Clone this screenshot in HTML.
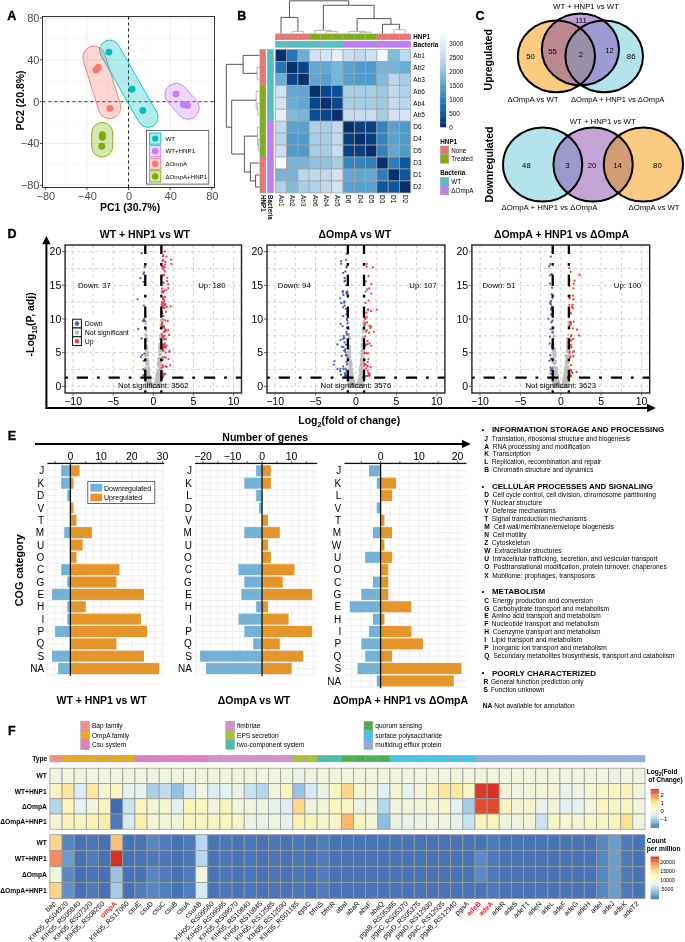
<!DOCTYPE html>
<html><head><meta charset="utf-8"><style>
html,body{margin:0;padding:0;background:#fff;}
svg{display:block;will-change:transform;}
svg text{font-family:"Liberation Sans", sans-serif;}
</style></head><body>
<svg width="685" height="942" viewBox="0 0 685 942" font-family='"Liberation Sans", sans-serif'>
<rect width="685" height="942" fill="#fff"/>
<text x="7.3" y="20" font-size="12.5" font-weight="bold" stroke="#000" stroke-width="0.35">A</text>
<rect x="42.5" y="16.5" width="172" height="171" fill="#fff"/>
<line x1="66.11" y1="16.5" x2="66.11" y2="187.5" stroke="#f3f3f3" stroke-width="0.6"/>
<line x1="42.5" y1="164.39" x2="214.5" y2="164.39" stroke="#f3f3f3" stroke-width="0.6"/>
<line x1="107.74" y1="16.5" x2="107.74" y2="187.5" stroke="#f3f3f3" stroke-width="0.6"/>
<line x1="42.5" y1="122.56" x2="214.5" y2="122.56" stroke="#f3f3f3" stroke-width="0.6"/>
<line x1="149.36" y1="16.5" x2="149.36" y2="187.5" stroke="#f3f3f3" stroke-width="0.6"/>
<line x1="42.5" y1="80.74" x2="214.5" y2="80.74" stroke="#f3f3f3" stroke-width="0.6"/>
<line x1="190.99" y1="16.5" x2="190.99" y2="187.5" stroke="#f3f3f3" stroke-width="0.6"/>
<line x1="42.5" y1="38.91" x2="214.5" y2="38.91" stroke="#f3f3f3" stroke-width="0.6"/>
<line x1="45.3" y1="16.5" x2="45.3" y2="187.5" stroke="#ebebeb" stroke-width="0.9"/>
<line x1="42.5" y1="185.3" x2="214.5" y2="185.3" stroke="#ebebeb" stroke-width="0.9"/>
<line x1="86.93" y1="16.5" x2="86.93" y2="187.5" stroke="#ebebeb" stroke-width="0.9"/>
<line x1="42.5" y1="143.47" x2="214.5" y2="143.47" stroke="#ebebeb" stroke-width="0.9"/>
<line x1="128.55" y1="16.5" x2="128.55" y2="187.5" stroke="#ebebeb" stroke-width="0.9"/>
<line x1="42.5" y1="101.65" x2="214.5" y2="101.65" stroke="#ebebeb" stroke-width="0.9"/>
<line x1="170.17" y1="16.5" x2="170.17" y2="187.5" stroke="#ebebeb" stroke-width="0.9"/>
<line x1="42.5" y1="59.83" x2="214.5" y2="59.83" stroke="#ebebeb" stroke-width="0.9"/>
<line x1="211.8" y1="16.5" x2="211.8" y2="187.5" stroke="#ebebeb" stroke-width="0.9"/>
<line x1="42.5" y1="18" x2="214.5" y2="18" stroke="#ebebeb" stroke-width="0.9"/>
<line x1="42.5" y1="101.65" x2="214.5" y2="101.65" stroke="#555" stroke-width="1.3" stroke-dasharray="2.9,3.1"/>
<line x1="128.55" y1="16.5" x2="128.55" y2="187.5" stroke="#111" stroke-width="1" stroke-dasharray="2.9,3.1"/>
<path d="M83.35,60.73 L98.85,110.73 A11.25,11.25 0 0 0 120.35,104.07 L104.85,54.07 A11.25,11.25 0 0 0 83.35,60.73 Z" fill="#F8766D" fill-opacity="0.3" stroke="#F8766D" stroke-width="0.9"/>
<path d="M100.88,55.23 L139.08,122.23 A10.15,10.15 0 0 0 156.72,112.17 L118.52,45.17 A10.15,10.15 0 0 0 100.88,55.23 Z" fill="#00BFC4" fill-opacity="0.3" stroke="#00BFC4" stroke-width="0.9"/>
<path d="M167.72,102.07 L179.52,115.47 A11.3,11.3 0 0 0 196.48,100.53 L184.68,87.13 A11.3,11.3 0 0 0 167.72,102.07 Z" fill="#C77CFF" fill-opacity="0.3" stroke="#C77CFF" stroke-width="0.9"/>
<path d="M91.7,133 L91.7,146.5 A10.5,10.5 0 0 0 112.7,146.5 L112.7,133 A10.5,10.5 0 0 0 91.7,133 Z" fill="#7CAE00" fill-opacity="0.3" stroke="#7CAE00" stroke-width="0.9"/>
<circle cx="108.9" cy="52.1" r="3.45" fill="#00BFC4"/>
<circle cx="132.1" cy="89.3" r="3.45" fill="#00BFC4"/>
<circle cx="142.8" cy="110.5" r="3.45" fill="#00BFC4"/>
<circle cx="96" cy="70.1" r="3.45" fill="#F8766D"/>
<circle cx="98.4" cy="67.4" r="3.45" fill="#F8766D"/>
<circle cx="110" cy="108.4" r="3.45" fill="#F8766D"/>
<circle cx="176.1" cy="94" r="3.45" fill="#C77CFF"/>
<circle cx="183.3" cy="104.5" r="3.45" fill="#C77CFF"/>
<circle cx="187.5" cy="105.4" r="3.45" fill="#C77CFF"/>
<circle cx="102.4" cy="134.6" r="3.45" fill="#7CAE00"/>
<circle cx="102.4" cy="137.2" r="3.45" fill="#7CAE00"/>
<circle cx="101.8" cy="146.3" r="3.45" fill="#7CAE00"/>
<rect x="42.5" y="16.5" width="172" height="171" fill="none" stroke="#333" stroke-width="1"/>
<line x1="40" y1="185.3" x2="42.5" y2="185.3" stroke="#333" stroke-width="0.9"/>
<line x1="45.3" y1="187.5" x2="45.3" y2="190" stroke="#333" stroke-width="0.9"/>
<text x="39.4" y="189.2" font-size="11" text-anchor="end" fill="#4d4d4d">&#8722;80</text>
<text x="45.8" y="200.4" font-size="11" text-anchor="middle" fill="#4d4d4d">&#8722;80</text>
<line x1="40" y1="143.47" x2="42.5" y2="143.47" stroke="#333" stroke-width="0.9"/>
<line x1="86.93" y1="187.5" x2="86.93" y2="190" stroke="#333" stroke-width="0.9"/>
<text x="39.4" y="147.37" font-size="11" text-anchor="end" fill="#4d4d4d">&#8722;40</text>
<text x="87.43" y="200.4" font-size="11" text-anchor="middle" fill="#4d4d4d">&#8722;40</text>
<line x1="40" y1="101.65" x2="42.5" y2="101.65" stroke="#333" stroke-width="0.9"/>
<line x1="128.55" y1="187.5" x2="128.55" y2="190" stroke="#333" stroke-width="0.9"/>
<text x="39.4" y="105.55" font-size="11" text-anchor="end" fill="#4d4d4d">0</text>
<text x="129.05" y="200.4" font-size="11" text-anchor="middle" fill="#4d4d4d">0</text>
<line x1="40" y1="59.83" x2="42.5" y2="59.83" stroke="#333" stroke-width="0.9"/>
<line x1="170.17" y1="187.5" x2="170.17" y2="190" stroke="#333" stroke-width="0.9"/>
<text x="39.4" y="63.73" font-size="11" text-anchor="end" fill="#4d4d4d">40</text>
<text x="170.67" y="200.4" font-size="11" text-anchor="middle" fill="#4d4d4d">40</text>
<line x1="40" y1="18" x2="42.5" y2="18" stroke="#333" stroke-width="0.9"/>
<line x1="211.8" y1="187.5" x2="211.8" y2="190" stroke="#333" stroke-width="0.9"/>
<text x="39.4" y="21.9" font-size="11" text-anchor="end" fill="#4d4d4d">80</text>
<text x="212.3" y="200.4" font-size="11" text-anchor="middle" fill="#4d4d4d">80</text>
<text x="130.1" y="211" font-size="10.5" text-anchor="middle" font-weight="bold">PC1 (30.7%)</text>
<text transform="translate(23.8,100.5) rotate(-90)" font-size="10.5" font-weight="bold" text-anchor="middle">PC2 (20.8%)</text>
<rect x="146.4" y="130.4" width="62.4" height="53.7" fill="#fff" stroke="#444" stroke-width="0.8"/>
<rect x="149.6" y="133" width="11.2" height="11.2" fill="#00BFC4" fill-opacity="0.3" stroke="#00BFC4" stroke-width="0.9"/>
<circle cx="155.2" cy="138.6" r="3.2" fill="#00BFC4"/>
<text x="165.4" y="140.8" font-size="6.2">WT</text>
<rect x="149.6" y="145.6" width="11.2" height="11.2" fill="#C77CFF" fill-opacity="0.3" stroke="#C77CFF" stroke-width="0.9"/>
<circle cx="155.2" cy="151.2" r="3.2" fill="#C77CFF"/>
<text x="165.4" y="153.4" font-size="6.2">WT+HNP1</text>
<rect x="149.6" y="158.2" width="11.2" height="11.2" fill="#F8766D" fill-opacity="0.3" stroke="#F8766D" stroke-width="0.9"/>
<circle cx="155.2" cy="163.8" r="3.2" fill="#F8766D"/>
<text x="165.4" y="166" font-size="6.2">&#916;OmpA</text>
<rect x="149.6" y="170.8" width="11.2" height="11.2" fill="#7CAE00" fill-opacity="0.3" stroke="#7CAE00" stroke-width="0.9"/>
<circle cx="155.2" cy="176.4" r="3.2" fill="#7CAE00"/>
<text x="165.4" y="178.6" font-size="6.2">&#916;OmpA+HNP1</text>
<text x="237.3" y="19.9" font-size="12.5" font-weight="bold" stroke="#000" stroke-width="0.35">B</text>
<rect x="275.4" y="49.4" width="11.28" height="11.96" fill="#08306b" stroke="#a3a3a3" stroke-width="0.7"/>
<rect x="286.67" y="49.4" width="11.28" height="11.96" fill="#2575b7" stroke="#a3a3a3" stroke-width="0.7"/>
<rect x="297.95" y="49.4" width="11.28" height="11.96" fill="#6baed6" stroke="#a3a3a3" stroke-width="0.7"/>
<rect x="309.22" y="49.4" width="11.28" height="11.96" fill="#cee1f2" stroke="#a3a3a3" stroke-width="0.7"/>
<rect x="320.5" y="49.4" width="11.28" height="11.96" fill="#d4e4f4" stroke="#a3a3a3" stroke-width="0.7"/>
<rect x="331.77" y="49.4" width="11.28" height="11.96" fill="#e5f0f9" stroke="#a3a3a3" stroke-width="0.7"/>
<rect x="343.05" y="49.4" width="11.28" height="11.96" fill="#c9ddf0" stroke="#a3a3a3" stroke-width="0.7"/>
<rect x="354.32" y="49.4" width="11.28" height="11.96" fill="#c1d9ed" stroke="#a3a3a3" stroke-width="0.7"/>
<rect x="365.6" y="49.4" width="11.28" height="11.96" fill="#cee1f2" stroke="#a3a3a3" stroke-width="0.7"/>
<rect x="376.88" y="49.4" width="11.28" height="11.96" fill="#f6faff" stroke="#a3a3a3" stroke-width="0.7"/>
<rect x="388.15" y="49.4" width="11.28" height="11.96" fill="#83bbdb" stroke="#a3a3a3" stroke-width="0.7"/>
<rect x="399.42" y="49.4" width="11.28" height="11.96" fill="#c1d9ed" stroke="#a3a3a3" stroke-width="0.7"/>
<rect x="275.4" y="61.36" width="11.28" height="11.96" fill="#2575b7" stroke="#a3a3a3" stroke-width="0.7"/>
<rect x="286.67" y="61.36" width="11.28" height="11.96" fill="#08306b" stroke="#a3a3a3" stroke-width="0.7"/>
<rect x="297.95" y="61.36" width="11.28" height="11.96" fill="#08478e" stroke="#a3a3a3" stroke-width="0.7"/>
<rect x="309.22" y="61.36" width="11.28" height="11.96" fill="#61a7d2" stroke="#a3a3a3" stroke-width="0.7"/>
<rect x="320.5" y="61.36" width="11.28" height="11.96" fill="#61a7d2" stroke="#a3a3a3" stroke-width="0.7"/>
<rect x="331.77" y="61.36" width="11.28" height="11.96" fill="#77b5d9" stroke="#a3a3a3" stroke-width="0.7"/>
<rect x="343.05" y="61.36" width="11.28" height="11.96" fill="#58a1ce" stroke="#a3a3a3" stroke-width="0.7"/>
<rect x="354.32" y="61.36" width="11.28" height="11.96" fill="#4e9acb" stroke="#a3a3a3" stroke-width="0.7"/>
<rect x="365.6" y="61.36" width="11.28" height="11.96" fill="#4e9acb" stroke="#a3a3a3" stroke-width="0.7"/>
<rect x="376.88" y="61.36" width="11.28" height="11.96" fill="#77b5d9" stroke="#a3a3a3" stroke-width="0.7"/>
<rect x="388.15" y="61.36" width="11.28" height="11.96" fill="#77b5d9" stroke="#a3a3a3" stroke-width="0.7"/>
<rect x="399.42" y="61.36" width="11.28" height="11.96" fill="#6baed6" stroke="#a3a3a3" stroke-width="0.7"/>
<rect x="275.4" y="73.32" width="11.28" height="11.96" fill="#6baed6" stroke="#a3a3a3" stroke-width="0.7"/>
<rect x="286.67" y="73.32" width="11.28" height="11.96" fill="#08478e" stroke="#a3a3a3" stroke-width="0.7"/>
<rect x="297.95" y="73.32" width="11.28" height="11.96" fill="#08306b" stroke="#a3a3a3" stroke-width="0.7"/>
<rect x="309.22" y="73.32" width="11.28" height="11.96" fill="#61a7d2" stroke="#a3a3a3" stroke-width="0.7"/>
<rect x="320.5" y="73.32" width="11.28" height="11.96" fill="#58a1ce" stroke="#a3a3a3" stroke-width="0.7"/>
<rect x="331.77" y="73.32" width="11.28" height="11.96" fill="#77b5d9" stroke="#a3a3a3" stroke-width="0.7"/>
<rect x="343.05" y="73.32" width="11.28" height="11.96" fill="#58a1ce" stroke="#a3a3a3" stroke-width="0.7"/>
<rect x="354.32" y="73.32" width="11.28" height="11.96" fill="#4e9acb" stroke="#a3a3a3" stroke-width="0.7"/>
<rect x="365.6" y="73.32" width="11.28" height="11.96" fill="#4e9acb" stroke="#a3a3a3" stroke-width="0.7"/>
<rect x="376.88" y="73.32" width="11.28" height="11.96" fill="#83bbdb" stroke="#a3a3a3" stroke-width="0.7"/>
<rect x="388.15" y="73.32" width="11.28" height="11.96" fill="#b8d5ea" stroke="#a3a3a3" stroke-width="0.7"/>
<rect x="399.42" y="73.32" width="11.28" height="11.96" fill="#a5cde3" stroke="#a3a3a3" stroke-width="0.7"/>
<rect x="275.4" y="85.28" width="11.28" height="11.96" fill="#cee1f2" stroke="#a3a3a3" stroke-width="0.7"/>
<rect x="286.67" y="85.28" width="11.28" height="11.96" fill="#61a7d2" stroke="#a3a3a3" stroke-width="0.7"/>
<rect x="297.95" y="85.28" width="11.28" height="11.96" fill="#61a7d2" stroke="#a3a3a3" stroke-width="0.7"/>
<rect x="309.22" y="85.28" width="11.28" height="11.96" fill="#08306b" stroke="#a3a3a3" stroke-width="0.7"/>
<rect x="320.5" y="85.28" width="11.28" height="11.96" fill="#08478e" stroke="#a3a3a3" stroke-width="0.7"/>
<rect x="331.77" y="85.28" width="11.28" height="11.96" fill="#084f99" stroke="#a3a3a3" stroke-width="0.7"/>
<rect x="343.05" y="85.28" width="11.28" height="11.96" fill="#aacfe5" stroke="#a3a3a3" stroke-width="0.7"/>
<rect x="354.32" y="85.28" width="11.28" height="11.96" fill="#a5cde3" stroke="#a3a3a3" stroke-width="0.7"/>
<rect x="365.6" y="85.28" width="11.28" height="11.96" fill="#a5cde3" stroke="#a3a3a3" stroke-width="0.7"/>
<rect x="376.88" y="85.28" width="11.28" height="11.96" fill="#9bc8e0" stroke="#a3a3a3" stroke-width="0.7"/>
<rect x="388.15" y="85.28" width="11.28" height="11.96" fill="#c1d9ed" stroke="#a3a3a3" stroke-width="0.7"/>
<rect x="399.42" y="85.28" width="11.28" height="11.96" fill="#aed1e7" stroke="#a3a3a3" stroke-width="0.7"/>
<rect x="275.4" y="97.24" width="11.28" height="11.96" fill="#d4e4f4" stroke="#a3a3a3" stroke-width="0.7"/>
<rect x="286.67" y="97.24" width="11.28" height="11.96" fill="#6baed6" stroke="#a3a3a3" stroke-width="0.7"/>
<rect x="297.95" y="97.24" width="11.28" height="11.96" fill="#61a7d2" stroke="#a3a3a3" stroke-width="0.7"/>
<rect x="309.22" y="97.24" width="11.28" height="11.96" fill="#08478e" stroke="#a3a3a3" stroke-width="0.7"/>
<rect x="320.5" y="97.24" width="11.28" height="11.96" fill="#08306b" stroke="#a3a3a3" stroke-width="0.7"/>
<rect x="331.77" y="97.24" width="11.28" height="11.96" fill="#08478e" stroke="#a3a3a3" stroke-width="0.7"/>
<rect x="343.05" y="97.24" width="11.28" height="11.96" fill="#aacfe5" stroke="#a3a3a3" stroke-width="0.7"/>
<rect x="354.32" y="97.24" width="11.28" height="11.96" fill="#a5cde3" stroke="#a3a3a3" stroke-width="0.7"/>
<rect x="365.6" y="97.24" width="11.28" height="11.96" fill="#a5cde3" stroke="#a3a3a3" stroke-width="0.7"/>
<rect x="376.88" y="97.24" width="11.28" height="11.96" fill="#9bc8e0" stroke="#a3a3a3" stroke-width="0.7"/>
<rect x="388.15" y="97.24" width="11.28" height="11.96" fill="#c6dbef" stroke="#a3a3a3" stroke-width="0.7"/>
<rect x="399.42" y="97.24" width="11.28" height="11.96" fill="#b8d5ea" stroke="#a3a3a3" stroke-width="0.7"/>
<rect x="275.4" y="109.2" width="11.28" height="11.96" fill="#e5f0f9" stroke="#a3a3a3" stroke-width="0.7"/>
<rect x="286.67" y="109.2" width="11.28" height="11.96" fill="#83bbdb" stroke="#a3a3a3" stroke-width="0.7"/>
<rect x="297.95" y="109.2" width="11.28" height="11.96" fill="#77b5d9" stroke="#a3a3a3" stroke-width="0.7"/>
<rect x="309.22" y="109.2" width="11.28" height="11.96" fill="#084f99" stroke="#a3a3a3" stroke-width="0.7"/>
<rect x="320.5" y="109.2" width="11.28" height="11.96" fill="#08478e" stroke="#a3a3a3" stroke-width="0.7"/>
<rect x="331.77" y="109.2" width="11.28" height="11.96" fill="#08306b" stroke="#a3a3a3" stroke-width="0.7"/>
<rect x="343.05" y="109.2" width="11.28" height="11.96" fill="#c6dbef" stroke="#a3a3a3" stroke-width="0.7"/>
<rect x="354.32" y="109.2" width="11.28" height="11.96" fill="#c9ddf0" stroke="#a3a3a3" stroke-width="0.7"/>
<rect x="365.6" y="109.2" width="11.28" height="11.96" fill="#c9ddf0" stroke="#a3a3a3" stroke-width="0.7"/>
<rect x="376.88" y="109.2" width="11.28" height="11.96" fill="#a5cde3" stroke="#a3a3a3" stroke-width="0.7"/>
<rect x="388.15" y="109.2" width="11.28" height="11.96" fill="#d4e4f4" stroke="#a3a3a3" stroke-width="0.7"/>
<rect x="399.42" y="109.2" width="11.28" height="11.96" fill="#d4e4f4" stroke="#a3a3a3" stroke-width="0.7"/>
<rect x="275.4" y="121.16" width="11.28" height="11.96" fill="#c1d9ed" stroke="#a3a3a3" stroke-width="0.7"/>
<rect x="286.67" y="121.16" width="11.28" height="11.96" fill="#58a1ce" stroke="#a3a3a3" stroke-width="0.7"/>
<rect x="297.95" y="121.16" width="11.28" height="11.96" fill="#58a1ce" stroke="#a3a3a3" stroke-width="0.7"/>
<rect x="309.22" y="121.16" width="11.28" height="11.96" fill="#aed1e7" stroke="#a3a3a3" stroke-width="0.7"/>
<rect x="320.5" y="121.16" width="11.28" height="11.96" fill="#a5cde3" stroke="#a3a3a3" stroke-width="0.7"/>
<rect x="331.77" y="121.16" width="11.28" height="11.96" fill="#c1d9ed" stroke="#a3a3a3" stroke-width="0.7"/>
<rect x="343.05" y="121.16" width="11.28" height="11.96" fill="#08306b" stroke="#a3a3a3" stroke-width="0.7"/>
<rect x="354.32" y="121.16" width="11.28" height="11.96" fill="#084082" stroke="#a3a3a3" stroke-width="0.7"/>
<rect x="365.6" y="121.16" width="11.28" height="11.96" fill="#084082" stroke="#a3a3a3" stroke-width="0.7"/>
<rect x="376.88" y="121.16" width="11.28" height="11.96" fill="#3484bf" stroke="#a3a3a3" stroke-width="0.7"/>
<rect x="388.15" y="121.16" width="11.28" height="11.96" fill="#58a1ce" stroke="#a3a3a3" stroke-width="0.7"/>
<rect x="399.42" y="121.16" width="11.28" height="11.96" fill="#4e9acb" stroke="#a3a3a3" stroke-width="0.7"/>
<rect x="275.4" y="133.12" width="11.28" height="11.96" fill="#b8d5ea" stroke="#a3a3a3" stroke-width="0.7"/>
<rect x="286.67" y="133.12" width="11.28" height="11.96" fill="#4e9acb" stroke="#a3a3a3" stroke-width="0.7"/>
<rect x="297.95" y="133.12" width="11.28" height="11.96" fill="#4e9acb" stroke="#a3a3a3" stroke-width="0.7"/>
<rect x="309.22" y="133.12" width="11.28" height="11.96" fill="#a5cde3" stroke="#a3a3a3" stroke-width="0.7"/>
<rect x="320.5" y="133.12" width="11.28" height="11.96" fill="#a5cde3" stroke="#a3a3a3" stroke-width="0.7"/>
<rect x="331.77" y="133.12" width="11.28" height="11.96" fill="#c1d9ed" stroke="#a3a3a3" stroke-width="0.7"/>
<rect x="343.05" y="133.12" width="11.28" height="11.96" fill="#084082" stroke="#a3a3a3" stroke-width="0.7"/>
<rect x="354.32" y="133.12" width="11.28" height="11.96" fill="#08306b" stroke="#a3a3a3" stroke-width="0.7"/>
<rect x="365.6" y="133.12" width="11.28" height="11.96" fill="#084082" stroke="#a3a3a3" stroke-width="0.7"/>
<rect x="376.88" y="133.12" width="11.28" height="11.96" fill="#3484bf" stroke="#a3a3a3" stroke-width="0.7"/>
<rect x="388.15" y="133.12" width="11.28" height="11.96" fill="#58a1ce" stroke="#a3a3a3" stroke-width="0.7"/>
<rect x="399.42" y="133.12" width="11.28" height="11.96" fill="#4e9acb" stroke="#a3a3a3" stroke-width="0.7"/>
<rect x="275.4" y="145.08" width="11.28" height="11.96" fill="#cee1f2" stroke="#a3a3a3" stroke-width="0.7"/>
<rect x="286.67" y="145.08" width="11.28" height="11.96" fill="#4e9acb" stroke="#a3a3a3" stroke-width="0.7"/>
<rect x="297.95" y="145.08" width="11.28" height="11.96" fill="#4e9acb" stroke="#a3a3a3" stroke-width="0.7"/>
<rect x="309.22" y="145.08" width="11.28" height="11.96" fill="#a5cde3" stroke="#a3a3a3" stroke-width="0.7"/>
<rect x="320.5" y="145.08" width="11.28" height="11.96" fill="#a5cde3" stroke="#a3a3a3" stroke-width="0.7"/>
<rect x="331.77" y="145.08" width="11.28" height="11.96" fill="#c9ddf0" stroke="#a3a3a3" stroke-width="0.7"/>
<rect x="343.05" y="145.08" width="11.28" height="11.96" fill="#084082" stroke="#a3a3a3" stroke-width="0.7"/>
<rect x="354.32" y="145.08" width="11.28" height="11.96" fill="#084082" stroke="#a3a3a3" stroke-width="0.7"/>
<rect x="365.6" y="145.08" width="11.28" height="11.96" fill="#08306b" stroke="#a3a3a3" stroke-width="0.7"/>
<rect x="376.88" y="145.08" width="11.28" height="11.96" fill="#3181bd" stroke="#a3a3a3" stroke-width="0.7"/>
<rect x="388.15" y="145.08" width="11.28" height="11.96" fill="#61a7d2" stroke="#a3a3a3" stroke-width="0.7"/>
<rect x="399.42" y="145.08" width="11.28" height="11.96" fill="#4e9acb" stroke="#a3a3a3" stroke-width="0.7"/>
<rect x="275.4" y="157.04" width="11.28" height="11.96" fill="#f6faff" stroke="#a3a3a3" stroke-width="0.7"/>
<rect x="286.67" y="157.04" width="11.28" height="11.96" fill="#77b5d9" stroke="#a3a3a3" stroke-width="0.7"/>
<rect x="297.95" y="157.04" width="11.28" height="11.96" fill="#77b5d9" stroke="#a3a3a3" stroke-width="0.7"/>
<rect x="309.22" y="157.04" width="11.28" height="11.96" fill="#8fc2de" stroke="#a3a3a3" stroke-width="0.7"/>
<rect x="320.5" y="157.04" width="11.28" height="11.96" fill="#8fc2de" stroke="#a3a3a3" stroke-width="0.7"/>
<rect x="331.77" y="157.04" width="11.28" height="11.96" fill="#a5cde3" stroke="#a3a3a3" stroke-width="0.7"/>
<rect x="343.05" y="157.04" width="11.28" height="11.96" fill="#3484bf" stroke="#a3a3a3" stroke-width="0.7"/>
<rect x="354.32" y="157.04" width="11.28" height="11.96" fill="#3484bf" stroke="#a3a3a3" stroke-width="0.7"/>
<rect x="365.6" y="157.04" width="11.28" height="11.96" fill="#3181bd" stroke="#a3a3a3" stroke-width="0.7"/>
<rect x="376.88" y="157.04" width="11.28" height="11.96" fill="#08306b" stroke="#a3a3a3" stroke-width="0.7"/>
<rect x="388.15" y="157.04" width="11.28" height="11.96" fill="#2d7dbb" stroke="#a3a3a3" stroke-width="0.7"/>
<rect x="399.42" y="157.04" width="11.28" height="11.96" fill="#0c57a0" stroke="#a3a3a3" stroke-width="0.7"/>
<rect x="275.4" y="169" width="11.28" height="11.96" fill="#77b5d9" stroke="#a3a3a3" stroke-width="0.7"/>
<rect x="286.67" y="169" width="11.28" height="11.96" fill="#77b5d9" stroke="#a3a3a3" stroke-width="0.7"/>
<rect x="297.95" y="169" width="11.28" height="11.96" fill="#b8d5ea" stroke="#a3a3a3" stroke-width="0.7"/>
<rect x="309.22" y="169" width="11.28" height="11.96" fill="#c1d9ed" stroke="#a3a3a3" stroke-width="0.7"/>
<rect x="320.5" y="169" width="11.28" height="11.96" fill="#c1d9ed" stroke="#a3a3a3" stroke-width="0.7"/>
<rect x="331.77" y="169" width="11.28" height="11.96" fill="#d4e4f4" stroke="#a3a3a3" stroke-width="0.7"/>
<rect x="343.05" y="169" width="11.28" height="11.96" fill="#61a7d2" stroke="#a3a3a3" stroke-width="0.7"/>
<rect x="354.32" y="169" width="11.28" height="11.96" fill="#61a7d2" stroke="#a3a3a3" stroke-width="0.7"/>
<rect x="365.6" y="169" width="11.28" height="11.96" fill="#61a7d2" stroke="#a3a3a3" stroke-width="0.7"/>
<rect x="376.88" y="169" width="11.28" height="11.96" fill="#2d7dbb" stroke="#a3a3a3" stroke-width="0.7"/>
<rect x="388.15" y="169" width="11.28" height="11.96" fill="#08306b" stroke="#a3a3a3" stroke-width="0.7"/>
<rect x="399.42" y="169" width="11.28" height="11.96" fill="#0c57a0" stroke="#a3a3a3" stroke-width="0.7"/>
<rect x="275.4" y="180.96" width="11.28" height="11.96" fill="#aed1e7" stroke="#a3a3a3" stroke-width="0.7"/>
<rect x="286.67" y="180.96" width="11.28" height="11.96" fill="#83bbdb" stroke="#a3a3a3" stroke-width="0.7"/>
<rect x="297.95" y="180.96" width="11.28" height="11.96" fill="#a5cde3" stroke="#a3a3a3" stroke-width="0.7"/>
<rect x="309.22" y="180.96" width="11.28" height="11.96" fill="#aed1e7" stroke="#a3a3a3" stroke-width="0.7"/>
<rect x="320.5" y="180.96" width="11.28" height="11.96" fill="#c1d9ed" stroke="#a3a3a3" stroke-width="0.7"/>
<rect x="331.77" y="180.96" width="11.28" height="11.96" fill="#d4e4f4" stroke="#a3a3a3" stroke-width="0.7"/>
<rect x="343.05" y="180.96" width="11.28" height="11.96" fill="#58a1ce" stroke="#a3a3a3" stroke-width="0.7"/>
<rect x="354.32" y="180.96" width="11.28" height="11.96" fill="#58a1ce" stroke="#a3a3a3" stroke-width="0.7"/>
<rect x="365.6" y="180.96" width="11.28" height="11.96" fill="#58a1ce" stroke="#a3a3a3" stroke-width="0.7"/>
<rect x="376.88" y="180.96" width="11.28" height="11.96" fill="#0c57a0" stroke="#a3a3a3" stroke-width="0.7"/>
<rect x="388.15" y="180.96" width="11.28" height="11.96" fill="#0c57a0" stroke="#a3a3a3" stroke-width="0.7"/>
<rect x="399.42" y="180.96" width="11.28" height="11.96" fill="#08306b" stroke="#a3a3a3" stroke-width="0.7"/>
<rect x="275.4" y="33.9" width="11.28" height="5.9" fill="#E8766F" stroke="#a3a3a3" stroke-width="0.5"/>
<rect x="275.4" y="41.1" width="11.28" height="6.3" fill="#55BFC2" stroke="#a3a3a3" stroke-width="0.5"/>
<rect x="286.67" y="33.9" width="11.28" height="5.9" fill="#E8766F" stroke="#a3a3a3" stroke-width="0.5"/>
<rect x="286.67" y="41.1" width="11.28" height="6.3" fill="#55BFC2" stroke="#a3a3a3" stroke-width="0.5"/>
<rect x="297.95" y="33.9" width="11.28" height="5.9" fill="#E8766F" stroke="#a3a3a3" stroke-width="0.5"/>
<rect x="297.95" y="41.1" width="11.28" height="6.3" fill="#55BFC2" stroke="#a3a3a3" stroke-width="0.5"/>
<rect x="309.22" y="33.9" width="11.28" height="5.9" fill="#80AD13" stroke="#a3a3a3" stroke-width="0.5"/>
<rect x="309.22" y="41.1" width="11.28" height="6.3" fill="#55BFC2" stroke="#a3a3a3" stroke-width="0.5"/>
<rect x="320.5" y="33.9" width="11.28" height="5.9" fill="#80AD13" stroke="#a3a3a3" stroke-width="0.5"/>
<rect x="320.5" y="41.1" width="11.28" height="6.3" fill="#55BFC2" stroke="#a3a3a3" stroke-width="0.5"/>
<rect x="331.77" y="33.9" width="11.28" height="5.9" fill="#80AD13" stroke="#a3a3a3" stroke-width="0.5"/>
<rect x="331.77" y="41.1" width="11.28" height="6.3" fill="#55BFC2" stroke="#a3a3a3" stroke-width="0.5"/>
<rect x="343.05" y="33.9" width="11.28" height="5.9" fill="#80AD13" stroke="#a3a3a3" stroke-width="0.5"/>
<rect x="343.05" y="41.1" width="11.28" height="6.3" fill="#C17CF7" stroke="#a3a3a3" stroke-width="0.5"/>
<rect x="354.32" y="33.9" width="11.28" height="5.9" fill="#80AD13" stroke="#a3a3a3" stroke-width="0.5"/>
<rect x="354.32" y="41.1" width="11.28" height="6.3" fill="#C17CF7" stroke="#a3a3a3" stroke-width="0.5"/>
<rect x="365.6" y="33.9" width="11.28" height="5.9" fill="#80AD13" stroke="#a3a3a3" stroke-width="0.5"/>
<rect x="365.6" y="41.1" width="11.28" height="6.3" fill="#C17CF7" stroke="#a3a3a3" stroke-width="0.5"/>
<rect x="376.88" y="33.9" width="11.28" height="5.9" fill="#E8766F" stroke="#a3a3a3" stroke-width="0.5"/>
<rect x="376.88" y="41.1" width="11.28" height="6.3" fill="#C17CF7" stroke="#a3a3a3" stroke-width="0.5"/>
<rect x="388.15" y="33.9" width="11.28" height="5.9" fill="#E8766F" stroke="#a3a3a3" stroke-width="0.5"/>
<rect x="388.15" y="41.1" width="11.28" height="6.3" fill="#C17CF7" stroke="#a3a3a3" stroke-width="0.5"/>
<rect x="399.42" y="33.9" width="11.28" height="5.9" fill="#E8766F" stroke="#a3a3a3" stroke-width="0.5"/>
<rect x="399.42" y="41.1" width="11.28" height="6.3" fill="#C17CF7" stroke="#a3a3a3" stroke-width="0.5"/>
<rect x="259.9" y="49.4" width="5.9" height="11.96" fill="#E8766F" stroke="#a3a3a3" stroke-width="0.5"/>
<rect x="267.3" y="49.4" width="6.3" height="11.96" fill="#55BFC2" stroke="#a3a3a3" stroke-width="0.5"/>
<rect x="259.9" y="61.36" width="5.9" height="11.96" fill="#E8766F" stroke="#a3a3a3" stroke-width="0.5"/>
<rect x="267.3" y="61.36" width="6.3" height="11.96" fill="#55BFC2" stroke="#a3a3a3" stroke-width="0.5"/>
<rect x="259.9" y="73.32" width="5.9" height="11.96" fill="#E8766F" stroke="#a3a3a3" stroke-width="0.5"/>
<rect x="267.3" y="73.32" width="6.3" height="11.96" fill="#55BFC2" stroke="#a3a3a3" stroke-width="0.5"/>
<rect x="259.9" y="85.28" width="5.9" height="11.96" fill="#80AD13" stroke="#a3a3a3" stroke-width="0.5"/>
<rect x="267.3" y="85.28" width="6.3" height="11.96" fill="#55BFC2" stroke="#a3a3a3" stroke-width="0.5"/>
<rect x="259.9" y="97.24" width="5.9" height="11.96" fill="#80AD13" stroke="#a3a3a3" stroke-width="0.5"/>
<rect x="267.3" y="97.24" width="6.3" height="11.96" fill="#55BFC2" stroke="#a3a3a3" stroke-width="0.5"/>
<rect x="259.9" y="109.2" width="5.9" height="11.96" fill="#80AD13" stroke="#a3a3a3" stroke-width="0.5"/>
<rect x="267.3" y="109.2" width="6.3" height="11.96" fill="#55BFC2" stroke="#a3a3a3" stroke-width="0.5"/>
<rect x="259.9" y="121.16" width="5.9" height="11.96" fill="#80AD13" stroke="#a3a3a3" stroke-width="0.5"/>
<rect x="267.3" y="121.16" width="6.3" height="11.96" fill="#C17CF7" stroke="#a3a3a3" stroke-width="0.5"/>
<rect x="259.9" y="133.12" width="5.9" height="11.96" fill="#80AD13" stroke="#a3a3a3" stroke-width="0.5"/>
<rect x="267.3" y="133.12" width="6.3" height="11.96" fill="#C17CF7" stroke="#a3a3a3" stroke-width="0.5"/>
<rect x="259.9" y="145.08" width="5.9" height="11.96" fill="#80AD13" stroke="#a3a3a3" stroke-width="0.5"/>
<rect x="267.3" y="145.08" width="6.3" height="11.96" fill="#C17CF7" stroke="#a3a3a3" stroke-width="0.5"/>
<rect x="259.9" y="157.04" width="5.9" height="11.96" fill="#E8766F" stroke="#a3a3a3" stroke-width="0.5"/>
<rect x="267.3" y="157.04" width="6.3" height="11.96" fill="#C17CF7" stroke="#a3a3a3" stroke-width="0.5"/>
<rect x="259.9" y="169" width="5.9" height="11.96" fill="#E8766F" stroke="#a3a3a3" stroke-width="0.5"/>
<rect x="267.3" y="169" width="6.3" height="11.96" fill="#C17CF7" stroke="#a3a3a3" stroke-width="0.5"/>
<rect x="259.9" y="180.96" width="5.9" height="11.96" fill="#E8766F" stroke="#a3a3a3" stroke-width="0.5"/>
<rect x="267.3" y="180.96" width="6.3" height="11.96" fill="#C17CF7" stroke="#a3a3a3" stroke-width="0.5"/>
<text x="413.3" y="57.68" font-size="6.5">Ab1</text>
<text transform="translate(278.74,195) rotate(90)" font-size="6.5">Ab1</text>
<text x="413.3" y="69.64" font-size="6.5">Ab2</text>
<text transform="translate(290.01,195) rotate(90)" font-size="6.5">Ab2</text>
<text x="413.3" y="81.6" font-size="6.5">Ab3</text>
<text transform="translate(301.29,195) rotate(90)" font-size="6.5">Ab3</text>
<text x="413.3" y="93.56" font-size="6.5">Ab6</text>
<text transform="translate(312.56,195) rotate(90)" font-size="6.5">Ab6</text>
<text x="413.3" y="105.52" font-size="6.5">Ab4</text>
<text transform="translate(323.84,195) rotate(90)" font-size="6.5">Ab4</text>
<text x="413.3" y="117.48" font-size="6.5">Ab5</text>
<text transform="translate(335.11,195) rotate(90)" font-size="6.5">Ab5</text>
<text x="413.3" y="129.44" font-size="6.5">D6</text>
<text transform="translate(346.39,195) rotate(90)" font-size="6.5">D6</text>
<text x="413.3" y="141.4" font-size="6.5">D4</text>
<text transform="translate(357.66,195) rotate(90)" font-size="6.5">D4</text>
<text x="413.3" y="153.36" font-size="6.5">D5</text>
<text transform="translate(368.94,195) rotate(90)" font-size="6.5">D5</text>
<text x="413.3" y="165.32" font-size="6.5">D3</text>
<text transform="translate(380.21,195) rotate(90)" font-size="6.5">D3</text>
<text x="413.3" y="177.28" font-size="6.5">D1</text>
<text transform="translate(391.49,195) rotate(90)" font-size="6.5">D1</text>
<text x="413.3" y="189.24" font-size="6.5">D2</text>
<text transform="translate(402.76,195) rotate(90)" font-size="6.5">D2</text>
<text x="413.3" y="39.3" font-size="6.3" font-weight="bold">HNP1</text>
<text x="413.3" y="46.7" font-size="6.3" font-weight="bold">Bacteria</text>
<text transform="translate(260.6,195) rotate(90)" font-size="6.3" font-weight="bold">HNP1</text>
<text transform="translate(268.1,195) rotate(90)" font-size="6.3" font-weight="bold">Bacteria</text>
<line x1="292.31" y1="31.3" x2="303.59" y2="31.3" stroke="#b0b0b0" stroke-width="0.9"/>
<line x1="292.31" y1="31.3" x2="292.31" y2="33.4" stroke="#b0b0b0" stroke-width="0.9"/>
<line x1="303.59" y1="31.3" x2="303.59" y2="33.4" stroke="#b0b0b0" stroke-width="0.9"/>
<line x1="281.04" y1="17.4" x2="297.95" y2="17.4" stroke="#444" stroke-width="0.9"/>
<line x1="281.04" y1="17.4" x2="281.04" y2="33.4" stroke="#444" stroke-width="0.9"/>
<line x1="297.95" y1="17.4" x2="297.95" y2="31.3" stroke="#444" stroke-width="0.9"/>
<line x1="326.14" y1="31.6" x2="337.41" y2="31.6" stroke="#b0b0b0" stroke-width="0.9"/>
<line x1="326.14" y1="31.6" x2="326.14" y2="33.4" stroke="#b0b0b0" stroke-width="0.9"/>
<line x1="337.41" y1="31.6" x2="337.41" y2="33.4" stroke="#b0b0b0" stroke-width="0.9"/>
<line x1="314.86" y1="30.3" x2="331.77" y2="30.3" stroke="#b0b0b0" stroke-width="0.9"/>
<line x1="314.86" y1="30.3" x2="314.86" y2="33.4" stroke="#b0b0b0" stroke-width="0.9"/>
<line x1="331.77" y1="30.3" x2="331.77" y2="31.6" stroke="#b0b0b0" stroke-width="0.9"/>
<line x1="359.96" y1="32.2" x2="371.24" y2="32.2" stroke="#b0b0b0" stroke-width="0.9"/>
<line x1="359.96" y1="32.2" x2="359.96" y2="33.4" stroke="#b0b0b0" stroke-width="0.9"/>
<line x1="371.24" y1="32.2" x2="371.24" y2="33.4" stroke="#b0b0b0" stroke-width="0.9"/>
<line x1="348.69" y1="31.4" x2="365.6" y2="31.4" stroke="#b0b0b0" stroke-width="0.9"/>
<line x1="348.69" y1="31.4" x2="348.69" y2="33.4" stroke="#b0b0b0" stroke-width="0.9"/>
<line x1="365.6" y1="31.4" x2="365.6" y2="32.2" stroke="#b0b0b0" stroke-width="0.9"/>
<line x1="393.79" y1="29.6" x2="405.06" y2="29.6" stroke="#b0b0b0" stroke-width="0.9"/>
<line x1="393.79" y1="29.6" x2="393.79" y2="33.4" stroke="#b0b0b0" stroke-width="0.9"/>
<line x1="405.06" y1="29.6" x2="405.06" y2="33.4" stroke="#b0b0b0" stroke-width="0.9"/>
<line x1="382.51" y1="24.3" x2="399.42" y2="24.3" stroke="#444" stroke-width="0.9"/>
<line x1="382.51" y1="24.3" x2="382.51" y2="33.4" stroke="#444" stroke-width="0.9"/>
<line x1="399.42" y1="24.3" x2="399.42" y2="29.6" stroke="#444" stroke-width="0.9"/>
<line x1="357.14" y1="18.6" x2="390.97" y2="18.6" stroke="#444" stroke-width="0.9"/>
<line x1="357.14" y1="18.6" x2="357.14" y2="31.4" stroke="#444" stroke-width="0.9"/>
<line x1="390.97" y1="18.6" x2="390.97" y2="24.3" stroke="#444" stroke-width="0.9"/>
<line x1="323.32" y1="5.3" x2="374.06" y2="5.3" stroke="#444" stroke-width="0.9"/>
<line x1="323.32" y1="5.3" x2="323.32" y2="30.3" stroke="#444" stroke-width="0.9"/>
<line x1="374.06" y1="5.3" x2="374.06" y2="18.6" stroke="#444" stroke-width="0.9"/>
<line x1="289.49" y1="0.8" x2="348.69" y2="0.8" stroke="#444" stroke-width="0.9"/>
<line x1="289.49" y1="0.8" x2="289.49" y2="17.4" stroke="#444" stroke-width="0.9"/>
<line x1="348.69" y1="0.8" x2="348.69" y2="5.3" stroke="#444" stroke-width="0.9"/>
<line x1="257" y1="67.34" x2="257" y2="79.3" stroke="#b0b0b0" stroke-width="0.9"/>
<line x1="257" y1="67.34" x2="259.4" y2="67.34" stroke="#b0b0b0" stroke-width="0.9"/>
<line x1="257" y1="79.3" x2="259.4" y2="79.3" stroke="#b0b0b0" stroke-width="0.9"/>
<line x1="243.1" y1="55.38" x2="243.1" y2="73.32" stroke="#444" stroke-width="0.9"/>
<line x1="243.1" y1="55.38" x2="259.4" y2="55.38" stroke="#444" stroke-width="0.9"/>
<line x1="243.1" y1="73.32" x2="257" y2="73.32" stroke="#444" stroke-width="0.9"/>
<line x1="257.8" y1="103.22" x2="257.8" y2="115.18" stroke="#b0b0b0" stroke-width="0.9"/>
<line x1="257.8" y1="103.22" x2="259.4" y2="103.22" stroke="#b0b0b0" stroke-width="0.9"/>
<line x1="257.8" y1="115.18" x2="259.4" y2="115.18" stroke="#b0b0b0" stroke-width="0.9"/>
<line x1="256.2" y1="91.26" x2="256.2" y2="109.2" stroke="#b0b0b0" stroke-width="0.9"/>
<line x1="256.2" y1="91.26" x2="259.4" y2="91.26" stroke="#b0b0b0" stroke-width="0.9"/>
<line x1="256.2" y1="109.2" x2="257.8" y2="109.2" stroke="#b0b0b0" stroke-width="0.9"/>
<line x1="258.3" y1="139.1" x2="258.3" y2="151.06" stroke="#b0b0b0" stroke-width="0.9"/>
<line x1="258.3" y1="139.1" x2="259.4" y2="139.1" stroke="#b0b0b0" stroke-width="0.9"/>
<line x1="258.3" y1="151.06" x2="259.4" y2="151.06" stroke="#b0b0b0" stroke-width="0.9"/>
<line x1="257.4" y1="127.14" x2="257.4" y2="145.08" stroke="#b0b0b0" stroke-width="0.9"/>
<line x1="257.4" y1="127.14" x2="259.4" y2="127.14" stroke="#b0b0b0" stroke-width="0.9"/>
<line x1="257.4" y1="145.08" x2="258.3" y2="145.08" stroke="#b0b0b0" stroke-width="0.9"/>
<line x1="255.6" y1="174.98" x2="255.6" y2="186.94" stroke="#444" stroke-width="0.9"/>
<line x1="255.6" y1="174.98" x2="259.4" y2="174.98" stroke="#444" stroke-width="0.9"/>
<line x1="255.6" y1="186.94" x2="259.4" y2="186.94" stroke="#444" stroke-width="0.9"/>
<line x1="250.4" y1="163.02" x2="250.4" y2="180.96" stroke="#444" stroke-width="0.9"/>
<line x1="250.4" y1="163.02" x2="259.4" y2="163.02" stroke="#444" stroke-width="0.9"/>
<line x1="250.4" y1="180.96" x2="255.6" y2="180.96" stroke="#444" stroke-width="0.9"/>
<line x1="244.4" y1="136.11" x2="244.4" y2="171.99" stroke="#444" stroke-width="0.9"/>
<line x1="244.4" y1="136.11" x2="257.4" y2="136.11" stroke="#444" stroke-width="0.9"/>
<line x1="244.4" y1="171.99" x2="250.4" y2="171.99" stroke="#444" stroke-width="0.9"/>
<line x1="231.7" y1="100.23" x2="231.7" y2="154.05" stroke="#444" stroke-width="0.9"/>
<line x1="231.7" y1="100.23" x2="256.2" y2="100.23" stroke="#444" stroke-width="0.9"/>
<line x1="231.7" y1="154.05" x2="244.4" y2="154.05" stroke="#444" stroke-width="0.9"/>
<line x1="226.3" y1="64.35" x2="226.3" y2="127.14" stroke="#444" stroke-width="0.9"/>
<line x1="226.3" y1="64.35" x2="243.1" y2="64.35" stroke="#444" stroke-width="0.9"/>
<line x1="226.3" y1="127.14" x2="231.7" y2="127.14" stroke="#444" stroke-width="0.9"/>
<rect x="440.1" y="32.7" width="6" height="2.66" fill="#f4f9fe"/>
<rect x="440.1" y="35.06" width="6" height="2.66" fill="#f0f6fd"/>
<rect x="440.1" y="37.42" width="6" height="2.66" fill="#eaf3fb"/>
<rect x="440.1" y="39.77" width="6" height="2.66" fill="#e6f0f9"/>
<rect x="440.1" y="42.13" width="6" height="2.66" fill="#e0edf8"/>
<rect x="440.1" y="44.49" width="6" height="2.66" fill="#dce9f6"/>
<rect x="440.1" y="46.84" width="6" height="2.66" fill="#d7e6f5"/>
<rect x="440.1" y="49.2" width="6" height="2.66" fill="#d2e3f3"/>
<rect x="440.1" y="51.56" width="6" height="2.66" fill="#cde0f1"/>
<rect x="440.1" y="53.92" width="6" height="2.66" fill="#c8ddf0"/>
<rect x="440.1" y="56.28" width="6" height="2.66" fill="#c2d9ee"/>
<rect x="440.1" y="58.63" width="6" height="2.66" fill="#bad6eb"/>
<rect x="440.1" y="60.99" width="6" height="2.66" fill="#b2d2e8"/>
<rect x="440.1" y="63.35" width="6" height="2.66" fill="#aacfe5"/>
<rect x="440.1" y="65.71" width="6" height="2.66" fill="#a2cce2"/>
<rect x="440.1" y="68.06" width="6" height="2.66" fill="#99c7e0"/>
<rect x="440.1" y="70.42" width="6" height="2.66" fill="#8fc2de"/>
<rect x="440.1" y="72.78" width="6" height="2.66" fill="#84bcdc"/>
<rect x="440.1" y="75.13" width="6" height="2.66" fill="#7ab6d9"/>
<rect x="440.1" y="77.49" width="6" height="2.66" fill="#70b1d7"/>
<rect x="440.1" y="79.85" width="6" height="2.66" fill="#67abd4"/>
<rect x="440.1" y="82.21" width="6" height="2.66" fill="#5fa6d1"/>
<rect x="440.1" y="84.56" width="6" height="2.66" fill="#56a0ce"/>
<rect x="440.1" y="86.92" width="6" height="2.66" fill="#4e9acb"/>
<rect x="440.1" y="89.28" width="6" height="2.66" fill="#4695c8"/>
<rect x="440.1" y="91.64" width="6" height="2.66" fill="#3f8fc4"/>
<rect x="440.1" y="94" width="6" height="2.66" fill="#3888c1"/>
<rect x="440.1" y="96.35" width="6" height="2.66" fill="#3282be"/>
<rect x="440.1" y="98.71" width="6" height="2.66" fill="#2b7bba"/>
<rect x="440.1" y="101.07" width="6" height="2.66" fill="#2474b7"/>
<rect x="440.1" y="103.42" width="6" height="2.66" fill="#1f6eb2"/>
<rect x="440.1" y="105.78" width="6" height="2.66" fill="#1a67ae"/>
<rect x="440.1" y="108.14" width="6" height="2.66" fill="#1461a8"/>
<rect x="440.1" y="110.5" width="6" height="2.66" fill="#0f5ba4"/>
<rect x="440.1" y="112.86" width="6" height="2.66" fill="#0a549e"/>
<rect x="440.1" y="115.21" width="6" height="2.66" fill="#084e97"/>
<rect x="440.1" y="117.57" width="6" height="2.66" fill="#08478d"/>
<rect x="440.1" y="119.93" width="6" height="2.66" fill="#084084"/>
<rect x="440.1" y="122.29" width="6" height="2.66" fill="#083a7a"/>
<rect x="440.1" y="124.64" width="6" height="2.66" fill="#083370"/>
<text x="449.2" y="129.6" font-size="6.3">0</text>
<text x="449.2" y="115.7" font-size="6.3">500</text>
<text x="449.2" y="101.8" font-size="6.3">1000</text>
<text x="449.2" y="87.9" font-size="6.3">1500</text>
<text x="449.2" y="74" font-size="6.3">2000</text>
<text x="449.2" y="60.1" font-size="6.3">2500</text>
<text x="449.2" y="46.2" font-size="6.3">3000</text>
<text x="440.3" y="143.6" font-size="6.3" font-weight="bold">HNP1</text>
<rect x="440.3" y="146" width="8.5" height="8.5" fill="#E8766F" stroke="#a3a3a3" stroke-width="0.5"/>
<rect x="440.3" y="154.5" width="8.5" height="8.8" fill="#80AD13" stroke="#a3a3a3" stroke-width="0.5"/>
<text x="451.3" y="152.6" font-size="6.3">None</text>
<text x="451.3" y="161.3" font-size="6.3">Treated</text>
<text x="440.3" y="175.1" font-size="6.3" font-weight="bold">Bacteria</text>
<rect x="440.3" y="177.4" width="8.5" height="8.9" fill="#55BFC2" stroke="#a3a3a3" stroke-width="0.5"/>
<rect x="440.3" y="186.3" width="8.5" height="8.5" fill="#C17CF7" stroke="#a3a3a3" stroke-width="0.5"/>
<text x="451.3" y="184.1" font-size="6.3">WT</text>
<text x="451.3" y="192.8" font-size="6.3">&#916;OmpA</text>
<text x="475.6" y="19.7" font-size="12.5" font-weight="bold" stroke="#000" stroke-width="0.35">C</text>
<defs><clipPath id="upc0"><ellipse cx="556.4" cy="56.3" rx="38.6" ry="35.9"/></clipPath><clipPath id="upc1"><ellipse cx="580.4" cy="49.4" rx="38.6" ry="35.8"/></clipPath><clipPath id="upc2"><ellipse cx="604.2" cy="56.3" rx="38.8" ry="35.9"/></clipPath></defs>
<ellipse cx="556.4" cy="56.3" rx="38.6" ry="35.9" fill="#FBCB80"/>
<ellipse cx="580.4" cy="49.4" rx="38.6" ry="35.8" fill="#BDA1D7"/>
<ellipse cx="604.2" cy="56.3" rx="38.8" ry="35.9" fill="#B3E3EB"/>
<g clip-path="url(#upc0)"><ellipse cx="580.4" cy="49.4" rx="38.6" ry="35.8" fill="#B98891"/></g>
<g clip-path="url(#upc1)"><ellipse cx="604.2" cy="56.3" rx="38.8" ry="35.9" fill="#9D9BD3"/></g>
<g clip-path="url(#upc0)"><ellipse cx="604.2" cy="56.3" rx="38.8" ry="35.9" fill="#C9B7A6"/></g>
<g clip-path="url(#upc0)"><g clip-path="url(#upc1)"><ellipse cx="604.2" cy="56.3" rx="38.8" ry="35.9" fill="#9A8FA7"/></g></g>
<ellipse cx="556.4" cy="56.3" rx="38.6" ry="35.9" fill="none" stroke="#000" stroke-width="2"/>
<ellipse cx="580.4" cy="49.4" rx="38.6" ry="35.8" fill="none" stroke="#000" stroke-width="2"/>
<ellipse cx="604.2" cy="56.3" rx="38.8" ry="35.9" fill="none" stroke="#000" stroke-width="2"/>
<text x="530.5" y="58.8" font-size="7.8" text-anchor="middle">50</text>
<text x="552.5" y="53.8" font-size="7.8" text-anchor="middle">55</text>
<text x="580.8" y="57.3" font-size="7.8" text-anchor="middle">2</text>
<text x="609.5" y="53.3" font-size="7.8" text-anchor="middle">12</text>
<text x="631.2" y="58.8" font-size="7.8" text-anchor="middle">86</text>
<text x="581" y="22.8" font-size="7.8" text-anchor="middle">111</text>
<text x="586" y="8.8" font-size="7.8" text-anchor="middle">WT + HNP1 vs WT</text>
<text x="533" y="102.2" font-size="7.8" text-anchor="middle">&#916;OmpA vs WT</text>
<text x="617.7" y="102.2" font-size="7.6" text-anchor="middle">&#916;OmpA + HNP1 vs &#916;OmpA</text>
<text transform="translate(492.2,59.8) rotate(-90)" font-size="10.5" font-weight="bold" text-anchor="middle">Upregulated</text>
<defs><clipPath id="dnc0"><ellipse cx="542.65" cy="164.5" rx="39.65" ry="37.1"/></clipPath><clipPath id="dnc1"><ellipse cx="593.1" cy="164.5" rx="39.65" ry="37.1"/></clipPath><clipPath id="dnc2"><ellipse cx="643.4" cy="164.5" rx="39.65" ry="37.1"/></clipPath></defs>
<ellipse cx="542.65" cy="164.5" rx="39.65" ry="37.1" fill="#B3E3EB"/>
<ellipse cx="593.1" cy="164.5" rx="39.65" ry="37.1" fill="#C4A4D5"/>
<ellipse cx="643.4" cy="164.5" rx="39.65" ry="37.1" fill="#FBCB82"/>
<g clip-path="url(#dnc0)"><ellipse cx="593.1" cy="164.5" rx="39.65" ry="37.1" fill="#9C9ACC"/></g>
<g clip-path="url(#dnc1)"><ellipse cx="643.4" cy="164.5" rx="39.65" ry="37.1" fill="#D39C73"/></g>
<g clip-path="url(#dnc0)"><ellipse cx="643.4" cy="164.5" rx="39.65" ry="37.1" fill="#C0B0A0"/></g>
<g clip-path="url(#dnc0)"><g clip-path="url(#dnc1)"><ellipse cx="643.4" cy="164.5" rx="39.65" ry="37.1" fill="#A08C90"/></g></g>
<ellipse cx="542.65" cy="164.5" rx="39.65" ry="37.1" fill="none" stroke="#000" stroke-width="2"/>
<ellipse cx="593.1" cy="164.5" rx="39.65" ry="37.1" fill="none" stroke="#000" stroke-width="2"/>
<ellipse cx="643.4" cy="164.5" rx="39.65" ry="37.1" fill="none" stroke="#000" stroke-width="2"/>
<text x="526.4" y="168.4" font-size="7.8" text-anchor="middle">48</text>
<text x="567.5" y="168.4" font-size="7.8" text-anchor="middle">3</text>
<text x="592" y="168.4" font-size="7.8" text-anchor="middle">20</text>
<text x="617.6" y="168.4" font-size="7.8" text-anchor="middle">14</text>
<text x="657.4" y="168.4" font-size="7.8" text-anchor="middle">80</text>
<text x="602.7" y="123.8" font-size="7.8" text-anchor="middle">WT + HNP1 vs WT</text>
<text x="549.5" y="210" font-size="7.8" text-anchor="middle">&#916;OmpA + HNP1 vs &#916;OmpA</text>
<text x="654" y="210" font-size="7.8" text-anchor="middle">&#916;OmpA vs WT</text>
<text transform="translate(493.2,164.5) rotate(-90)" font-size="10.5" font-weight="bold" text-anchor="middle">Downregulated</text>
<text x="7.6" y="238.4" font-size="12.5" font-weight="bold" stroke="#000" stroke-width="0.35">D</text>
<text x="144.9" y="238.4" font-size="10.5" text-anchor="middle" font-weight="bold">WT + HNP1 vs WT</text>
<line x1="73.12" y1="245" x2="73.12" y2="393" stroke="#bcbcbc" stroke-width="0.7" stroke-dasharray="3,3"/>
<line x1="93.16" y1="245" x2="93.16" y2="393" stroke="#bcbcbc" stroke-width="0.7" stroke-dasharray="3,3"/>
<line x1="113.21" y1="245" x2="113.21" y2="393" stroke="#bcbcbc" stroke-width="0.7" stroke-dasharray="3,3"/>
<line x1="133.25" y1="245" x2="133.25" y2="393" stroke="#bcbcbc" stroke-width="0.7" stroke-dasharray="3,3"/>
<line x1="153.3" y1="245" x2="153.3" y2="393" stroke="#bcbcbc" stroke-width="0.7" stroke-dasharray="3,3"/>
<line x1="173.35" y1="245" x2="173.35" y2="393" stroke="#bcbcbc" stroke-width="0.7" stroke-dasharray="3,3"/>
<line x1="193.39" y1="245" x2="193.39" y2="393" stroke="#bcbcbc" stroke-width="0.7" stroke-dasharray="3,3"/>
<line x1="213.44" y1="245" x2="213.44" y2="393" stroke="#bcbcbc" stroke-width="0.7" stroke-dasharray="3,3"/>
<line x1="233.48" y1="245" x2="233.48" y2="393" stroke="#bcbcbc" stroke-width="0.7" stroke-dasharray="3,3"/>
<line x1="65.1" y1="386.27" x2="241.5" y2="386.27" stroke="#bcbcbc" stroke-width="0.7" stroke-dasharray="3,3"/>
<line x1="65.1" y1="369.45" x2="241.5" y2="369.45" stroke="#bcbcbc" stroke-width="0.7" stroke-dasharray="3,3"/>
<line x1="65.1" y1="352.64" x2="241.5" y2="352.64" stroke="#bcbcbc" stroke-width="0.7" stroke-dasharray="3,3"/>
<line x1="65.1" y1="335.82" x2="241.5" y2="335.82" stroke="#bcbcbc" stroke-width="0.7" stroke-dasharray="3,3"/>
<line x1="65.1" y1="319" x2="241.5" y2="319" stroke="#bcbcbc" stroke-width="0.7" stroke-dasharray="3,3"/>
<line x1="65.1" y1="302.18" x2="241.5" y2="302.18" stroke="#bcbcbc" stroke-width="0.7" stroke-dasharray="3,3"/>
<line x1="65.1" y1="285.36" x2="241.5" y2="285.36" stroke="#bcbcbc" stroke-width="0.7" stroke-dasharray="3,3"/>
<line x1="65.1" y1="268.55" x2="241.5" y2="268.55" stroke="#bcbcbc" stroke-width="0.7" stroke-dasharray="3,3"/>
<line x1="65.1" y1="251.73" x2="241.5" y2="251.73" stroke="#bcbcbc" stroke-width="0.7" stroke-dasharray="3,3"/>
<g fill="#bebebe"><circle cx="160.29" cy="350.06" r="1.25"/><circle cx="158.1" cy="380.38" r="1.25"/><circle cx="146.66" cy="385.53" r="1.25"/><circle cx="160.22" cy="373.54" r="1.25"/><circle cx="152.83" cy="386.24" r="1.25"/><circle cx="150.43" cy="379.42" r="1.25"/><circle cx="152.35" cy="386.27" r="1.25"/><circle cx="145.79" cy="374.02" r="1.25"/><circle cx="157.61" cy="386.24" r="1.25"/><circle cx="157.71" cy="380.48" r="1.25"/><circle cx="156.18" cy="385.77" r="1.25"/><circle cx="156.65" cy="386.26" r="1.25"/><circle cx="148.09" cy="372.8" r="1.25"/><circle cx="161.12" cy="328.25" r="1.25"/><circle cx="156.97" cy="378.85" r="1.25"/><circle cx="145.8" cy="371.62" r="1.25"/><circle cx="147.37" cy="381.57" r="1.25"/><circle cx="146.11" cy="339.75" r="1.25"/><circle cx="147.89" cy="386.2" r="1.25"/><circle cx="159.99" cy="375.36" r="1.25"/><circle cx="158.46" cy="370.77" r="1.25"/><circle cx="149.33" cy="382.63" r="1.25"/><circle cx="146.72" cy="370.43" r="1.25"/><circle cx="158.07" cy="386.23" r="1.25"/><circle cx="159.43" cy="344.08" r="1.25"/><circle cx="149.19" cy="385.56" r="1.25"/><circle cx="145.54" cy="339.48" r="1.25"/><circle cx="146.24" cy="381.92" r="1.25"/><circle cx="145.71" cy="359.76" r="1.25"/><circle cx="156.49" cy="382.99" r="1.25"/><circle cx="152.74" cy="386.16" r="1.25"/><circle cx="146.09" cy="349.44" r="1.25"/><circle cx="148.34" cy="376.82" r="1.25"/><circle cx="154.56" cy="385.38" r="1.25"/><circle cx="150.67" cy="384.46" r="1.25"/><circle cx="157.14" cy="384.07" r="1.25"/><circle cx="147.67" cy="371.44" r="1.25"/><circle cx="154.21" cy="386.23" r="1.25"/><circle cx="158.69" cy="361.59" r="1.25"/><circle cx="146.61" cy="349.31" r="1.25"/><circle cx="160.25" cy="357.74" r="1.25"/><circle cx="154.05" cy="386.27" r="1.25"/><circle cx="150.27" cy="386.11" r="1.25"/><circle cx="149.55" cy="386.16" r="1.25"/><circle cx="158.32" cy="385.16" r="1.25"/><circle cx="159.48" cy="375.54" r="1.25"/><circle cx="157.96" cy="386.25" r="1.25"/><circle cx="157.6" cy="385.32" r="1.25"/><circle cx="160.59" cy="366.96" r="1.25"/><circle cx="158.82" cy="362.49" r="1.25"/><circle cx="154.07" cy="386.26" r="1.25"/><circle cx="151.01" cy="383.87" r="1.25"/><circle cx="148.17" cy="384.37" r="1.25"/><circle cx="146.6" cy="370.03" r="1.25"/><circle cx="159.09" cy="379.1" r="1.25"/><circle cx="149.72" cy="380.75" r="1.25"/><circle cx="156.71" cy="375.6" r="1.25"/><circle cx="149.83" cy="377.33" r="1.25"/><circle cx="160.82" cy="345.44" r="1.25"/><circle cx="156.36" cy="386.27" r="1.25"/><circle cx="152.26" cy="385.76" r="1.25"/><circle cx="148.01" cy="384.97" r="1.25"/><circle cx="145.59" cy="347.04" r="1.25"/><circle cx="149.3" cy="383.85" r="1.25"/><circle cx="159.25" cy="377.27" r="1.25"/><circle cx="155.07" cy="385.07" r="1.25"/><circle cx="158.13" cy="382.93" r="1.25"/><circle cx="146.01" cy="386.23" r="1.25"/><circle cx="156.93" cy="373.52" r="1.25"/><circle cx="149.59" cy="385.42" r="1.25"/><circle cx="146.37" cy="335.4" r="1.25"/><circle cx="160.49" cy="354.3" r="1.25"/><circle cx="161.08" cy="380.74" r="1.25"/><circle cx="151.73" cy="386.19" r="1.25"/><circle cx="150.56" cy="382.12" r="1.25"/><circle cx="146.35" cy="376.66" r="1.25"/><circle cx="156.66" cy="377.84" r="1.25"/><circle cx="145.7" cy="328.71" r="1.25"/><circle cx="158.47" cy="385.77" r="1.25"/><circle cx="154.75" cy="385.05" r="1.25"/><circle cx="146.42" cy="378.1" r="1.25"/><circle cx="146.7" cy="377.31" r="1.25"/><circle cx="150.47" cy="386.19" r="1.25"/><circle cx="160.54" cy="363.48" r="1.25"/><circle cx="148.75" cy="384.09" r="1.25"/><circle cx="146.43" cy="386.25" r="1.25"/><circle cx="151.66" cy="386.23" r="1.25"/><circle cx="152.23" cy="386.21" r="1.25"/><circle cx="149" cy="385.88" r="1.25"/><circle cx="156.27" cy="381.45" r="1.25"/><circle cx="160.65" cy="374.78" r="1.25"/><circle cx="145.96" cy="378.99" r="1.25"/><circle cx="157.98" cy="385.9" r="1.25"/><circle cx="152.24" cy="386.27" r="1.25"/><circle cx="149.91" cy="381.87" r="1.25"/><circle cx="156.82" cy="386.19" r="1.25"/><circle cx="145.61" cy="316.92" r="1.25"/><circle cx="156.06" cy="383.36" r="1.25"/><circle cx="148.18" cy="371.61" r="1.25"/><circle cx="150.19" cy="383.24" r="1.25"/><circle cx="156.31" cy="386.18" r="1.25"/><circle cx="161.06" cy="368.61" r="1.25"/><circle cx="147.54" cy="352.5" r="1.25"/><circle cx="156.77" cy="384.69" r="1.25"/><circle cx="160.29" cy="338.27" r="1.25"/><circle cx="156.98" cy="381.77" r="1.25"/><circle cx="147.84" cy="383.62" r="1.25"/><circle cx="156.29" cy="386.2" r="1.25"/><circle cx="151.87" cy="386.26" r="1.25"/><circle cx="149.95" cy="379.12" r="1.25"/><circle cx="160.38" cy="384.18" r="1.25"/><circle cx="146.62" cy="385.75" r="1.25"/><circle cx="150.9" cy="383.07" r="1.25"/><circle cx="146.46" cy="379.09" r="1.25"/><circle cx="158.23" cy="363.6" r="1.25"/><circle cx="160.56" cy="384.37" r="1.25"/><circle cx="152.34" cy="386.2" r="1.25"/><circle cx="146.57" cy="340.97" r="1.25"/><circle cx="146.91" cy="361.76" r="1.25"/><circle cx="157.68" cy="385.55" r="1.25"/><circle cx="147.39" cy="382.91" r="1.25"/><circle cx="160.95" cy="336.85" r="1.25"/><circle cx="148.19" cy="364.86" r="1.25"/><circle cx="157.42" cy="383.78" r="1.25"/><circle cx="154.16" cy="386.06" r="1.25"/><circle cx="158.6" cy="386.06" r="1.25"/><circle cx="155.39" cy="386.19" r="1.25"/><circle cx="160.18" cy="375.47" r="1.25"/><circle cx="158.86" cy="383.73" r="1.25"/><circle cx="158.32" cy="378.34" r="1.25"/><circle cx="148.88" cy="375.86" r="1.25"/><circle cx="150.36" cy="384" r="1.25"/><circle cx="156.14" cy="384.77" r="1.25"/><circle cx="145.97" cy="329.99" r="1.25"/><circle cx="159.08" cy="386.11" r="1.25"/><circle cx="158.21" cy="365.6" r="1.25"/><circle cx="159.81" cy="346.36" r="1.25"/><circle cx="159.36" cy="354.67" r="1.25"/><circle cx="159.42" cy="361.31" r="1.25"/><circle cx="146.26" cy="337.12" r="1.25"/><circle cx="148" cy="384.9" r="1.25"/><circle cx="156.08" cy="383.72" r="1.25"/><circle cx="152.09" cy="385.75" r="1.25"/><circle cx="149.52" cy="381.94" r="1.25"/><circle cx="159.59" cy="386.13" r="1.25"/><circle cx="146.54" cy="362.68" r="1.25"/><circle cx="160.66" cy="324.65" r="1.25"/><circle cx="159.86" cy="348.88" r="1.25"/><circle cx="147.19" cy="376.21" r="1.25"/><circle cx="145.6" cy="373.26" r="1.25"/><circle cx="148.92" cy="385.49" r="1.25"/><circle cx="155.28" cy="383.54" r="1.25"/><circle cx="151.39" cy="385.08" r="1.25"/><circle cx="155.2" cy="385.94" r="1.25"/><circle cx="159.71" cy="386.27" r="1.25"/><circle cx="157.72" cy="386.25" r="1.25"/><circle cx="147.78" cy="361.53" r="1.25"/><circle cx="156.61" cy="382.77" r="1.25"/><circle cx="158.69" cy="383.58" r="1.25"/><circle cx="146.64" cy="350.38" r="1.25"/><circle cx="148.17" cy="378.23" r="1.25"/><circle cx="146.78" cy="367.97" r="1.25"/><circle cx="156.6" cy="386.08" r="1.25"/><circle cx="151.4" cy="384.52" r="1.25"/><circle cx="145.64" cy="341.8" r="1.25"/><circle cx="151.22" cy="385.23" r="1.25"/><circle cx="149.79" cy="382.77" r="1.25"/><circle cx="158.32" cy="386.27" r="1.25"/><circle cx="157.79" cy="383.76" r="1.25"/><circle cx="159.91" cy="360.19" r="1.25"/><circle cx="159.08" cy="379.67" r="1.25"/><circle cx="153.82" cy="386.26" r="1.25"/><circle cx="146.11" cy="341.47" r="1.25"/><circle cx="145.51" cy="367.51" r="1.25"/><circle cx="149.09" cy="375.46" r="1.25"/><circle cx="149.84" cy="385.79" r="1.25"/><circle cx="148.26" cy="381.88" r="1.25"/><circle cx="157.38" cy="382.61" r="1.25"/><circle cx="160.37" cy="363.31" r="1.25"/><circle cx="146.02" cy="347.88" r="1.25"/><circle cx="159.69" cy="364.84" r="1.25"/><circle cx="147.63" cy="379.05" r="1.25"/><circle cx="147.6" cy="353.54" r="1.25"/><circle cx="146.32" cy="349.82" r="1.25"/><circle cx="147.78" cy="381.12" r="1.25"/><circle cx="159.46" cy="351.78" r="1.25"/><circle cx="151.08" cy="383.25" r="1.25"/><circle cx="157.91" cy="386.19" r="1.25"/><circle cx="146.92" cy="376.15" r="1.25"/><circle cx="159.14" cy="386.24" r="1.25"/><circle cx="145.75" cy="350.14" r="1.25"/><circle cx="159.34" cy="369.25" r="1.25"/><circle cx="156" cy="380.98" r="1.25"/><circle cx="154.77" cy="385.11" r="1.25"/><circle cx="149.37" cy="381.6" r="1.25"/><circle cx="150.94" cy="384.02" r="1.25"/><circle cx="146.5" cy="381.05" r="1.25"/><circle cx="150.41" cy="383.53" r="1.25"/><circle cx="159.95" cy="345.72" r="1.25"/><circle cx="156.12" cy="379.47" r="1.25"/><circle cx="146.33" cy="386.16" r="1.25"/><circle cx="147.67" cy="381.77" r="1.25"/><circle cx="159.78" cy="354.25" r="1.25"/><circle cx="158.95" cy="384.86" r="1.25"/><circle cx="148.85" cy="368.54" r="1.25"/><circle cx="147.78" cy="383.2" r="1.25"/><circle cx="151.21" cy="386.17" r="1.25"/><circle cx="149.43" cy="377.21" r="1.25"/><circle cx="159.52" cy="361.46" r="1.25"/><circle cx="155.09" cy="385.79" r="1.25"/><circle cx="155.03" cy="386.16" r="1.25"/><circle cx="158.77" cy="359.19" r="1.25"/><circle cx="154.3" cy="385.91" r="1.25"/><circle cx="145.64" cy="356.17" r="1.25"/><circle cx="160.23" cy="385.04" r="1.25"/><circle cx="151.62" cy="385.85" r="1.25"/><circle cx="157.29" cy="385.61" r="1.25"/><circle cx="160.13" cy="372.35" r="1.25"/><circle cx="150.57" cy="382.57" r="1.25"/><circle cx="158.74" cy="358.34" r="1.25"/><circle cx="152.16" cy="385.66" r="1.25"/><circle cx="149.73" cy="384.04" r="1.25"/><circle cx="145.9" cy="373.38" r="1.25"/><circle cx="146.84" cy="384.61" r="1.25"/><circle cx="152.58" cy="386.26" r="1.25"/><circle cx="152.03" cy="386.07" r="1.25"/><circle cx="157.89" cy="369.96" r="1.25"/><circle cx="152.29" cy="386.27" r="1.25"/><circle cx="152.2" cy="386.19" r="1.25"/><circle cx="154.94" cy="386.27" r="1.25"/><circle cx="146.92" cy="362.02" r="1.25"/><circle cx="147.42" cy="379.02" r="1.25"/><circle cx="145.61" cy="353.31" r="1.25"/><circle cx="154.61" cy="385.17" r="1.25"/><circle cx="149.51" cy="380.43" r="1.25"/><circle cx="148.32" cy="386.1" r="1.25"/><circle cx="157.54" cy="385.25" r="1.25"/><circle cx="148.98" cy="377" r="1.25"/><circle cx="146.93" cy="359.87" r="1.25"/><circle cx="150.25" cy="377.9" r="1.25"/><circle cx="160.7" cy="335.72" r="1.25"/><circle cx="152.08" cy="386.26" r="1.25"/><circle cx="148.67" cy="382.46" r="1.25"/><circle cx="152.23" cy="386.02" r="1.25"/><circle cx="155.3" cy="385.65" r="1.25"/><circle cx="146.11" cy="386.19" r="1.25"/><circle cx="151.67" cy="384.89" r="1.25"/><circle cx="154.29" cy="386.15" r="1.25"/><circle cx="149.78" cy="385.96" r="1.25"/><circle cx="146.55" cy="345.22" r="1.25"/><circle cx="157.62" cy="384.72" r="1.25"/><circle cx="149.65" cy="384.39" r="1.25"/><circle cx="145.69" cy="359.06" r="1.25"/><circle cx="159.12" cy="377.16" r="1.25"/><circle cx="147.07" cy="353.68" r="1.25"/><circle cx="148.23" cy="363.15" r="1.25"/><circle cx="149.94" cy="385.88" r="1.25"/><circle cx="158.27" cy="385.87" r="1.25"/><circle cx="158.62" cy="386.16" r="1.25"/><circle cx="147.49" cy="381.51" r="1.25"/><circle cx="157.11" cy="384.34" r="1.25"/><circle cx="148.46" cy="378.31" r="1.25"/><circle cx="160.67" cy="377.44" r="1.25"/><circle cx="154.7" cy="384.86" r="1.25"/><circle cx="160.67" cy="328.27" r="1.25"/><circle cx="146.5" cy="338.19" r="1.25"/><circle cx="146.58" cy="384.82" r="1.25"/><circle cx="147.97" cy="355.16" r="1.25"/><circle cx="147.17" cy="360.59" r="1.25"/><circle cx="160.83" cy="354.65" r="1.25"/><circle cx="157.9" cy="364.63" r="1.25"/><circle cx="150.94" cy="386.12" r="1.25"/><circle cx="148.05" cy="360.76" r="1.25"/><circle cx="157.53" cy="375.8" r="1.25"/><circle cx="155.02" cy="385.49" r="1.25"/><circle cx="155.1" cy="386.04" r="1.25"/><circle cx="148.29" cy="385.99" r="1.25"/><circle cx="160.31" cy="359.53" r="1.25"/><circle cx="160.37" cy="386.21" r="1.25"/><circle cx="160.29" cy="354.48" r="1.25"/><circle cx="160.54" cy="360.96" r="1.25"/><circle cx="146.05" cy="372.52" r="1.25"/><circle cx="148.17" cy="360.21" r="1.25"/><circle cx="147.04" cy="354.67" r="1.25"/><circle cx="150.21" cy="385.77" r="1.25"/><circle cx="146.77" cy="371.05" r="1.25"/><circle cx="157.48" cy="371.88" r="1.25"/><circle cx="147.91" cy="386.17" r="1.25"/><circle cx="148.74" cy="385.17" r="1.25"/><circle cx="159.35" cy="386.27" r="1.25"/><circle cx="156.74" cy="376.96" r="1.25"/><circle cx="145.61" cy="361.81" r="1.25"/><circle cx="148.13" cy="377.02" r="1.25"/><circle cx="146.48" cy="335.25" r="1.25"/><circle cx="158.97" cy="381.9" r="1.25"/><circle cx="158.18" cy="376.43" r="1.25"/><circle cx="145.57" cy="383.44" r="1.25"/><circle cx="145.47" cy="342.27" r="1.25"/><circle cx="149.37" cy="383.24" r="1.25"/><circle cx="146.04" cy="355.01" r="1.25"/><circle cx="145.86" cy="336.01" r="1.25"/><circle cx="157.9" cy="371.39" r="1.25"/><circle cx="159.71" cy="373.35" r="1.25"/><circle cx="157.84" cy="385.82" r="1.25"/><circle cx="157.56" cy="386.26" r="1.25"/><circle cx="156.42" cy="379.3" r="1.25"/><circle cx="149.97" cy="375.65" r="1.25"/><circle cx="158.23" cy="370.98" r="1.25"/><circle cx="148.92" cy="373.48" r="1.25"/><circle cx="159.5" cy="373.83" r="1.25"/><circle cx="147.09" cy="385.67" r="1.25"/><circle cx="160.97" cy="381.13" r="1.25"/><circle cx="156.36" cy="383.92" r="1.25"/><circle cx="149.15" cy="376.39" r="1.25"/><circle cx="151.68" cy="385.43" r="1.25"/><circle cx="148.14" cy="376.78" r="1.25"/><circle cx="160.85" cy="319.69" r="1.25"/><circle cx="158.48" cy="380.08" r="1.25"/><circle cx="151.39" cy="386" r="1.25"/><circle cx="158" cy="370.7" r="1.25"/><circle cx="146.67" cy="360.47" r="1.25"/><circle cx="157.38" cy="378.01" r="1.25"/><circle cx="158.19" cy="364.67" r="1.25"/><circle cx="160.32" cy="385.23" r="1.25"/><circle cx="160.62" cy="382.62" r="1.25"/><circle cx="149.03" cy="370.99" r="1.25"/><circle cx="149.96" cy="383.27" r="1.25"/><circle cx="148.17" cy="384.46" r="1.25"/><circle cx="149.6" cy="382.55" r="1.25"/><circle cx="161.1" cy="350.72" r="1.25"/><circle cx="145.62" cy="379.46" r="1.25"/><circle cx="148.87" cy="373.68" r="1.25"/><circle cx="150.43" cy="385.53" r="1.25"/><circle cx="149.07" cy="385.8" r="1.25"/><circle cx="158.53" cy="374.26" r="1.25"/><circle cx="148.25" cy="374.85" r="1.25"/><circle cx="157.55" cy="384.38" r="1.25"/><circle cx="150.13" cy="385.67" r="1.25"/><circle cx="157.94" cy="383.01" r="1.25"/><circle cx="150.83" cy="381.99" r="1.25"/><circle cx="148.24" cy="386.11" r="1.25"/><circle cx="159.35" cy="367.11" r="1.25"/><circle cx="146.06" cy="378.27" r="1.25"/><circle cx="156.95" cy="385.95" r="1.25"/><circle cx="156.39" cy="386.16" r="1.25"/><circle cx="147.17" cy="370.82" r="1.25"/><circle cx="150.45" cy="385.86" r="1.25"/><circle cx="146.1" cy="372.92" r="1.25"/><circle cx="154.1" cy="386.23" r="1.25"/><circle cx="151.73" cy="386.14" r="1.25"/><circle cx="145.53" cy="375.43" r="1.25"/><circle cx="148.34" cy="386.24" r="1.25"/><circle cx="155.4" cy="385.96" r="1.25"/><circle cx="147.31" cy="386.14" r="1.25"/><circle cx="159.56" cy="385.51" r="1.25"/><circle cx="156.49" cy="386.23" r="1.25"/><circle cx="155.4" cy="385.56" r="1.25"/><circle cx="147.57" cy="383.38" r="1.25"/><circle cx="150.08" cy="383.27" r="1.25"/><circle cx="160.87" cy="375.46" r="1.25"/><circle cx="147.56" cy="358.69" r="1.25"/><circle cx="146.18" cy="374.19" r="1.25"/><circle cx="147.68" cy="375.01" r="1.25"/><circle cx="148.23" cy="381.02" r="1.25"/><circle cx="147.61" cy="373.8" r="1.25"/><circle cx="158.19" cy="385.15" r="1.25"/><circle cx="157.69" cy="379.47" r="1.25"/><circle cx="156.5" cy="383.16" r="1.25"/><circle cx="157.47" cy="385.97" r="1.25"/><circle cx="159.13" cy="373.32" r="1.25"/><circle cx="146.33" cy="353.68" r="1.25"/><circle cx="152.36" cy="386.2" r="1.25"/><circle cx="151.05" cy="382.58" r="1.25"/><circle cx="160.47" cy="382.31" r="1.25"/><circle cx="146.31" cy="378.02" r="1.25"/><circle cx="151.01" cy="382.92" r="1.25"/><circle cx="157.73" cy="385.83" r="1.25"/><circle cx="150.11" cy="381.59" r="1.25"/><circle cx="147.79" cy="386.27" r="1.25"/><circle cx="145.9" cy="355.93" r="1.25"/><circle cx="158.54" cy="362.02" r="1.25"/><circle cx="159.89" cy="365.89" r="1.25"/><circle cx="160.78" cy="372.53" r="1.25"/><circle cx="152.07" cy="385.99" r="1.25"/><circle cx="159.43" cy="386.27" r="1.25"/><circle cx="155.14" cy="386.19" r="1.25"/><circle cx="149.46" cy="384.86" r="1.25"/><circle cx="145.96" cy="355.5" r="1.25"/><circle cx="146.48" cy="381.84" r="1.25"/><circle cx="150.34" cy="383.39" r="1.25"/><circle cx="155.58" cy="383.44" r="1.25"/><circle cx="149.77" cy="376.58" r="1.25"/><circle cx="159.15" cy="347.54" r="1.25"/><circle cx="152.04" cy="386.02" r="1.25"/><circle cx="156.68" cy="378.61" r="1.25"/><circle cx="159.4" cy="367.25" r="1.25"/><circle cx="152.04" cy="385.71" r="1.25"/><circle cx="150.91" cy="384.01" r="1.25"/><circle cx="157.03" cy="378.78" r="1.25"/><circle cx="152.48" cy="385.92" r="1.25"/><circle cx="160.21" cy="383.79" r="1.25"/><circle cx="151.58" cy="385.94" r="1.25"/><circle cx="147.46" cy="361.11" r="1.25"/><circle cx="157.94" cy="379.85" r="1.25"/><circle cx="147.05" cy="383.9" r="1.25"/><circle cx="158.41" cy="375.81" r="1.25"/><circle cx="146.36" cy="384.37" r="1.25"/><circle cx="155.12" cy="386.27" r="1.25"/><circle cx="155.79" cy="382.89" r="1.25"/><circle cx="146.6" cy="380.58" r="1.25"/><circle cx="161" cy="334.11" r="1.25"/><circle cx="152.52" cy="386.2" r="1.25"/><circle cx="146.97" cy="346.56" r="1.25"/><circle cx="149.21" cy="386.27" r="1.25"/><circle cx="145.54" cy="323.47" r="1.25"/><circle cx="149.56" cy="385.21" r="1.25"/><circle cx="145.81" cy="322.03" r="1.25"/><circle cx="158.69" cy="376.52" r="1.25"/><circle cx="159.98" cy="339.27" r="1.25"/><circle cx="147.19" cy="364.09" r="1.25"/><circle cx="148.22" cy="383.98" r="1.25"/><circle cx="151.39" cy="384.92" r="1.25"/><circle cx="158.53" cy="372.7" r="1.25"/><circle cx="161.03" cy="380.61" r="1.25"/><circle cx="160.91" cy="377.49" r="1.25"/><circle cx="157.56" cy="378.87" r="1.25"/><circle cx="147.15" cy="380.68" r="1.25"/><circle cx="148.81" cy="380.13" r="1.25"/><circle cx="155.65" cy="385.37" r="1.25"/><circle cx="155.94" cy="381.93" r="1.25"/><circle cx="155.51" cy="384.77" r="1.25"/><circle cx="146.71" cy="364.37" r="1.25"/><circle cx="149.61" cy="385.86" r="1.25"/><circle cx="157.09" cy="384.82" r="1.25"/><circle cx="155.49" cy="386.17" r="1.25"/><circle cx="155.9" cy="382.2" r="1.25"/><circle cx="150.68" cy="384.93" r="1.25"/><circle cx="147.96" cy="375.32" r="1.25"/><circle cx="155.9" cy="383.68" r="1.25"/><circle cx="159.93" cy="385.97" r="1.25"/><circle cx="149.27" cy="377.94" r="1.25"/><circle cx="151.29" cy="385.18" r="1.25"/><circle cx="156.27" cy="384.82" r="1.25"/><circle cx="159.17" cy="347.77" r="1.25"/><circle cx="160.24" cy="382.32" r="1.25"/><circle cx="149.52" cy="381.63" r="1.25"/><circle cx="160.17" cy="382.9" r="1.25"/><circle cx="156.65" cy="378.85" r="1.25"/><circle cx="147.72" cy="365.13" r="1.25"/><circle cx="154.59" cy="385.42" r="1.25"/><circle cx="160.08" cy="335.58" r="1.25"/><circle cx="151.54" cy="384.42" r="1.25"/><circle cx="150.3" cy="385.77" r="1.25"/><circle cx="151.36" cy="383.7" r="1.25"/><circle cx="146.48" cy="376.34" r="1.25"/><circle cx="151.25" cy="384.35" r="1.25"/><circle cx="153.81" cy="386.27" r="1.25"/><circle cx="159.79" cy="377.65" r="1.25"/><circle cx="158.87" cy="383.02" r="1.25"/><circle cx="147.37" cy="351.43" r="1.25"/><circle cx="146.27" cy="329.98" r="1.25"/><circle cx="149" cy="384.42" r="1.25"/><circle cx="160.19" cy="384.83" r="1.25"/><circle cx="148.78" cy="386.19" r="1.25"/><circle cx="160.14" cy="367.86" r="1.25"/><circle cx="145.96" cy="385.34" r="1.25"/><circle cx="152.2" cy="386.09" r="1.25"/><circle cx="160.92" cy="358.08" r="1.25"/><circle cx="158.2" cy="378.21" r="1.25"/><circle cx="157.16" cy="374.36" r="1.25"/><circle cx="146.73" cy="385.91" r="1.25"/><circle cx="148.74" cy="370.41" r="1.25"/><circle cx="155.48" cy="382.9" r="1.25"/><circle cx="154.41" cy="386.03" r="1.25"/><circle cx="146.38" cy="375.41" r="1.25"/><circle cx="146.61" cy="347.22" r="1.25"/><circle cx="149.19" cy="371.73" r="1.25"/><circle cx="160.79" cy="362.58" r="1.25"/><circle cx="148.62" cy="381.21" r="1.25"/><circle cx="149.75" cy="385.87" r="1.25"/><circle cx="146.29" cy="380.37" r="1.25"/><circle cx="146.67" cy="353.24" r="1.25"/><circle cx="161.15" cy="335.86" r="1.25"/><circle cx="151.44" cy="385.24" r="1.25"/><circle cx="160.6" cy="377.09" r="1.25"/><circle cx="158.47" cy="373.2" r="1.25"/><circle cx="148.57" cy="375.68" r="1.25"/><circle cx="148.83" cy="380.22" r="1.25"/><circle cx="152.79" cy="386.27" r="1.25"/><circle cx="156.05" cy="380.64" r="1.25"/><circle cx="155.1" cy="385.94" r="1.25"/><circle cx="146.46" cy="330.79" r="1.25"/><circle cx="147.76" cy="386.18" r="1.25"/><circle cx="158.98" cy="360.74" r="1.25"/><circle cx="160.98" cy="361.28" r="1.25"/><circle cx="147.7" cy="385.94" r="1.25"/><circle cx="160.8" cy="379.84" r="1.25"/><circle cx="156.59" cy="380.42" r="1.25"/><circle cx="156.02" cy="385.61" r="1.25"/><circle cx="159.64" cy="380.85" r="1.25"/><circle cx="145.58" cy="334.24" r="1.25"/><circle cx="156.84" cy="375.56" r="1.25"/><circle cx="151.25" cy="385.47" r="1.25"/><circle cx="159.7" cy="386.19" r="1.25"/><circle cx="159.71" cy="347.42" r="1.25"/><circle cx="158.71" cy="370.66" r="1.25"/><circle cx="148.98" cy="367.71" r="1.25"/><circle cx="155.17" cy="386.2" r="1.25"/><circle cx="151.36" cy="385.99" r="1.25"/><circle cx="154.55" cy="385.22" r="1.25"/><circle cx="160.96" cy="345.77" r="1.25"/><circle cx="160.78" cy="386.26" r="1.25"/><circle cx="152.33" cy="386.22" r="1.25"/><circle cx="152.68" cy="386.13" r="1.25"/><circle cx="160.11" cy="386.14" r="1.25"/><circle cx="150.59" cy="385.56" r="1.25"/><circle cx="157.25" cy="383.34" r="1.25"/><circle cx="150.71" cy="385.99" r="1.25"/><circle cx="149.9" cy="376.36" r="1.25"/><circle cx="157.96" cy="386.25" r="1.25"/></g>
<g fill="#EE3D4E"><circle cx="162.95" cy="292.58" r="1.15"/><circle cx="161.81" cy="321.78" r="1.15"/><circle cx="162.32" cy="323.32" r="1.15"/><circle cx="164.12" cy="275.01" r="1.15"/><circle cx="166.7" cy="306.95" r="1.15"/><circle cx="163.21" cy="316.1" r="1.15"/><circle cx="163.19" cy="319.56" r="1.15"/><circle cx="164.97" cy="271.51" r="1.15"/><circle cx="163.18" cy="274.82" r="1.15"/><circle cx="164.69" cy="343.58" r="1.15"/><circle cx="171.4" cy="263.98" r="1.15"/><circle cx="165.19" cy="320.31" r="1.15"/><circle cx="163.63" cy="297.45" r="1.15"/><circle cx="167.72" cy="321.16" r="1.15"/><circle cx="163.29" cy="375.15" r="1.15"/><circle cx="163.69" cy="282.83" r="1.15"/><circle cx="161.81" cy="302.06" r="1.15"/><circle cx="162.1" cy="266.69" r="1.15"/><circle cx="161.94" cy="251.76" r="1.15"/><circle cx="162.76" cy="360.03" r="1.15"/><circle cx="164.22" cy="346.92" r="1.15"/><circle cx="168.26" cy="288.05" r="1.15"/><circle cx="163.59" cy="303.97" r="1.15"/><circle cx="166.01" cy="339.23" r="1.15"/><circle cx="164.65" cy="267.21" r="1.15"/><circle cx="163.28" cy="351.15" r="1.15"/><circle cx="165.19" cy="296.96" r="1.15"/><circle cx="163.11" cy="326.53" r="1.15"/><circle cx="162.04" cy="282.61" r="1.15"/><circle cx="163.2" cy="376" r="1.15"/><circle cx="162.32" cy="291.24" r="1.15"/><circle cx="170.71" cy="306.5" r="1.15"/><circle cx="164.01" cy="300.23" r="1.15"/><circle cx="164.03" cy="339.41" r="1.15"/><circle cx="170.22" cy="365.31" r="1.15"/><circle cx="162.31" cy="313.14" r="1.15"/><circle cx="164.83" cy="251.68" r="1.15"/><circle cx="165.03" cy="329.29" r="1.15"/><circle cx="161.8" cy="311.86" r="1.15"/><circle cx="162.93" cy="260.13" r="1.15"/><circle cx="168.23" cy="284.13" r="1.15"/><circle cx="161.78" cy="367.86" r="1.15"/><circle cx="165.12" cy="373.82" r="1.15"/><circle cx="169.43" cy="351.01" r="1.15"/><circle cx="162.64" cy="346.81" r="1.15"/><circle cx="165.05" cy="264.6" r="1.15"/><circle cx="161.89" cy="334.49" r="1.15"/><circle cx="165.2" cy="374.17" r="1.15"/><circle cx="163.23" cy="348.71" r="1.15"/><circle cx="165.32" cy="262.25" r="1.15"/><circle cx="165.72" cy="357.78" r="1.15"/><circle cx="164.52" cy="357.3" r="1.15"/><circle cx="163.86" cy="302.02" r="1.15"/><circle cx="162.26" cy="276.36" r="1.15"/><circle cx="162.36" cy="282.31" r="1.15"/><circle cx="162.85" cy="256.34" r="1.15"/><circle cx="162.38" cy="344.46" r="1.15"/><circle cx="163.47" cy="344.9" r="1.15"/><circle cx="163.73" cy="332.16" r="1.15"/><circle cx="162.07" cy="266.19" r="1.15"/><circle cx="163.73" cy="327.56" r="1.15"/><circle cx="164.91" cy="345.42" r="1.15"/><circle cx="164.42" cy="300.08" r="1.15"/><circle cx="166.67" cy="367.09" r="1.15"/><circle cx="163.36" cy="260.35" r="1.15"/><circle cx="167.22" cy="281.23" r="1.15"/><circle cx="163.77" cy="326.36" r="1.15"/><circle cx="163.89" cy="374.03" r="1.15"/><circle cx="162.82" cy="266.53" r="1.15"/><circle cx="162.86" cy="357.38" r="1.15"/><circle cx="165.44" cy="366.16" r="1.15"/><circle cx="162.67" cy="346.56" r="1.15"/><circle cx="162.69" cy="337.22" r="1.15"/><circle cx="163" cy="307" r="1.15"/><circle cx="166.36" cy="290.07" r="1.15"/><circle cx="165.73" cy="352.68" r="1.15"/><circle cx="169.59" cy="352.07" r="1.15"/><circle cx="163.4" cy="255.1" r="1.15"/><circle cx="167.3" cy="277.84" r="1.15"/><circle cx="161.91" cy="292.42" r="1.15"/><circle cx="162.42" cy="372.08" r="1.15"/><circle cx="162.83" cy="298.95" r="1.15"/><circle cx="163.52" cy="269.51" r="1.15"/><circle cx="162.06" cy="325.49" r="1.15"/><circle cx="162.21" cy="288.41" r="1.15"/><circle cx="168.51" cy="359.14" r="1.15"/><circle cx="165.65" cy="347.49" r="1.15"/><circle cx="165.97" cy="311.94" r="1.15"/><circle cx="164.48" cy="308.01" r="1.15"/><circle cx="163.67" cy="266.55" r="1.15"/><circle cx="164.42" cy="331.44" r="1.15"/><circle cx="163.19" cy="366.85" r="1.15"/><circle cx="162.96" cy="349.98" r="1.15"/><circle cx="166.21" cy="330.53" r="1.15"/><circle cx="164.17" cy="290.89" r="1.15"/><circle cx="162.45" cy="365.23" r="1.15"/><circle cx="162.79" cy="303.83" r="1.15"/><circle cx="163.1" cy="291.82" r="1.15"/><circle cx="162.17" cy="315.75" r="1.15"/><circle cx="168.15" cy="330.04" r="1.15"/><circle cx="163.05" cy="336.07" r="1.15"/><circle cx="162.19" cy="304.83" r="1.15"/><circle cx="165.46" cy="304.11" r="1.15"/><circle cx="161.72" cy="323.91" r="1.15"/><circle cx="162.55" cy="268.1" r="1.15"/><circle cx="169.18" cy="334.99" r="1.15"/><circle cx="163.69" cy="337.66" r="1.15"/><circle cx="166.55" cy="256.57" r="1.15"/><circle cx="171.19" cy="259.54" r="1.15"/><circle cx="165.46" cy="331.34" r="1.15"/><circle cx="163.69" cy="299.63" r="1.15"/><circle cx="164.63" cy="335.59" r="1.15"/><circle cx="163.32" cy="304.85" r="1.15"/><circle cx="163.9" cy="326.39" r="1.15"/><circle cx="166.68" cy="345.63" r="1.15"/><circle cx="163.3" cy="345.03" r="1.15"/><circle cx="161.68" cy="304.48" r="1.15"/><circle cx="162.42" cy="260.82" r="1.15"/><circle cx="162.65" cy="374.52" r="1.15"/><circle cx="165.11" cy="305.45" r="1.15"/></g>
<g fill="#4B62C0"><circle cx="144.89" cy="369.76" r="1.15"/><circle cx="143.52" cy="273.93" r="1.15"/><circle cx="141.57" cy="338.4" r="1.15"/><circle cx="143.56" cy="281.85" r="1.15"/><circle cx="144.07" cy="272.52" r="1.15"/><circle cx="143.84" cy="305.57" r="1.15"/><circle cx="143.5" cy="375.14" r="1.15"/><circle cx="144.68" cy="267.09" r="1.15"/><circle cx="141.7" cy="253.27" r="1.15"/><circle cx="143.68" cy="360.83" r="1.15"/><circle cx="144.4" cy="353.72" r="1.15"/><circle cx="137.56" cy="299.37" r="1.15"/><circle cx="143.87" cy="319.18" r="1.15"/><circle cx="142.1" cy="355.05" r="1.15"/><circle cx="140.48" cy="278.17" r="1.15"/><circle cx="140.98" cy="356.94" r="1.15"/><circle cx="138.18" cy="328.89" r="1.15"/><circle cx="144.69" cy="284.76" r="1.15"/><circle cx="143.05" cy="321.13" r="1.15"/><circle cx="143.21" cy="369.46" r="1.15"/><circle cx="144.77" cy="321" r="1.15"/><circle cx="143.89" cy="320.31" r="1.15"/></g>
<line x1="145.28" y1="393" x2="145.28" y2="245" stroke="#000" stroke-width="2.3" stroke-dasharray="2.8,8.9,11.2,8.9"/>
<line x1="161.32" y1="393" x2="161.32" y2="245" stroke="#000" stroke-width="2.3" stroke-dasharray="2.8,8.9,11.2,8.9"/>
<line x1="65.1" y1="377.53" x2="241.5" y2="377.53" stroke="#000" stroke-width="2.3" stroke-dasharray="2.8,8.9,11.2,8.9"/>
<text x="94.4" y="288.06" font-size="7.8" text-anchor="middle">Down: 37</text>
<text x="211.9" y="288.06" font-size="7.8" text-anchor="middle">Up: 180</text>
<text x="153.3" y="388.37" font-size="7.8" text-anchor="middle">Not significant: 3562</text>
<rect x="65.1" y="245" width="176.4" height="148" fill="none" stroke="#222" stroke-width="1.4"/>
<line x1="62.1" y1="386.27" x2="65.1" y2="386.27" stroke="#333" stroke-width="0.8"/>
<text x="61.3" y="389.97" font-size="10.5" text-anchor="end">0</text>
<line x1="62.1" y1="352.64" x2="65.1" y2="352.64" stroke="#333" stroke-width="0.8"/>
<text x="61.3" y="356.34" font-size="10.5" text-anchor="end">5</text>
<line x1="62.1" y1="319" x2="65.1" y2="319" stroke="#333" stroke-width="0.8"/>
<text x="61.3" y="322.7" font-size="10.5" text-anchor="end">10</text>
<line x1="62.1" y1="285.36" x2="65.1" y2="285.36" stroke="#333" stroke-width="0.8"/>
<text x="61.3" y="289.06" font-size="10.5" text-anchor="end">15</text>
<line x1="62.1" y1="251.73" x2="65.1" y2="251.73" stroke="#333" stroke-width="0.8"/>
<text x="61.3" y="255.43" font-size="10.5" text-anchor="end">20</text>
<line x1="73.12" y1="393" x2="73.12" y2="395.5" stroke="#333" stroke-width="0.8"/>
<text x="73.12" y="405.4" font-size="10.5" text-anchor="middle">&#8722;10</text>
<line x1="113.21" y1="393" x2="113.21" y2="395.5" stroke="#333" stroke-width="0.8"/>
<text x="113.21" y="405.4" font-size="10.5" text-anchor="middle">&#8722;5</text>
<line x1="153.3" y1="393" x2="153.3" y2="395.5" stroke="#333" stroke-width="0.8"/>
<text x="153.3" y="405.4" font-size="10.5" text-anchor="middle">0</text>
<line x1="193.39" y1="393" x2="193.39" y2="395.5" stroke="#333" stroke-width="0.8"/>
<text x="193.39" y="405.4" font-size="10.5" text-anchor="middle">5</text>
<line x1="233.48" y1="393" x2="233.48" y2="395.5" stroke="#333" stroke-width="0.8"/>
<text x="233.48" y="405.4" font-size="10.5" text-anchor="middle">10</text>
<rect x="68.5" y="314.6" width="60.5" height="32.4" fill="#fff"/>
<rect x="72.6" y="319.2" width="8.8" height="8.8" fill="#fff" stroke="#111" stroke-width="1"/>
<circle cx="77" cy="323.6" r="2.3" fill="#4B62C0"/>
<text x="84.8" y="326.1" font-size="7">Down</text>
<rect x="72.6" y="328" width="8.8" height="8.8" fill="#fff" stroke="#111" stroke-width="1"/>
<circle cx="77" cy="332.5" r="2.3" fill="#bdbdbd"/>
<text x="84.8" y="335" font-size="7">Not significant</text>
<rect x="72.6" y="336.8" width="8.8" height="8.8" fill="#fff" stroke="#111" stroke-width="1"/>
<circle cx="77" cy="341.3" r="2.3" fill="#EE3D4E"/>
<text x="84.8" y="343.8" font-size="7">Up</text>
<text x="354.8" y="238.4" font-size="10.5" text-anchor="middle" font-weight="bold">&#916;OmpA vs WT</text>
<line x1="275.09" y1="245" x2="275.09" y2="393" stroke="#bcbcbc" stroke-width="0.7" stroke-dasharray="3,3"/>
<line x1="295.3" y1="245" x2="295.3" y2="393" stroke="#bcbcbc" stroke-width="0.7" stroke-dasharray="3,3"/>
<line x1="315.52" y1="245" x2="315.52" y2="393" stroke="#bcbcbc" stroke-width="0.7" stroke-dasharray="3,3"/>
<line x1="335.73" y1="245" x2="335.73" y2="393" stroke="#bcbcbc" stroke-width="0.7" stroke-dasharray="3,3"/>
<line x1="355.95" y1="245" x2="355.95" y2="393" stroke="#bcbcbc" stroke-width="0.7" stroke-dasharray="3,3"/>
<line x1="376.17" y1="245" x2="376.17" y2="393" stroke="#bcbcbc" stroke-width="0.7" stroke-dasharray="3,3"/>
<line x1="396.38" y1="245" x2="396.38" y2="393" stroke="#bcbcbc" stroke-width="0.7" stroke-dasharray="3,3"/>
<line x1="416.6" y1="245" x2="416.6" y2="393" stroke="#bcbcbc" stroke-width="0.7" stroke-dasharray="3,3"/>
<line x1="436.81" y1="245" x2="436.81" y2="393" stroke="#bcbcbc" stroke-width="0.7" stroke-dasharray="3,3"/>
<line x1="267" y1="386.27" x2="444.9" y2="386.27" stroke="#bcbcbc" stroke-width="0.7" stroke-dasharray="3,3"/>
<line x1="267" y1="369.45" x2="444.9" y2="369.45" stroke="#bcbcbc" stroke-width="0.7" stroke-dasharray="3,3"/>
<line x1="267" y1="352.64" x2="444.9" y2="352.64" stroke="#bcbcbc" stroke-width="0.7" stroke-dasharray="3,3"/>
<line x1="267" y1="335.82" x2="444.9" y2="335.82" stroke="#bcbcbc" stroke-width="0.7" stroke-dasharray="3,3"/>
<line x1="267" y1="319" x2="444.9" y2="319" stroke="#bcbcbc" stroke-width="0.7" stroke-dasharray="3,3"/>
<line x1="267" y1="302.18" x2="444.9" y2="302.18" stroke="#bcbcbc" stroke-width="0.7" stroke-dasharray="3,3"/>
<line x1="267" y1="285.36" x2="444.9" y2="285.36" stroke="#bcbcbc" stroke-width="0.7" stroke-dasharray="3,3"/>
<line x1="267" y1="268.55" x2="444.9" y2="268.55" stroke="#bcbcbc" stroke-width="0.7" stroke-dasharray="3,3"/>
<line x1="267" y1="251.73" x2="444.9" y2="251.73" stroke="#bcbcbc" stroke-width="0.7" stroke-dasharray="3,3"/>
<g fill="#bebebe"><circle cx="348.32" cy="385.85" r="1.25"/><circle cx="362.93" cy="351.79" r="1.25"/><circle cx="352.44" cy="381.25" r="1.25"/><circle cx="350.54" cy="385.06" r="1.25"/><circle cx="360.09" cy="376.21" r="1.25"/><circle cx="348.31" cy="361.61" r="1.25"/><circle cx="359.16" cy="386.25" r="1.25"/><circle cx="360.59" cy="383.29" r="1.25"/><circle cx="363.26" cy="365.34" r="1.25"/><circle cx="353" cy="386.26" r="1.25"/><circle cx="358.04" cy="385.15" r="1.25"/><circle cx="349.95" cy="384.3" r="1.25"/><circle cx="349.2" cy="354.47" r="1.25"/><circle cx="349.41" cy="352.49" r="1.25"/><circle cx="363.77" cy="313.74" r="1.25"/><circle cx="362.44" cy="358.55" r="1.25"/><circle cx="361.03" cy="378.29" r="1.25"/><circle cx="351.07" cy="367.38" r="1.25"/><circle cx="363.2" cy="332.12" r="1.25"/><circle cx="361.27" cy="358.59" r="1.25"/><circle cx="351.16" cy="384.6" r="1.25"/><circle cx="362.11" cy="384.5" r="1.25"/><circle cx="352.74" cy="377.8" r="1.25"/><circle cx="363.63" cy="346.31" r="1.25"/><circle cx="350.96" cy="373.44" r="1.25"/><circle cx="352.41" cy="385.53" r="1.25"/><circle cx="348.4" cy="355.61" r="1.25"/><circle cx="362.84" cy="353.61" r="1.25"/><circle cx="353.37" cy="382.7" r="1.25"/><circle cx="361.82" cy="382.39" r="1.25"/><circle cx="363.16" cy="385.13" r="1.25"/><circle cx="348.87" cy="381.35" r="1.25"/><circle cx="363.19" cy="372.42" r="1.25"/><circle cx="354.98" cy="386.17" r="1.25"/><circle cx="361.94" cy="385.8" r="1.25"/><circle cx="355.07" cy="385.98" r="1.25"/><circle cx="359.06" cy="379.84" r="1.25"/><circle cx="358.46" cy="383.32" r="1.25"/><circle cx="357.07" cy="385.4" r="1.25"/><circle cx="356.98" cy="386.17" r="1.25"/><circle cx="349.53" cy="385.29" r="1.25"/><circle cx="356.91" cy="386.13" r="1.25"/><circle cx="349.55" cy="345.43" r="1.25"/><circle cx="348.82" cy="352.64" r="1.25"/><circle cx="358.82" cy="382.6" r="1.25"/><circle cx="357.71" cy="385.68" r="1.25"/><circle cx="353.94" cy="384.97" r="1.25"/><circle cx="360.92" cy="385.43" r="1.25"/><circle cx="352.81" cy="382.41" r="1.25"/><circle cx="356.72" cy="386.14" r="1.25"/><circle cx="357.23" cy="386.27" r="1.25"/><circle cx="357.65" cy="385.24" r="1.25"/><circle cx="348.12" cy="317.18" r="1.25"/><circle cx="353.03" cy="384.39" r="1.25"/><circle cx="361.42" cy="371.59" r="1.25"/><circle cx="349.73" cy="382.3" r="1.25"/><circle cx="361" cy="386.27" r="1.25"/><circle cx="360.2" cy="385.91" r="1.25"/><circle cx="352.96" cy="386.14" r="1.25"/><circle cx="358.86" cy="385.76" r="1.25"/><circle cx="351.32" cy="383.44" r="1.25"/><circle cx="353.19" cy="380.34" r="1.25"/><circle cx="349.61" cy="375.6" r="1.25"/><circle cx="350.54" cy="386.11" r="1.25"/><circle cx="360.99" cy="384.96" r="1.25"/><circle cx="362.73" cy="377.08" r="1.25"/><circle cx="348.47" cy="357.38" r="1.25"/><circle cx="363.78" cy="373.08" r="1.25"/><circle cx="362.02" cy="385.57" r="1.25"/><circle cx="362.96" cy="356.66" r="1.25"/><circle cx="360.5" cy="381.77" r="1.25"/><circle cx="358.67" cy="383.62" r="1.25"/><circle cx="359.28" cy="384.42" r="1.25"/><circle cx="354.45" cy="385.22" r="1.25"/><circle cx="361.3" cy="380.26" r="1.25"/><circle cx="362.44" cy="376.75" r="1.25"/><circle cx="357.9" cy="386.24" r="1.25"/><circle cx="350.16" cy="350.03" r="1.25"/><circle cx="355.08" cy="386.04" r="1.25"/><circle cx="349.65" cy="372.75" r="1.25"/><circle cx="360.53" cy="371.06" r="1.25"/><circle cx="361" cy="378.74" r="1.25"/><circle cx="349.16" cy="336.68" r="1.25"/><circle cx="352.52" cy="385.43" r="1.25"/><circle cx="359.09" cy="384.21" r="1.25"/><circle cx="348.49" cy="359.58" r="1.25"/><circle cx="354.25" cy="385.91" r="1.25"/><circle cx="353.76" cy="385.41" r="1.25"/><circle cx="357.55" cy="384.61" r="1.25"/><circle cx="350.11" cy="385.28" r="1.25"/><circle cx="358.87" cy="382.35" r="1.25"/><circle cx="351.49" cy="379.59" r="1.25"/><circle cx="361.1" cy="359.14" r="1.25"/><circle cx="354.25" cy="385.56" r="1.25"/><circle cx="352.83" cy="378.56" r="1.25"/><circle cx="362.13" cy="377.4" r="1.25"/><circle cx="349.29" cy="366.47" r="1.25"/><circle cx="360.43" cy="386.24" r="1.25"/><circle cx="348.7" cy="383.28" r="1.25"/><circle cx="351.19" cy="381.4" r="1.25"/><circle cx="348.39" cy="347.79" r="1.25"/><circle cx="363.66" cy="375.99" r="1.25"/><circle cx="350.05" cy="361.31" r="1.25"/><circle cx="353.09" cy="383" r="1.25"/><circle cx="361.9" cy="346.36" r="1.25"/><circle cx="355.28" cy="386.2" r="1.25"/><circle cx="348.69" cy="356.08" r="1.25"/><circle cx="355.19" cy="385.94" r="1.25"/><circle cx="350.38" cy="356.41" r="1.25"/><circle cx="354.2" cy="384.56" r="1.25"/><circle cx="353.3" cy="382.48" r="1.25"/><circle cx="353.37" cy="382.16" r="1.25"/><circle cx="361.56" cy="378.19" r="1.25"/><circle cx="361.26" cy="378.14" r="1.25"/><circle cx="363.69" cy="385.59" r="1.25"/><circle cx="360.73" cy="368.07" r="1.25"/><circle cx="349.46" cy="372.47" r="1.25"/><circle cx="352.24" cy="384.97" r="1.25"/><circle cx="355.04" cy="386.27" r="1.25"/><circle cx="353.52" cy="383.12" r="1.25"/><circle cx="351.73" cy="376.99" r="1.25"/><circle cx="348.81" cy="384.56" r="1.25"/><circle cx="360.01" cy="381.94" r="1.25"/><circle cx="356.6" cy="386.18" r="1.25"/><circle cx="352" cy="380.98" r="1.25"/><circle cx="360.44" cy="369.37" r="1.25"/><circle cx="361.79" cy="375.5" r="1.25"/><circle cx="348.51" cy="385.59" r="1.25"/><circle cx="352.47" cy="380.74" r="1.25"/><circle cx="350.08" cy="378.78" r="1.25"/><circle cx="354.28" cy="385.29" r="1.25"/><circle cx="361.03" cy="364.7" r="1.25"/><circle cx="350.24" cy="381.73" r="1.25"/><circle cx="360.54" cy="384.62" r="1.25"/><circle cx="363.64" cy="384.82" r="1.25"/><circle cx="351.91" cy="383.5" r="1.25"/><circle cx="357.46" cy="385.84" r="1.25"/><circle cx="360.43" cy="383.91" r="1.25"/><circle cx="348.47" cy="370.11" r="1.25"/><circle cx="348.43" cy="376.79" r="1.25"/><circle cx="358.92" cy="385.85" r="1.25"/><circle cx="351.95" cy="383.68" r="1.25"/><circle cx="353.02" cy="380.73" r="1.25"/><circle cx="351.76" cy="373.21" r="1.25"/><circle cx="363.18" cy="329.7" r="1.25"/><circle cx="349.85" cy="346.31" r="1.25"/><circle cx="349.48" cy="347.13" r="1.25"/><circle cx="349.46" cy="337.52" r="1.25"/><circle cx="361.62" cy="368.13" r="1.25"/><circle cx="360.1" cy="385.49" r="1.25"/><circle cx="352.09" cy="382.24" r="1.25"/><circle cx="353.41" cy="380.83" r="1.25"/><circle cx="356.87" cy="386.19" r="1.25"/><circle cx="363.41" cy="330.49" r="1.25"/><circle cx="351.51" cy="379.22" r="1.25"/><circle cx="362.91" cy="375.32" r="1.25"/><circle cx="361.72" cy="384.99" r="1.25"/><circle cx="363.45" cy="385.25" r="1.25"/><circle cx="358.64" cy="385.72" r="1.25"/><circle cx="359.01" cy="384.96" r="1.25"/><circle cx="358.93" cy="382.78" r="1.25"/><circle cx="359.94" cy="375.97" r="1.25"/><circle cx="358.11" cy="383.25" r="1.25"/><circle cx="362.59" cy="384.86" r="1.25"/><circle cx="348.92" cy="377.61" r="1.25"/><circle cx="350.35" cy="379.51" r="1.25"/><circle cx="351.82" cy="381.59" r="1.25"/><circle cx="352.37" cy="376.89" r="1.25"/><circle cx="350.5" cy="375.11" r="1.25"/><circle cx="348.09" cy="328.58" r="1.25"/><circle cx="360.22" cy="380.21" r="1.25"/><circle cx="357.77" cy="383.56" r="1.25"/><circle cx="363.52" cy="350.23" r="1.25"/><circle cx="354.44" cy="386.06" r="1.25"/><circle cx="355.33" cy="386.27" r="1.25"/><circle cx="358.37" cy="386.11" r="1.25"/><circle cx="354.29" cy="384.18" r="1.25"/><circle cx="354.75" cy="385.42" r="1.25"/><circle cx="360.7" cy="377.59" r="1.25"/><circle cx="360.84" cy="386.1" r="1.25"/><circle cx="363.41" cy="337.17" r="1.25"/><circle cx="349.9" cy="352.34" r="1.25"/><circle cx="360.77" cy="385.61" r="1.25"/><circle cx="357.77" cy="386.11" r="1.25"/><circle cx="358.73" cy="385.01" r="1.25"/><circle cx="348.84" cy="334.06" r="1.25"/><circle cx="351.03" cy="363.29" r="1.25"/><circle cx="357.75" cy="384.43" r="1.25"/><circle cx="353.21" cy="385.07" r="1.25"/><circle cx="360.35" cy="381.77" r="1.25"/><circle cx="362.7" cy="348.13" r="1.25"/><circle cx="351.26" cy="383.77" r="1.25"/><circle cx="348.1" cy="380.74" r="1.25"/><circle cx="349.8" cy="365.14" r="1.25"/><circle cx="361.17" cy="384.55" r="1.25"/><circle cx="361.35" cy="371.17" r="1.25"/><circle cx="349.53" cy="360.09" r="1.25"/><circle cx="357.12" cy="385.65" r="1.25"/><circle cx="348.97" cy="362.54" r="1.25"/><circle cx="358.57" cy="386.16" r="1.25"/><circle cx="350.78" cy="384.81" r="1.25"/><circle cx="348.15" cy="322.34" r="1.25"/><circle cx="359.34" cy="385.59" r="1.25"/><circle cx="349.78" cy="381.79" r="1.25"/><circle cx="350.62" cy="379.72" r="1.25"/><circle cx="362.24" cy="374.84" r="1.25"/><circle cx="353.99" cy="384.57" r="1.25"/><circle cx="363.36" cy="381.97" r="1.25"/><circle cx="361.08" cy="380.79" r="1.25"/><circle cx="348.46" cy="382.34" r="1.25"/><circle cx="349.83" cy="357.56" r="1.25"/><circle cx="360.52" cy="382.93" r="1.25"/><circle cx="359.05" cy="385.8" r="1.25"/><circle cx="358.54" cy="384.71" r="1.25"/><circle cx="352.43" cy="385.76" r="1.25"/><circle cx="348.83" cy="382.08" r="1.25"/><circle cx="350.05" cy="353.56" r="1.25"/><circle cx="352.44" cy="385.55" r="1.25"/><circle cx="352.5" cy="386.27" r="1.25"/><circle cx="353.31" cy="385.48" r="1.25"/><circle cx="359.06" cy="381.05" r="1.25"/><circle cx="360.42" cy="381.77" r="1.25"/><circle cx="355.17" cy="386.13" r="1.25"/><circle cx="358.17" cy="384.52" r="1.25"/><circle cx="357.32" cy="385.73" r="1.25"/><circle cx="350.13" cy="375.13" r="1.25"/><circle cx="348.51" cy="383.95" r="1.25"/><circle cx="363.68" cy="320.36" r="1.25"/><circle cx="362.13" cy="350.67" r="1.25"/><circle cx="349.78" cy="372.15" r="1.25"/><circle cx="358.71" cy="386.23" r="1.25"/><circle cx="353.84" cy="384.65" r="1.25"/><circle cx="360.39" cy="366.21" r="1.25"/><circle cx="360.66" cy="382.03" r="1.25"/><circle cx="358.8" cy="383.81" r="1.25"/><circle cx="354.3" cy="384.32" r="1.25"/><circle cx="354.71" cy="385.66" r="1.25"/><circle cx="360.92" cy="385.83" r="1.25"/><circle cx="350.94" cy="368.3" r="1.25"/><circle cx="349.76" cy="360.18" r="1.25"/><circle cx="356.82" cy="386.14" r="1.25"/><circle cx="358.09" cy="385.76" r="1.25"/><circle cx="350.32" cy="369.59" r="1.25"/><circle cx="354.19" cy="385.39" r="1.25"/><circle cx="361.92" cy="376.81" r="1.25"/><circle cx="359.48" cy="380.34" r="1.25"/><circle cx="363.56" cy="374.93" r="1.25"/><circle cx="363.43" cy="357.71" r="1.25"/><circle cx="362.62" cy="377.54" r="1.25"/><circle cx="350.19" cy="360.2" r="1.25"/><circle cx="351.01" cy="360.8" r="1.25"/><circle cx="359.71" cy="375.79" r="1.25"/><circle cx="361.94" cy="344.18" r="1.25"/><circle cx="348.82" cy="385.65" r="1.25"/><circle cx="350.36" cy="378.21" r="1.25"/><circle cx="362.66" cy="384.19" r="1.25"/><circle cx="361.44" cy="353.86" r="1.25"/><circle cx="349.96" cy="381.59" r="1.25"/><circle cx="354.87" cy="386.21" r="1.25"/><circle cx="348.63" cy="373.24" r="1.25"/><circle cx="354.1" cy="385.16" r="1.25"/><circle cx="358.88" cy="385.86" r="1.25"/><circle cx="360.17" cy="380.84" r="1.25"/><circle cx="361.81" cy="386.07" r="1.25"/><circle cx="350.89" cy="380.7" r="1.25"/><circle cx="353.95" cy="385.54" r="1.25"/><circle cx="359.94" cy="370.46" r="1.25"/><circle cx="350.96" cy="379.97" r="1.25"/><circle cx="363.6" cy="336.88" r="1.25"/><circle cx="353.62" cy="384.39" r="1.25"/><circle cx="359.78" cy="386.26" r="1.25"/><circle cx="348.15" cy="351.85" r="1.25"/><circle cx="352.88" cy="384.19" r="1.25"/><circle cx="360.3" cy="384.37" r="1.25"/><circle cx="362.42" cy="340.16" r="1.25"/><circle cx="350.28" cy="386.21" r="1.25"/><circle cx="362.95" cy="328.81" r="1.25"/><circle cx="350.62" cy="369.89" r="1.25"/><circle cx="362.18" cy="378.74" r="1.25"/><circle cx="351.33" cy="375.2" r="1.25"/><circle cx="350.84" cy="379.03" r="1.25"/><circle cx="349.46" cy="375.63" r="1.25"/><circle cx="348.61" cy="346.45" r="1.25"/><circle cx="348.26" cy="384.69" r="1.25"/><circle cx="350.26" cy="377.22" r="1.25"/><circle cx="348.21" cy="372.27" r="1.25"/><circle cx="349.39" cy="359.19" r="1.25"/><circle cx="362.71" cy="377.92" r="1.25"/><circle cx="361.89" cy="367.27" r="1.25"/><circle cx="360.82" cy="360.67" r="1.25"/><circle cx="351.71" cy="370.18" r="1.25"/><circle cx="351.73" cy="377.66" r="1.25"/><circle cx="348.62" cy="353.6" r="1.25"/><circle cx="351.76" cy="386.22" r="1.25"/><circle cx="357.83" cy="383.63" r="1.25"/><circle cx="361.51" cy="365.92" r="1.25"/><circle cx="362.91" cy="378.36" r="1.25"/><circle cx="361.48" cy="379.46" r="1.25"/><circle cx="351.45" cy="385.96" r="1.25"/><circle cx="356.9" cy="386.1" r="1.25"/><circle cx="354.74" cy="386.13" r="1.25"/><circle cx="363.29" cy="322.51" r="1.25"/><circle cx="350.17" cy="371.93" r="1.25"/><circle cx="361.56" cy="384.84" r="1.25"/><circle cx="362.89" cy="364.86" r="1.25"/><circle cx="351.31" cy="383.91" r="1.25"/><circle cx="350.59" cy="383.74" r="1.25"/><circle cx="348.13" cy="382.68" r="1.25"/><circle cx="362.78" cy="354.52" r="1.25"/><circle cx="361.39" cy="383.72" r="1.25"/><circle cx="350.5" cy="376.14" r="1.25"/><circle cx="360.18" cy="381.36" r="1.25"/><circle cx="358.43" cy="385.97" r="1.25"/><circle cx="348.45" cy="334.21" r="1.25"/><circle cx="349.24" cy="384.81" r="1.25"/><circle cx="362.13" cy="386.27" r="1.25"/><circle cx="362.59" cy="383.41" r="1.25"/><circle cx="360.1" cy="373.08" r="1.25"/><circle cx="363.17" cy="378.63" r="1.25"/><circle cx="351.26" cy="385.73" r="1.25"/><circle cx="353.5" cy="382.63" r="1.25"/><circle cx="351.39" cy="365.31" r="1.25"/><circle cx="358.15" cy="385.14" r="1.25"/><circle cx="362.76" cy="368.4" r="1.25"/><circle cx="352.6" cy="386.26" r="1.25"/><circle cx="353.23" cy="384.85" r="1.25"/><circle cx="361.4" cy="377.77" r="1.25"/><circle cx="357.02" cy="386.16" r="1.25"/><circle cx="353.7" cy="385.96" r="1.25"/><circle cx="350.2" cy="360.29" r="1.25"/><circle cx="348.89" cy="384.12" r="1.25"/><circle cx="355.02" cy="386.26" r="1.25"/><circle cx="362.57" cy="370.8" r="1.25"/><circle cx="348.17" cy="315.77" r="1.25"/><circle cx="352.11" cy="372.29" r="1.25"/><circle cx="353.33" cy="384.11" r="1.25"/><circle cx="356.72" cy="386.11" r="1.25"/><circle cx="348.82" cy="348.51" r="1.25"/><circle cx="362.34" cy="338.95" r="1.25"/><circle cx="351.2" cy="383.53" r="1.25"/><circle cx="361.64" cy="351.3" r="1.25"/><circle cx="362.84" cy="338.36" r="1.25"/><circle cx="362.99" cy="384.12" r="1.25"/><circle cx="361.26" cy="360.86" r="1.25"/><circle cx="354.32" cy="384.41" r="1.25"/><circle cx="349.31" cy="382.49" r="1.25"/><circle cx="357.59" cy="386.17" r="1.25"/><circle cx="360.21" cy="377.21" r="1.25"/><circle cx="352.24" cy="374.09" r="1.25"/><circle cx="352.16" cy="385.57" r="1.25"/><circle cx="350.06" cy="386.13" r="1.25"/><circle cx="351.92" cy="382.7" r="1.25"/><circle cx="353.1" cy="385.56" r="1.25"/><circle cx="348.57" cy="385.45" r="1.25"/><circle cx="349.66" cy="384.18" r="1.25"/><circle cx="350.28" cy="366.26" r="1.25"/><circle cx="352.39" cy="382.59" r="1.25"/><circle cx="360.52" cy="381.8" r="1.25"/><circle cx="358.87" cy="385.09" r="1.25"/><circle cx="361.24" cy="367.51" r="1.25"/><circle cx="361.19" cy="381.88" r="1.25"/><circle cx="358.07" cy="382.66" r="1.25"/><circle cx="349" cy="383.79" r="1.25"/><circle cx="357.73" cy="385.97" r="1.25"/><circle cx="356.54" cy="386.23" r="1.25"/><circle cx="348.98" cy="383.27" r="1.25"/><circle cx="362.69" cy="376.59" r="1.25"/><circle cx="358.21" cy="385.85" r="1.25"/><circle cx="359.07" cy="385.59" r="1.25"/><circle cx="349.11" cy="379.35" r="1.25"/><circle cx="360.72" cy="367.98" r="1.25"/><circle cx="348.11" cy="382.93" r="1.25"/><circle cx="352.54" cy="381.99" r="1.25"/><circle cx="350.58" cy="382.01" r="1.25"/><circle cx="356.55" cy="386.09" r="1.25"/><circle cx="351.34" cy="385.97" r="1.25"/><circle cx="351.06" cy="379.48" r="1.25"/><circle cx="353.66" cy="385.98" r="1.25"/><circle cx="349.58" cy="339.08" r="1.25"/><circle cx="363.71" cy="324.29" r="1.25"/><circle cx="348.64" cy="383.74" r="1.25"/><circle cx="362.8" cy="384.58" r="1.25"/><circle cx="349.56" cy="361.92" r="1.25"/><circle cx="362.64" cy="386.09" r="1.25"/><circle cx="348.61" cy="363.6" r="1.25"/><circle cx="363.86" cy="341.27" r="1.25"/><circle cx="348.62" cy="326.82" r="1.25"/><circle cx="349.04" cy="369.33" r="1.25"/><circle cx="359.24" cy="385.32" r="1.25"/><circle cx="361.61" cy="379.15" r="1.25"/><circle cx="354.74" cy="385.58" r="1.25"/><circle cx="359.58" cy="384.81" r="1.25"/><circle cx="350.13" cy="376.22" r="1.25"/><circle cx="357.12" cy="386.11" r="1.25"/><circle cx="351.45" cy="375.51" r="1.25"/><circle cx="354.78" cy="386.15" r="1.25"/><circle cx="358.82" cy="384.89" r="1.25"/><circle cx="353.87" cy="384.36" r="1.25"/><circle cx="361.84" cy="384.53" r="1.25"/><circle cx="351.63" cy="371.96" r="1.25"/><circle cx="350.54" cy="386.24" r="1.25"/><circle cx="363.74" cy="350.55" r="1.25"/><circle cx="351.23" cy="364.49" r="1.25"/><circle cx="350.34" cy="372.24" r="1.25"/><circle cx="356.54" cy="386.26" r="1.25"/><circle cx="348.9" cy="348.03" r="1.25"/><circle cx="355" cy="386.27" r="1.25"/><circle cx="356.73" cy="386.13" r="1.25"/><circle cx="348.6" cy="385.08" r="1.25"/><circle cx="349.97" cy="366.53" r="1.25"/><circle cx="358.9" cy="379.6" r="1.25"/><circle cx="349.69" cy="370.68" r="1.25"/><circle cx="359.22" cy="385.47" r="1.25"/><circle cx="358.74" cy="382.76" r="1.25"/><circle cx="353.5" cy="381.8" r="1.25"/><circle cx="363.62" cy="358.05" r="1.25"/><circle cx="352.64" cy="380.72" r="1.25"/><circle cx="353.25" cy="386.1" r="1.25"/><circle cx="352.89" cy="386.12" r="1.25"/><circle cx="358.49" cy="385.91" r="1.25"/><circle cx="357.53" cy="384.89" r="1.25"/><circle cx="350.08" cy="381.88" r="1.25"/><circle cx="348.25" cy="311.11" r="1.25"/><circle cx="359.48" cy="386.11" r="1.25"/><circle cx="361.85" cy="369.66" r="1.25"/><circle cx="363.67" cy="353.97" r="1.25"/><circle cx="351.58" cy="377.02" r="1.25"/><circle cx="361.06" cy="372.91" r="1.25"/><circle cx="361.64" cy="385.29" r="1.25"/><circle cx="361.53" cy="376.73" r="1.25"/><circle cx="358.52" cy="385.24" r="1.25"/><circle cx="351.53" cy="385.11" r="1.25"/><circle cx="359.47" cy="385.92" r="1.25"/><circle cx="351.27" cy="383.1" r="1.25"/><circle cx="363.38" cy="386.01" r="1.25"/><circle cx="359.36" cy="378.76" r="1.25"/><circle cx="349.43" cy="383.28" r="1.25"/><circle cx="354.97" cy="386.26" r="1.25"/><circle cx="361.24" cy="373.86" r="1.25"/><circle cx="348.32" cy="342.2" r="1.25"/><circle cx="353.53" cy="381.84" r="1.25"/><circle cx="349.02" cy="385.64" r="1.25"/><circle cx="350.94" cy="377.16" r="1.25"/><circle cx="362.55" cy="350.42" r="1.25"/><circle cx="352.48" cy="379.36" r="1.25"/><circle cx="361.99" cy="386.19" r="1.25"/><circle cx="357.73" cy="385.07" r="1.25"/><circle cx="351.29" cy="375.56" r="1.25"/><circle cx="348.94" cy="328.98" r="1.25"/><circle cx="352.26" cy="386.15" r="1.25"/><circle cx="352.66" cy="379.8" r="1.25"/><circle cx="353.57" cy="386.01" r="1.25"/><circle cx="362.98" cy="340.64" r="1.25"/><circle cx="352.7" cy="381.88" r="1.25"/><circle cx="351.93" cy="379.82" r="1.25"/><circle cx="363.05" cy="371.89" r="1.25"/><circle cx="361.84" cy="381.09" r="1.25"/><circle cx="351.35" cy="381.25" r="1.25"/><circle cx="350" cy="363.85" r="1.25"/><circle cx="349.13" cy="374.98" r="1.25"/><circle cx="348.81" cy="385.92" r="1.25"/><circle cx="350.89" cy="380.7" r="1.25"/><circle cx="359.31" cy="379.62" r="1.25"/><circle cx="348.1" cy="338.98" r="1.25"/><circle cx="349.03" cy="383.98" r="1.25"/><circle cx="348.78" cy="348.05" r="1.25"/><circle cx="362.11" cy="378.02" r="1.25"/><circle cx="362.3" cy="362.45" r="1.25"/><circle cx="361.74" cy="386.03" r="1.25"/><circle cx="362.86" cy="336.51" r="1.25"/><circle cx="362.5" cy="383.85" r="1.25"/><circle cx="359.77" cy="386.1" r="1.25"/><circle cx="361.17" cy="363.27" r="1.25"/><circle cx="359.31" cy="386.27" r="1.25"/><circle cx="359.14" cy="379.33" r="1.25"/><circle cx="353.17" cy="384.33" r="1.25"/><circle cx="351.14" cy="362.6" r="1.25"/><circle cx="354.89" cy="386.12" r="1.25"/><circle cx="350.1" cy="373.53" r="1.25"/><circle cx="354.22" cy="385.67" r="1.25"/><circle cx="353.55" cy="386.05" r="1.25"/><circle cx="353.78" cy="384.9" r="1.25"/><circle cx="358.49" cy="385.46" r="1.25"/><circle cx="350.35" cy="371.49" r="1.25"/><circle cx="351.79" cy="368.78" r="1.25"/><circle cx="350.24" cy="385.98" r="1.25"/><circle cx="361.39" cy="355.11" r="1.25"/><circle cx="354.7" cy="385.49" r="1.25"/><circle cx="361.45" cy="384.51" r="1.25"/><circle cx="362.55" cy="371.89" r="1.25"/><circle cx="349.76" cy="368.48" r="1.25"/><circle cx="359.57" cy="382.05" r="1.25"/><circle cx="359.11" cy="379.63" r="1.25"/><circle cx="362.24" cy="362.75" r="1.25"/><circle cx="362.63" cy="378.89" r="1.25"/><circle cx="363" cy="349.74" r="1.25"/><circle cx="348.48" cy="372.31" r="1.25"/><circle cx="361.56" cy="357.9" r="1.25"/><circle cx="362.47" cy="338.98" r="1.25"/><circle cx="356.71" cy="386.26" r="1.25"/><circle cx="353.16" cy="379.67" r="1.25"/><circle cx="363.27" cy="375.95" r="1.25"/><circle cx="352.2" cy="386" r="1.25"/><circle cx="352.5" cy="375.69" r="1.25"/><circle cx="352.84" cy="383.68" r="1.25"/><circle cx="349.35" cy="381.47" r="1.25"/><circle cx="350.95" cy="375.57" r="1.25"/><circle cx="351.54" cy="382.49" r="1.25"/><circle cx="363.84" cy="361.57" r="1.25"/><circle cx="360.09" cy="375.1" r="1.25"/><circle cx="354.41" cy="385.89" r="1.25"/><circle cx="362.98" cy="380.59" r="1.25"/><circle cx="349.1" cy="386.22" r="1.25"/><circle cx="361.04" cy="373.59" r="1.25"/><circle cx="353.28" cy="381.6" r="1.25"/><circle cx="362.91" cy="380.93" r="1.25"/><circle cx="362.79" cy="331.97" r="1.25"/><circle cx="349.32" cy="376.16" r="1.25"/><circle cx="361.89" cy="358.06" r="1.25"/><circle cx="359.96" cy="384.68" r="1.25"/></g>
<g fill="#EE3D4E"><circle cx="370.68" cy="367.1" r="1.15"/><circle cx="371.14" cy="326.67" r="1.15"/><circle cx="364.6" cy="324.49" r="1.15"/><circle cx="371.33" cy="345.79" r="1.15"/><circle cx="366.51" cy="264" r="1.15"/><circle cx="366.34" cy="312.68" r="1.15"/><circle cx="367.44" cy="341.13" r="1.15"/><circle cx="366.03" cy="331.53" r="1.15"/><circle cx="365.75" cy="291.62" r="1.15"/><circle cx="367.5" cy="344.09" r="1.15"/><circle cx="364.94" cy="359.78" r="1.15"/><circle cx="371.47" cy="283.9" r="1.15"/><circle cx="367.64" cy="361.79" r="1.15"/><circle cx="364.71" cy="364.51" r="1.15"/><circle cx="368.57" cy="372.87" r="1.15"/><circle cx="366.69" cy="266.56" r="1.15"/><circle cx="367.73" cy="366.23" r="1.15"/><circle cx="369.51" cy="373.8" r="1.15"/><circle cx="368.53" cy="300.54" r="1.15"/><circle cx="364.38" cy="363.55" r="1.15"/><circle cx="365.61" cy="318.33" r="1.15"/><circle cx="368.07" cy="353.46" r="1.15"/><circle cx="373.92" cy="331.82" r="1.15"/><circle cx="365.73" cy="281.28" r="1.15"/><circle cx="367.74" cy="370.6" r="1.15"/><circle cx="366.71" cy="317.09" r="1.15"/><circle cx="376.8" cy="309.54" r="1.15"/><circle cx="369.06" cy="332.69" r="1.15"/><circle cx="369.64" cy="343.49" r="1.15"/><circle cx="371.28" cy="293.7" r="1.15"/><circle cx="366.96" cy="322.45" r="1.15"/><circle cx="369.63" cy="325.74" r="1.15"/><circle cx="368.54" cy="276.19" r="1.15"/><circle cx="364.75" cy="282.41" r="1.15"/><circle cx="364.52" cy="353.01" r="1.15"/><circle cx="364.86" cy="322.86" r="1.15"/><circle cx="364.6" cy="325.06" r="1.15"/><circle cx="371.12" cy="310.93" r="1.15"/><circle cx="367.64" cy="375.86" r="1.15"/><circle cx="366.27" cy="368.32" r="1.15"/><circle cx="366.45" cy="353.14" r="1.15"/><circle cx="368.98" cy="374.84" r="1.15"/><circle cx="364.53" cy="365.82" r="1.15"/><circle cx="365.88" cy="344.75" r="1.15"/><circle cx="366.12" cy="364.53" r="1.15"/><circle cx="370.36" cy="328.05" r="1.15"/><circle cx="368" cy="310.16" r="1.15"/><circle cx="368.43" cy="359.12" r="1.15"/><circle cx="366.76" cy="330.04" r="1.15"/><circle cx="369.52" cy="375.67" r="1.15"/><circle cx="367.27" cy="289.44" r="1.15"/><circle cx="365.21" cy="346.04" r="1.15"/><circle cx="366.05" cy="376.16" r="1.15"/><circle cx="365.11" cy="318.93" r="1.15"/><circle cx="372.95" cy="267.43" r="1.15"/><circle cx="364.38" cy="369.58" r="1.15"/><circle cx="369.41" cy="375.39" r="1.15"/><circle cx="365.32" cy="336.43" r="1.15"/><circle cx="368.71" cy="373.26" r="1.15"/><circle cx="368.12" cy="309.28" r="1.15"/><circle cx="365.55" cy="302.96" r="1.15"/><circle cx="369.23" cy="288.41" r="1.15"/></g>
<g fill="#4B62C0"><circle cx="343.39" cy="294.92" r="1.15"/><circle cx="344" cy="337.57" r="1.15"/><circle cx="346.56" cy="267.37" r="1.15"/><circle cx="343.43" cy="369.09" r="1.15"/><circle cx="345.22" cy="374.97" r="1.15"/><circle cx="345.98" cy="344.57" r="1.15"/><circle cx="346.51" cy="292.14" r="1.15"/><circle cx="337.39" cy="369.05" r="1.15"/><circle cx="347.1" cy="371.51" r="1.15"/><circle cx="344.16" cy="302.82" r="1.15"/><circle cx="346.68" cy="375.11" r="1.15"/><circle cx="346.77" cy="293.99" r="1.15"/><circle cx="334.46" cy="361.32" r="1.15"/><circle cx="346.8" cy="253.98" r="1.15"/><circle cx="347.15" cy="327.65" r="1.15"/><circle cx="341.38" cy="302.99" r="1.15"/><circle cx="346.51" cy="361.66" r="1.15"/><circle cx="347.41" cy="334.88" r="1.15"/><circle cx="341.89" cy="346.68" r="1.15"/><circle cx="343.75" cy="335.99" r="1.15"/><circle cx="347.23" cy="311.68" r="1.15"/><circle cx="340.34" cy="368.61" r="1.15"/><circle cx="340.52" cy="340.16" r="1.15"/><circle cx="346.6" cy="354.78" r="1.15"/><circle cx="345.02" cy="280.64" r="1.15"/><circle cx="345.28" cy="374.04" r="1.15"/><circle cx="340.21" cy="371" r="1.15"/><circle cx="333.82" cy="364.54" r="1.15"/><circle cx="344.2" cy="350.77" r="1.15"/><circle cx="345.72" cy="369.59" r="1.15"/><circle cx="347.32" cy="323.62" r="1.15"/><circle cx="345.49" cy="376.11" r="1.15"/><circle cx="345.14" cy="375.49" r="1.15"/><circle cx="345.24" cy="373.03" r="1.15"/><circle cx="343.06" cy="272.78" r="1.15"/><circle cx="347.41" cy="293.83" r="1.15"/><circle cx="347.15" cy="291.4" r="1.15"/><circle cx="341.09" cy="261.05" r="1.15"/><circle cx="345.95" cy="355.14" r="1.15"/><circle cx="347.09" cy="364.4" r="1.15"/><circle cx="343.18" cy="307.33" r="1.15"/><circle cx="345.4" cy="349.1" r="1.15"/><circle cx="347.24" cy="320.62" r="1.15"/><circle cx="342.69" cy="326.06" r="1.15"/><circle cx="345.86" cy="308.9" r="1.15"/><circle cx="337.36" cy="344.49" r="1.15"/><circle cx="346.09" cy="285.41" r="1.15"/><circle cx="346.06" cy="259.84" r="1.15"/><circle cx="347.42" cy="357.59" r="1.15"/><circle cx="342.82" cy="290.95" r="1.15"/><circle cx="343.18" cy="366.5" r="1.15"/><circle cx="341.2" cy="263.78" r="1.15"/><circle cx="344.58" cy="278.02" r="1.15"/><circle cx="346.43" cy="314.39" r="1.15"/><circle cx="347.49" cy="376.04" r="1.15"/><circle cx="346.51" cy="333.54" r="1.15"/><circle cx="340.1" cy="298.32" r="1.15"/><circle cx="346.72" cy="293.01" r="1.15"/><circle cx="347.43" cy="292.44" r="1.15"/><circle cx="341.78" cy="355.88" r="1.15"/><circle cx="346.76" cy="266.3" r="1.15"/><circle cx="345.38" cy="271.51" r="1.15"/><circle cx="341.03" cy="374.74" r="1.15"/><circle cx="346.89" cy="318.98" r="1.15"/><circle cx="343.47" cy="347.05" r="1.15"/><circle cx="344.28" cy="301.13" r="1.15"/><circle cx="345.04" cy="350.77" r="1.15"/><circle cx="344.78" cy="374.58" r="1.15"/><circle cx="342.96" cy="338.85" r="1.15"/><circle cx="344.42" cy="338.21" r="1.15"/><circle cx="345.68" cy="352.28" r="1.15"/><circle cx="342.74" cy="292.45" r="1.15"/><circle cx="345.49" cy="368.68" r="1.15"/><circle cx="340.64" cy="323.92" r="1.15"/><circle cx="346.44" cy="331.66" r="1.15"/><circle cx="344.5" cy="342.32" r="1.15"/><circle cx="344.39" cy="281.57" r="1.15"/><circle cx="346.51" cy="355.3" r="1.15"/><circle cx="343.24" cy="316.18" r="1.15"/><circle cx="344.66" cy="305.62" r="1.15"/></g>
<line x1="347.86" y1="393" x2="347.86" y2="245" stroke="#000" stroke-width="2.3" stroke-dasharray="2.8,8.9,11.2,8.9"/>
<line x1="364.04" y1="393" x2="364.04" y2="245" stroke="#000" stroke-width="2.3" stroke-dasharray="2.8,8.9,11.2,8.9"/>
<line x1="267" y1="377.53" x2="444.9" y2="377.53" stroke="#000" stroke-width="2.3" stroke-dasharray="2.8,8.9,11.2,8.9"/>
<text x="294.3" y="288.06" font-size="7.8" text-anchor="middle">Down: 94</text>
<text x="423" y="288.06" font-size="7.8" text-anchor="middle">Up: 107</text>
<text x="355.95" y="388.37" font-size="7.8" text-anchor="middle">Not significant: 3576</text>
<rect x="267" y="245" width="177.9" height="148" fill="none" stroke="#222" stroke-width="1.4"/>
<line x1="264" y1="386.27" x2="267" y2="386.27" stroke="#333" stroke-width="0.8"/>
<text x="263.2" y="389.97" font-size="10.5" text-anchor="end">0</text>
<line x1="264" y1="352.64" x2="267" y2="352.64" stroke="#333" stroke-width="0.8"/>
<text x="263.2" y="356.34" font-size="10.5" text-anchor="end">5</text>
<line x1="264" y1="319" x2="267" y2="319" stroke="#333" stroke-width="0.8"/>
<text x="263.2" y="322.7" font-size="10.5" text-anchor="end">10</text>
<line x1="264" y1="285.36" x2="267" y2="285.36" stroke="#333" stroke-width="0.8"/>
<text x="263.2" y="289.06" font-size="10.5" text-anchor="end">15</text>
<line x1="264" y1="251.73" x2="267" y2="251.73" stroke="#333" stroke-width="0.8"/>
<text x="263.2" y="255.43" font-size="10.5" text-anchor="end">20</text>
<line x1="275.09" y1="393" x2="275.09" y2="395.5" stroke="#333" stroke-width="0.8"/>
<text x="275.09" y="405.4" font-size="10.5" text-anchor="middle">&#8722;10</text>
<line x1="315.52" y1="393" x2="315.52" y2="395.5" stroke="#333" stroke-width="0.8"/>
<text x="315.52" y="405.4" font-size="10.5" text-anchor="middle">&#8722;5</text>
<line x1="355.95" y1="393" x2="355.95" y2="395.5" stroke="#333" stroke-width="0.8"/>
<text x="355.95" y="405.4" font-size="10.5" text-anchor="middle">0</text>
<line x1="396.38" y1="393" x2="396.38" y2="395.5" stroke="#333" stroke-width="0.8"/>
<text x="396.38" y="405.4" font-size="10.5" text-anchor="middle">5</text>
<line x1="436.81" y1="393" x2="436.81" y2="395.5" stroke="#333" stroke-width="0.8"/>
<text x="436.81" y="405.4" font-size="10.5" text-anchor="middle">10</text>
<text x="561.5" y="238.4" font-size="10.5" text-anchor="middle" font-weight="bold">&#916;OmpA + HNP1 vs &#916;OmpA</text>
<line x1="479.98" y1="245" x2="479.98" y2="393" stroke="#bcbcbc" stroke-width="0.7" stroke-dasharray="3,3"/>
<line x1="500.19" y1="245" x2="500.19" y2="393" stroke="#bcbcbc" stroke-width="0.7" stroke-dasharray="3,3"/>
<line x1="520.39" y1="245" x2="520.39" y2="393" stroke="#bcbcbc" stroke-width="0.7" stroke-dasharray="3,3"/>
<line x1="540.6" y1="245" x2="540.6" y2="393" stroke="#bcbcbc" stroke-width="0.7" stroke-dasharray="3,3"/>
<line x1="560.8" y1="245" x2="560.8" y2="393" stroke="#bcbcbc" stroke-width="0.7" stroke-dasharray="3,3"/>
<line x1="581" y1="245" x2="581" y2="393" stroke="#bcbcbc" stroke-width="0.7" stroke-dasharray="3,3"/>
<line x1="601.21" y1="245" x2="601.21" y2="393" stroke="#bcbcbc" stroke-width="0.7" stroke-dasharray="3,3"/>
<line x1="621.41" y1="245" x2="621.41" y2="393" stroke="#bcbcbc" stroke-width="0.7" stroke-dasharray="3,3"/>
<line x1="641.62" y1="245" x2="641.62" y2="393" stroke="#bcbcbc" stroke-width="0.7" stroke-dasharray="3,3"/>
<line x1="471.9" y1="386.27" x2="649.7" y2="386.27" stroke="#bcbcbc" stroke-width="0.7" stroke-dasharray="3,3"/>
<line x1="471.9" y1="369.45" x2="649.7" y2="369.45" stroke="#bcbcbc" stroke-width="0.7" stroke-dasharray="3,3"/>
<line x1="471.9" y1="352.64" x2="649.7" y2="352.64" stroke="#bcbcbc" stroke-width="0.7" stroke-dasharray="3,3"/>
<line x1="471.9" y1="335.82" x2="649.7" y2="335.82" stroke="#bcbcbc" stroke-width="0.7" stroke-dasharray="3,3"/>
<line x1="471.9" y1="319" x2="649.7" y2="319" stroke="#bcbcbc" stroke-width="0.7" stroke-dasharray="3,3"/>
<line x1="471.9" y1="302.18" x2="649.7" y2="302.18" stroke="#bcbcbc" stroke-width="0.7" stroke-dasharray="3,3"/>
<line x1="471.9" y1="285.36" x2="649.7" y2="285.36" stroke="#bcbcbc" stroke-width="0.7" stroke-dasharray="3,3"/>
<line x1="471.9" y1="268.55" x2="649.7" y2="268.55" stroke="#bcbcbc" stroke-width="0.7" stroke-dasharray="3,3"/>
<line x1="471.9" y1="251.73" x2="649.7" y2="251.73" stroke="#bcbcbc" stroke-width="0.7" stroke-dasharray="3,3"/>
<g fill="#bebebe"><circle cx="565.97" cy="381.46" r="1.25"/><circle cx="555.11" cy="386.01" r="1.25"/><circle cx="567.78" cy="381.19" r="1.25"/><circle cx="568.7" cy="366.6" r="1.25"/><circle cx="556.09" cy="375.84" r="1.25"/><circle cx="566.55" cy="357.68" r="1.25"/><circle cx="554.39" cy="363.16" r="1.25"/><circle cx="567.31" cy="367.21" r="1.25"/><circle cx="561.76" cy="385.81" r="1.25"/><circle cx="567.07" cy="350.57" r="1.25"/><circle cx="553.33" cy="373.62" r="1.25"/><circle cx="556.3" cy="367.68" r="1.25"/><circle cx="559.08" cy="386.21" r="1.25"/><circle cx="568.52" cy="369.93" r="1.25"/><circle cx="557.34" cy="382.9" r="1.25"/><circle cx="564.63" cy="380.75" r="1.25"/><circle cx="553.43" cy="353.45" r="1.25"/><circle cx="553.7" cy="327.4" r="1.25"/><circle cx="558.47" cy="382.74" r="1.25"/><circle cx="553.42" cy="362.55" r="1.25"/><circle cx="558.05" cy="381.44" r="1.25"/><circle cx="557.46" cy="386.2" r="1.25"/><circle cx="552.94" cy="385.31" r="1.25"/><circle cx="556.54" cy="385.66" r="1.25"/><circle cx="567.37" cy="346.96" r="1.25"/><circle cx="566.42" cy="386.14" r="1.25"/><circle cx="557.12" cy="375.73" r="1.25"/><circle cx="555.89" cy="360.69" r="1.25"/><circle cx="562.3" cy="385.6" r="1.25"/><circle cx="563.43" cy="385.06" r="1.25"/><circle cx="558.53" cy="386.26" r="1.25"/><circle cx="557.24" cy="374.95" r="1.25"/><circle cx="556.77" cy="382.25" r="1.25"/><circle cx="554.99" cy="371.42" r="1.25"/><circle cx="555.14" cy="354.45" r="1.25"/><circle cx="556.4" cy="375.21" r="1.25"/><circle cx="564.26" cy="375.26" r="1.25"/><circle cx="555.61" cy="386.26" r="1.25"/><circle cx="566.2" cy="386.24" r="1.25"/><circle cx="555.07" cy="386.04" r="1.25"/><circle cx="556.16" cy="375.01" r="1.25"/><circle cx="567" cy="360.89" r="1.25"/><circle cx="562.12" cy="385.65" r="1.25"/><circle cx="557.73" cy="384.15" r="1.25"/><circle cx="557.2" cy="384.23" r="1.25"/><circle cx="564.76" cy="380.1" r="1.25"/><circle cx="564.82" cy="376.09" r="1.25"/><circle cx="566.13" cy="368.46" r="1.25"/><circle cx="563.64" cy="381.36" r="1.25"/><circle cx="563.34" cy="385.01" r="1.25"/><circle cx="559.04" cy="385.96" r="1.25"/><circle cx="567.76" cy="373.29" r="1.25"/><circle cx="558.41" cy="385.58" r="1.25"/><circle cx="553.54" cy="371.21" r="1.25"/><circle cx="562.75" cy="385.3" r="1.25"/><circle cx="567.6" cy="346.72" r="1.25"/><circle cx="564.09" cy="379.34" r="1.25"/><circle cx="554" cy="378.27" r="1.25"/><circle cx="564.19" cy="379.05" r="1.25"/><circle cx="564.6" cy="383.33" r="1.25"/><circle cx="565.05" cy="370.39" r="1.25"/><circle cx="561.34" cy="386.13" r="1.25"/><circle cx="552.95" cy="369.46" r="1.25"/><circle cx="553.29" cy="381.73" r="1.25"/><circle cx="553.82" cy="358.78" r="1.25"/><circle cx="557.43" cy="384.72" r="1.25"/><circle cx="562.21" cy="385.72" r="1.25"/><circle cx="567.62" cy="386.07" r="1.25"/><circle cx="554.68" cy="349.38" r="1.25"/><circle cx="553.45" cy="362.18" r="1.25"/><circle cx="567.23" cy="384.27" r="1.25"/><circle cx="566.73" cy="373.88" r="1.25"/><circle cx="568.37" cy="357.53" r="1.25"/><circle cx="563.88" cy="379.55" r="1.25"/><circle cx="567.46" cy="378.39" r="1.25"/><circle cx="565.9" cy="366.79" r="1.25"/><circle cx="567.51" cy="340.79" r="1.25"/><circle cx="553.9" cy="386.26" r="1.25"/><circle cx="553.67" cy="386" r="1.25"/><circle cx="564.01" cy="383.23" r="1.25"/><circle cx="565.49" cy="371.63" r="1.25"/><circle cx="562.06" cy="386.25" r="1.25"/><circle cx="562.21" cy="384.88" r="1.25"/><circle cx="559.2" cy="385.71" r="1.25"/><circle cx="564.36" cy="384.41" r="1.25"/><circle cx="555.36" cy="381.08" r="1.25"/><circle cx="564.47" cy="385.97" r="1.25"/><circle cx="554.55" cy="378.42" r="1.25"/><circle cx="563.27" cy="385.38" r="1.25"/><circle cx="554.14" cy="377.2" r="1.25"/><circle cx="555.13" cy="378.39" r="1.25"/><circle cx="565.65" cy="373.07" r="1.25"/><circle cx="566.92" cy="375.71" r="1.25"/><circle cx="565.91" cy="371.65" r="1.25"/><circle cx="565.16" cy="382.07" r="1.25"/><circle cx="553.24" cy="374.47" r="1.25"/><circle cx="554.09" cy="381.55" r="1.25"/><circle cx="562.77" cy="384.12" r="1.25"/><circle cx="553.52" cy="344.56" r="1.25"/><circle cx="554.44" cy="369.67" r="1.25"/><circle cx="566.25" cy="386.27" r="1.25"/><circle cx="567.41" cy="386.09" r="1.25"/><circle cx="562.53" cy="384.41" r="1.25"/><circle cx="561.66" cy="385.94" r="1.25"/><circle cx="567.82" cy="357.59" r="1.25"/><circle cx="553.15" cy="359.66" r="1.25"/><circle cx="559.77" cy="385.84" r="1.25"/><circle cx="554.55" cy="385.48" r="1.25"/><circle cx="553.25" cy="385.82" r="1.25"/><circle cx="566.1" cy="364.53" r="1.25"/><circle cx="563.28" cy="385.83" r="1.25"/><circle cx="554.32" cy="377.19" r="1.25"/><circle cx="564.96" cy="383.62" r="1.25"/><circle cx="562.37" cy="385.74" r="1.25"/><circle cx="556.52" cy="375.22" r="1.25"/><circle cx="566.9" cy="360.72" r="1.25"/><circle cx="555.81" cy="379.08" r="1.25"/><circle cx="553.47" cy="384.17" r="1.25"/><circle cx="567.25" cy="345.18" r="1.25"/><circle cx="556.31" cy="374.77" r="1.25"/><circle cx="564" cy="385.75" r="1.25"/><circle cx="557.24" cy="385.39" r="1.25"/><circle cx="553.14" cy="378.31" r="1.25"/><circle cx="556.52" cy="372.22" r="1.25"/><circle cx="557.6" cy="385.66" r="1.25"/><circle cx="565.53" cy="382.08" r="1.25"/><circle cx="564.7" cy="384.31" r="1.25"/><circle cx="558.64" cy="382.46" r="1.25"/><circle cx="566.32" cy="377.7" r="1.25"/><circle cx="553.91" cy="366.76" r="1.25"/><circle cx="567.08" cy="352.03" r="1.25"/><circle cx="567.16" cy="342.99" r="1.25"/><circle cx="563.7" cy="385.71" r="1.25"/><circle cx="554.8" cy="348.51" r="1.25"/><circle cx="557.8" cy="385.86" r="1.25"/><circle cx="563.34" cy="383.26" r="1.25"/><circle cx="553.45" cy="380.73" r="1.25"/><circle cx="557.25" cy="383.68" r="1.25"/><circle cx="559.2" cy="386.25" r="1.25"/><circle cx="557.41" cy="384.56" r="1.25"/><circle cx="554.8" cy="386.27" r="1.25"/><circle cx="565.24" cy="380.72" r="1.25"/><circle cx="566.23" cy="356.45" r="1.25"/><circle cx="565.97" cy="385.65" r="1.25"/><circle cx="566.74" cy="385.49" r="1.25"/><circle cx="553.4" cy="385.29" r="1.25"/><circle cx="556.8" cy="376.21" r="1.25"/><circle cx="557.38" cy="380.77" r="1.25"/><circle cx="554" cy="381.29" r="1.25"/><circle cx="553.1" cy="350.87" r="1.25"/><circle cx="558.93" cy="385.49" r="1.25"/><circle cx="567.07" cy="363.89" r="1.25"/><circle cx="558.3" cy="383.8" r="1.25"/><circle cx="558.33" cy="381.98" r="1.25"/><circle cx="558.83" cy="383.52" r="1.25"/><circle cx="564.49" cy="378.91" r="1.25"/><circle cx="555.56" cy="372.67" r="1.25"/><circle cx="564.35" cy="385.74" r="1.25"/><circle cx="567.05" cy="359.32" r="1.25"/><circle cx="554.4" cy="378.8" r="1.25"/><circle cx="564.87" cy="373.26" r="1.25"/><circle cx="565.7" cy="384.2" r="1.25"/><circle cx="556.95" cy="384.24" r="1.25"/><circle cx="565.95" cy="368.32" r="1.25"/><circle cx="567.84" cy="385.13" r="1.25"/><circle cx="562.54" cy="386.23" r="1.25"/><circle cx="554.48" cy="384.07" r="1.25"/><circle cx="565.1" cy="375.17" r="1.25"/><circle cx="554.35" cy="367.55" r="1.25"/><circle cx="564.97" cy="385.35" r="1.25"/><circle cx="555.48" cy="384.53" r="1.25"/><circle cx="567.45" cy="386.18" r="1.25"/><circle cx="553.5" cy="328.13" r="1.25"/><circle cx="566.02" cy="375.08" r="1.25"/><circle cx="553.01" cy="348.57" r="1.25"/><circle cx="567.92" cy="369.95" r="1.25"/><circle cx="554.48" cy="386.27" r="1.25"/><circle cx="554.88" cy="375.27" r="1.25"/><circle cx="556.19" cy="385.12" r="1.25"/><circle cx="559.76" cy="386.07" r="1.25"/><circle cx="556.31" cy="378.76" r="1.25"/><circle cx="553.5" cy="384.52" r="1.25"/><circle cx="555.12" cy="386.11" r="1.25"/><circle cx="563.73" cy="386.19" r="1.25"/><circle cx="553.28" cy="377.32" r="1.25"/><circle cx="554.68" cy="385.12" r="1.25"/><circle cx="555.26" cy="356.78" r="1.25"/><circle cx="554.4" cy="379.37" r="1.25"/><circle cx="553.27" cy="333.78" r="1.25"/><circle cx="567.3" cy="372.96" r="1.25"/><circle cx="561.91" cy="386.26" r="1.25"/><circle cx="563.11" cy="384.98" r="1.25"/><circle cx="555.68" cy="380.29" r="1.25"/><circle cx="557.31" cy="383.34" r="1.25"/><circle cx="556.61" cy="385.45" r="1.25"/><circle cx="554.52" cy="378.85" r="1.25"/><circle cx="565.87" cy="375.38" r="1.25"/><circle cx="561.29" cy="386.26" r="1.25"/><circle cx="558.64" cy="385.32" r="1.25"/><circle cx="563.53" cy="386" r="1.25"/><circle cx="563.18" cy="386.27" r="1.25"/><circle cx="563.18" cy="384.93" r="1.25"/><circle cx="561.64" cy="386.17" r="1.25"/><circle cx="566.98" cy="386.07" r="1.25"/><circle cx="564.96" cy="386.25" r="1.25"/><circle cx="557.99" cy="386.17" r="1.25"/><circle cx="563.15" cy="384.27" r="1.25"/><circle cx="562.77" cy="386.26" r="1.25"/><circle cx="557.54" cy="379.76" r="1.25"/><circle cx="568.34" cy="378.37" r="1.25"/><circle cx="563.99" cy="379.71" r="1.25"/><circle cx="557.01" cy="386.07" r="1.25"/><circle cx="553.05" cy="357.75" r="1.25"/><circle cx="561.75" cy="386.26" r="1.25"/><circle cx="561.83" cy="386.27" r="1.25"/><circle cx="553.45" cy="382.67" r="1.25"/><circle cx="556.08" cy="370.49" r="1.25"/><circle cx="553.22" cy="386.11" r="1.25"/><circle cx="566.37" cy="355.18" r="1.25"/><circle cx="564.2" cy="378.05" r="1.25"/><circle cx="564.91" cy="383.9" r="1.25"/><circle cx="553.29" cy="383.32" r="1.25"/><circle cx="554.44" cy="352.55" r="1.25"/><circle cx="553.32" cy="375.36" r="1.25"/><circle cx="563.7" cy="381.41" r="1.25"/><circle cx="564.02" cy="385.87" r="1.25"/><circle cx="555.24" cy="367.77" r="1.25"/><circle cx="565.59" cy="385.44" r="1.25"/><circle cx="559.95" cy="386.16" r="1.25"/><circle cx="554.78" cy="385.66" r="1.25"/><circle cx="567.82" cy="359.95" r="1.25"/><circle cx="553.61" cy="371.63" r="1.25"/><circle cx="554.44" cy="379.83" r="1.25"/><circle cx="562.25" cy="385.98" r="1.25"/><circle cx="559.01" cy="385.36" r="1.25"/><circle cx="562.34" cy="385.45" r="1.25"/><circle cx="561.98" cy="386.24" r="1.25"/><circle cx="555.36" cy="386.26" r="1.25"/><circle cx="568.53" cy="381.49" r="1.25"/><circle cx="556.48" cy="374" r="1.25"/><circle cx="554.11" cy="369.28" r="1.25"/><circle cx="563.26" cy="386.22" r="1.25"/><circle cx="558.94" cy="386.27" r="1.25"/><circle cx="558.15" cy="381.22" r="1.25"/><circle cx="565.44" cy="384.76" r="1.25"/><circle cx="555.17" cy="370.47" r="1.25"/><circle cx="553.62" cy="377.15" r="1.25"/><circle cx="556.3" cy="385.87" r="1.25"/><circle cx="555.31" cy="363.31" r="1.25"/><circle cx="565.93" cy="379.13" r="1.25"/><circle cx="559.29" cy="386.02" r="1.25"/><circle cx="562.24" cy="385.74" r="1.25"/><circle cx="556.45" cy="377.39" r="1.25"/><circle cx="558.03" cy="385.23" r="1.25"/><circle cx="557.08" cy="383.3" r="1.25"/><circle cx="563.6" cy="386" r="1.25"/><circle cx="554.48" cy="350.26" r="1.25"/><circle cx="555.19" cy="355.65" r="1.25"/><circle cx="556.48" cy="368.94" r="1.25"/><circle cx="553.17" cy="367.08" r="1.25"/><circle cx="556.57" cy="368.11" r="1.25"/><circle cx="557.41" cy="376.59" r="1.25"/><circle cx="562.5" cy="385.03" r="1.25"/><circle cx="565.8" cy="374.3" r="1.25"/><circle cx="567.23" cy="381.57" r="1.25"/><circle cx="564.59" cy="378.02" r="1.25"/><circle cx="557.45" cy="386.09" r="1.25"/><circle cx="565.06" cy="386.09" r="1.25"/><circle cx="567.34" cy="360.15" r="1.25"/><circle cx="552.99" cy="327.54" r="1.25"/><circle cx="563.12" cy="385.71" r="1.25"/><circle cx="565.85" cy="377.2" r="1.25"/><circle cx="567.87" cy="380.06" r="1.25"/><circle cx="568.07" cy="343.21" r="1.25"/><circle cx="563.8" cy="380.65" r="1.25"/><circle cx="562.85" cy="385.18" r="1.25"/><circle cx="558.44" cy="386.25" r="1.25"/><circle cx="567.38" cy="373.55" r="1.25"/><circle cx="554.12" cy="336.19" r="1.25"/><circle cx="563.32" cy="386.27" r="1.25"/><circle cx="564.54" cy="386.21" r="1.25"/><circle cx="559.12" cy="386.01" r="1.25"/><circle cx="567.57" cy="375.07" r="1.25"/><circle cx="561.93" cy="386.08" r="1.25"/><circle cx="554.8" cy="351.73" r="1.25"/><circle cx="557.76" cy="386.04" r="1.25"/><circle cx="554.1" cy="370.73" r="1.25"/><circle cx="555.58" cy="383.3" r="1.25"/><circle cx="561.56" cy="386.11" r="1.25"/><circle cx="553.42" cy="369.58" r="1.25"/><circle cx="553.29" cy="339.13" r="1.25"/><circle cx="556.51" cy="380.52" r="1.25"/><circle cx="563.31" cy="383.52" r="1.25"/><circle cx="555.61" cy="380.48" r="1.25"/><circle cx="565.37" cy="371.64" r="1.25"/><circle cx="568.49" cy="383.75" r="1.25"/><circle cx="565.82" cy="380.8" r="1.25"/><circle cx="553.87" cy="336.48" r="1.25"/><circle cx="559.85" cy="386.05" r="1.25"/><circle cx="556.01" cy="383.82" r="1.25"/><circle cx="553.38" cy="385.18" r="1.25"/><circle cx="556.82" cy="381.48" r="1.25"/><circle cx="553.1" cy="353.65" r="1.25"/><circle cx="568.27" cy="383.16" r="1.25"/><circle cx="567.73" cy="379.14" r="1.25"/><circle cx="568.44" cy="322.43" r="1.25"/><circle cx="564.93" cy="384.51" r="1.25"/><circle cx="563.86" cy="377.91" r="1.25"/><circle cx="563.7" cy="385.85" r="1.25"/><circle cx="565.85" cy="370.25" r="1.25"/><circle cx="555.07" cy="360.83" r="1.25"/><circle cx="564.11" cy="376.6" r="1.25"/><circle cx="564" cy="383.69" r="1.25"/><circle cx="565.98" cy="386.15" r="1.25"/><circle cx="568.48" cy="384.07" r="1.25"/><circle cx="558.34" cy="381.09" r="1.25"/><circle cx="554.97" cy="385.14" r="1.25"/><circle cx="567.32" cy="384.11" r="1.25"/><circle cx="567.7" cy="342.21" r="1.25"/><circle cx="568.5" cy="362.88" r="1.25"/><circle cx="562.61" cy="385.8" r="1.25"/><circle cx="557.5" cy="386.01" r="1.25"/><circle cx="562.8" cy="385.77" r="1.25"/><circle cx="559.3" cy="386.19" r="1.25"/><circle cx="552.9" cy="312.35" r="1.25"/><circle cx="564.66" cy="372.83" r="1.25"/><circle cx="566.98" cy="380.89" r="1.25"/><circle cx="564.59" cy="377.88" r="1.25"/><circle cx="555.47" cy="378.5" r="1.25"/><circle cx="556.32" cy="379.54" r="1.25"/><circle cx="558.14" cy="383.83" r="1.25"/><circle cx="553.75" cy="383.6" r="1.25"/><circle cx="553.8" cy="383.94" r="1.25"/><circle cx="563.47" cy="386.24" r="1.25"/><circle cx="556.55" cy="371.86" r="1.25"/><circle cx="561.51" cy="386.04" r="1.25"/><circle cx="552.93" cy="347.76" r="1.25"/><circle cx="554.24" cy="385.58" r="1.25"/><circle cx="556.33" cy="385.62" r="1.25"/><circle cx="557.17" cy="382.52" r="1.25"/><circle cx="564.39" cy="384.31" r="1.25"/><circle cx="552.99" cy="320.01" r="1.25"/><circle cx="553.83" cy="380.21" r="1.25"/><circle cx="557.58" cy="386.05" r="1.25"/><circle cx="554.45" cy="379.58" r="1.25"/><circle cx="557.48" cy="376.48" r="1.25"/><circle cx="565.52" cy="378.75" r="1.25"/><circle cx="552.96" cy="362.36" r="1.25"/><circle cx="566.44" cy="385.98" r="1.25"/><circle cx="567.84" cy="348.88" r="1.25"/><circle cx="567.88" cy="375.63" r="1.25"/><circle cx="556.85" cy="385.3" r="1.25"/><circle cx="553.54" cy="372.42" r="1.25"/><circle cx="554.57" cy="379.18" r="1.25"/><circle cx="565.71" cy="381.37" r="1.25"/><circle cx="566.66" cy="356.01" r="1.25"/><circle cx="558.62" cy="386.01" r="1.25"/><circle cx="566.42" cy="385.26" r="1.25"/><circle cx="564.41" cy="384.97" r="1.25"/><circle cx="565.93" cy="361.78" r="1.25"/><circle cx="554.41" cy="352.82" r="1.25"/><circle cx="553.38" cy="371.03" r="1.25"/><circle cx="558.86" cy="383.85" r="1.25"/><circle cx="565.51" cy="367.38" r="1.25"/><circle cx="563.37" cy="382.2" r="1.25"/><circle cx="559.21" cy="386.27" r="1.25"/><circle cx="561.4" cy="386.13" r="1.25"/><circle cx="564.05" cy="384.46" r="1.25"/><circle cx="556.39" cy="377.57" r="1.25"/><circle cx="556.36" cy="385.97" r="1.25"/><circle cx="554.7" cy="385.79" r="1.25"/><circle cx="567.28" cy="338.37" r="1.25"/><circle cx="561.43" cy="386.21" r="1.25"/><circle cx="568.12" cy="340.7" r="1.25"/><circle cx="565.12" cy="379.05" r="1.25"/><circle cx="558.13" cy="385.1" r="1.25"/><circle cx="566.59" cy="386.22" r="1.25"/><circle cx="555.77" cy="376.28" r="1.25"/><circle cx="563.72" cy="384.29" r="1.25"/><circle cx="555.67" cy="383.31" r="1.25"/><circle cx="554.88" cy="373.77" r="1.25"/><circle cx="564.24" cy="376.91" r="1.25"/><circle cx="565.88" cy="374.52" r="1.25"/><circle cx="567.37" cy="343.9" r="1.25"/><circle cx="554.41" cy="383.59" r="1.25"/><circle cx="565.21" cy="383.8" r="1.25"/><circle cx="567.98" cy="382.37" r="1.25"/><circle cx="553.23" cy="384.75" r="1.25"/><circle cx="556.64" cy="385.2" r="1.25"/><circle cx="561.85" cy="386.06" r="1.25"/><circle cx="567.87" cy="343.61" r="1.25"/><circle cx="564.99" cy="383.01" r="1.25"/><circle cx="563.87" cy="385.49" r="1.25"/><circle cx="557.05" cy="386.01" r="1.25"/><circle cx="565.28" cy="378.84" r="1.25"/><circle cx="566.95" cy="383.55" r="1.25"/><circle cx="555.21" cy="384.76" r="1.25"/><circle cx="556.66" cy="380.55" r="1.25"/><circle cx="555.09" cy="377.92" r="1.25"/><circle cx="567.48" cy="346.57" r="1.25"/><circle cx="566.19" cy="383.29" r="1.25"/><circle cx="554.73" cy="383.49" r="1.25"/><circle cx="552.96" cy="375.13" r="1.25"/><circle cx="556.04" cy="385.2" r="1.25"/><circle cx="557.06" cy="378.43" r="1.25"/><circle cx="558.98" cy="385.45" r="1.25"/><circle cx="556.08" cy="378.55" r="1.25"/><circle cx="556.29" cy="380.37" r="1.25"/><circle cx="553.9" cy="383.08" r="1.25"/><circle cx="567.33" cy="369.28" r="1.25"/><circle cx="568.1" cy="334.98" r="1.25"/><circle cx="552.95" cy="331.51" r="1.25"/><circle cx="557.42" cy="386.27" r="1.25"/><circle cx="554.43" cy="379.19" r="1.25"/><circle cx="566.12" cy="383.74" r="1.25"/><circle cx="555.51" cy="380.8" r="1.25"/><circle cx="566.03" cy="382.46" r="1.25"/><circle cx="558.38" cy="385.33" r="1.25"/><circle cx="565.04" cy="379.47" r="1.25"/><circle cx="562.06" cy="385.97" r="1.25"/><circle cx="565.71" cy="385.25" r="1.25"/><circle cx="565.92" cy="361.78" r="1.25"/><circle cx="555.82" cy="381.25" r="1.25"/><circle cx="564.07" cy="385.02" r="1.25"/><circle cx="558.89" cy="383.62" r="1.25"/><circle cx="565.22" cy="384.46" r="1.25"/><circle cx="558.27" cy="384.23" r="1.25"/><circle cx="558.15" cy="385.86" r="1.25"/><circle cx="554.09" cy="356.18" r="1.25"/><circle cx="559.07" cy="385.04" r="1.25"/><circle cx="557.94" cy="384.46" r="1.25"/><circle cx="557.15" cy="378.3" r="1.25"/><circle cx="566.75" cy="382.5" r="1.25"/><circle cx="556.81" cy="373.89" r="1.25"/><circle cx="555.9" cy="373.27" r="1.25"/><circle cx="567.59" cy="381.57" r="1.25"/><circle cx="555.36" cy="380.37" r="1.25"/><circle cx="563.19" cy="384.07" r="1.25"/><circle cx="567.31" cy="371.92" r="1.25"/><circle cx="553.76" cy="353.08" r="1.25"/><circle cx="561.92" cy="385.97" r="1.25"/><circle cx="553.33" cy="382.46" r="1.25"/><circle cx="568.61" cy="342.93" r="1.25"/><circle cx="567.19" cy="384.74" r="1.25"/><circle cx="554.84" cy="370.1" r="1.25"/><circle cx="562.89" cy="384.72" r="1.25"/><circle cx="558.69" cy="386.27" r="1.25"/><circle cx="567.47" cy="376.7" r="1.25"/><circle cx="568.69" cy="354.82" r="1.25"/><circle cx="566.96" cy="386.27" r="1.25"/><circle cx="566.95" cy="384.48" r="1.25"/><circle cx="565.79" cy="382.69" r="1.25"/><circle cx="559.04" cy="384.65" r="1.25"/><circle cx="567.59" cy="373.66" r="1.25"/><circle cx="557.15" cy="385.39" r="1.25"/><circle cx="567.56" cy="378.37" r="1.25"/><circle cx="565.1" cy="386" r="1.25"/><circle cx="566.15" cy="375.76" r="1.25"/><circle cx="557.43" cy="386.26" r="1.25"/><circle cx="564.54" cy="385.54" r="1.25"/><circle cx="557.62" cy="380.47" r="1.25"/><circle cx="554.88" cy="363.56" r="1.25"/><circle cx="556.43" cy="383.91" r="1.25"/><circle cx="567.53" cy="371.06" r="1.25"/><circle cx="568.3" cy="360.59" r="1.25"/><circle cx="556.34" cy="385.78" r="1.25"/><circle cx="558.42" cy="385.48" r="1.25"/><circle cx="558.84" cy="385.39" r="1.25"/><circle cx="563.84" cy="378.86" r="1.25"/><circle cx="561.47" cy="386.2" r="1.25"/><circle cx="567.01" cy="352.09" r="1.25"/><circle cx="559.63" cy="385.8" r="1.25"/><circle cx="565.49" cy="383.62" r="1.25"/><circle cx="562.86" cy="384.78" r="1.25"/><circle cx="568.52" cy="386.01" r="1.25"/><circle cx="558.22" cy="386.21" r="1.25"/><circle cx="555.72" cy="368.99" r="1.25"/><circle cx="555.08" cy="385.86" r="1.25"/><circle cx="555.84" cy="361.81" r="1.25"/><circle cx="562.21" cy="385.56" r="1.25"/><circle cx="556.46" cy="375.83" r="1.25"/><circle cx="556.68" cy="381.95" r="1.25"/><circle cx="559.87" cy="386.21" r="1.25"/><circle cx="557.67" cy="383.91" r="1.25"/><circle cx="564.68" cy="379.39" r="1.25"/><circle cx="553.12" cy="367.37" r="1.25"/><circle cx="564.53" cy="386.19" r="1.25"/><circle cx="566.23" cy="372.95" r="1.25"/><circle cx="563.29" cy="386.19" r="1.25"/><circle cx="565.68" cy="384.11" r="1.25"/><circle cx="555.5" cy="381.88" r="1.25"/><circle cx="561.88" cy="385.83" r="1.25"/><circle cx="556.88" cy="377.68" r="1.25"/><circle cx="563.61" cy="385.77" r="1.25"/><circle cx="566.37" cy="370.85" r="1.25"/><circle cx="559.02" cy="384.74" r="1.25"/><circle cx="564.83" cy="381.54" r="1.25"/><circle cx="563.45" cy="385.1" r="1.25"/><circle cx="554.55" cy="348.19" r="1.25"/><circle cx="568.1" cy="343.53" r="1.25"/><circle cx="553" cy="384.17" r="1.25"/><circle cx="553.45" cy="384.8" r="1.25"/><circle cx="553.18" cy="378.54" r="1.25"/><circle cx="553.41" cy="371.6" r="1.25"/><circle cx="563.58" cy="381.31" r="1.25"/><circle cx="564.37" cy="383.43" r="1.25"/><circle cx="557.71" cy="386.27" r="1.25"/><circle cx="557.22" cy="384.04" r="1.25"/><circle cx="557.49" cy="386.15" r="1.25"/><circle cx="557.79" cy="385.72" r="1.25"/><circle cx="557.9" cy="379.96" r="1.25"/><circle cx="564.28" cy="385.54" r="1.25"/><circle cx="555.53" cy="380.51" r="1.25"/><circle cx="557.36" cy="378.06" r="1.25"/><circle cx="554.32" cy="352.31" r="1.25"/><circle cx="563.86" cy="385.78" r="1.25"/><circle cx="568.54" cy="325.14" r="1.25"/><circle cx="555.54" cy="385.65" r="1.25"/><circle cx="562.07" cy="385.31" r="1.25"/><circle cx="564.16" cy="376.57" r="1.25"/></g>
<g fill="#EE3D4E"><circle cx="570.88" cy="313.5" r="1.15"/><circle cx="574.43" cy="280.65" r="1.15"/><circle cx="571" cy="322.73" r="1.15"/><circle cx="570.53" cy="370.2" r="1.15"/><circle cx="569.69" cy="351.29" r="1.15"/><circle cx="569.45" cy="352.88" r="1.15"/><circle cx="570.8" cy="344.66" r="1.15"/><circle cx="570.59" cy="356.49" r="1.15"/><circle cx="573.4" cy="299.49" r="1.15"/><circle cx="569.56" cy="370.46" r="1.15"/><circle cx="571.46" cy="347.28" r="1.15"/><circle cx="573.33" cy="288.32" r="1.15"/><circle cx="570.83" cy="375.99" r="1.15"/><circle cx="570.83" cy="336.55" r="1.15"/><circle cx="571.86" cy="306.72" r="1.15"/><circle cx="569.28" cy="268.06" r="1.15"/><circle cx="572.86" cy="295.65" r="1.15"/><circle cx="572.41" cy="373.05" r="1.15"/><circle cx="573.69" cy="283.82" r="1.15"/><circle cx="570.38" cy="374.36" r="1.15"/><circle cx="570.04" cy="339.72" r="1.15"/><circle cx="570" cy="295.57" r="1.15"/><circle cx="572.85" cy="328.3" r="1.15"/><circle cx="569.23" cy="281.73" r="1.15"/><circle cx="570.07" cy="357.45" r="1.15"/><circle cx="569.76" cy="375.42" r="1.15"/><circle cx="579.47" cy="274.77" r="1.15"/><circle cx="572.93" cy="308.17" r="1.15"/><circle cx="569.34" cy="309.06" r="1.15"/><circle cx="576.9" cy="329.77" r="1.15"/><circle cx="570.87" cy="369.92" r="1.15"/><circle cx="569.52" cy="340.44" r="1.15"/><circle cx="572.78" cy="304.9" r="1.15"/><circle cx="569.7" cy="286.37" r="1.15"/><circle cx="569.55" cy="280.5" r="1.15"/><circle cx="570.94" cy="346.5" r="1.15"/><circle cx="572.93" cy="352.04" r="1.15"/><circle cx="569.69" cy="298.26" r="1.15"/><circle cx="569.48" cy="304.78" r="1.15"/><circle cx="570.11" cy="344.9" r="1.15"/><circle cx="571.69" cy="371.74" r="1.15"/><circle cx="569.86" cy="321.79" r="1.15"/><circle cx="573.08" cy="338.96" r="1.15"/><circle cx="573.63" cy="321.67" r="1.15"/><circle cx="571.3" cy="335.15" r="1.15"/><circle cx="571.11" cy="365.18" r="1.15"/><circle cx="569.66" cy="373.35" r="1.15"/><circle cx="571.2" cy="340.69" r="1.15"/><circle cx="569.6" cy="369.6" r="1.15"/><circle cx="570.79" cy="324.84" r="1.15"/><circle cx="570.72" cy="271.77" r="1.15"/><circle cx="569.21" cy="326.2" r="1.15"/><circle cx="570.08" cy="312.66" r="1.15"/><circle cx="578.9" cy="335.43" r="1.15"/><circle cx="573.32" cy="356.24" r="1.15"/><circle cx="570.39" cy="323.81" r="1.15"/><circle cx="574.01" cy="351.35" r="1.15"/><circle cx="569.31" cy="327.76" r="1.15"/><circle cx="571.17" cy="376.08" r="1.15"/><circle cx="576.62" cy="372.13" r="1.15"/></g>
<g fill="#4B62C0"><circle cx="551.13" cy="301.11" r="1.15"/><circle cx="550.68" cy="373.71" r="1.15"/><circle cx="552.39" cy="368.32" r="1.15"/><circle cx="551.23" cy="358.88" r="1.15"/><circle cx="550.46" cy="367.76" r="1.15"/><circle cx="550.12" cy="302.39" r="1.15"/><circle cx="548.99" cy="266.51" r="1.15"/><circle cx="551.1" cy="314.5" r="1.15"/><circle cx="551.14" cy="369.73" r="1.15"/><circle cx="552.2" cy="287.82" r="1.15"/><circle cx="550.19" cy="275.32" r="1.15"/><circle cx="550.89" cy="304.62" r="1.15"/><circle cx="552.13" cy="346.24" r="1.15"/><circle cx="552" cy="307.01" r="1.15"/><circle cx="550.47" cy="303.28" r="1.15"/><circle cx="550.57" cy="329.29" r="1.15"/><circle cx="552.37" cy="347.73" r="1.15"/><circle cx="549.43" cy="360.86" r="1.15"/><circle cx="552.38" cy="332.13" r="1.15"/><circle cx="552.38" cy="321.03" r="1.15"/><circle cx="548.31" cy="318.8" r="1.15"/><circle cx="551.73" cy="274.34" r="1.15"/><circle cx="550.86" cy="256.64" r="1.15"/><circle cx="549.79" cy="343.54" r="1.15"/><circle cx="551.76" cy="294.13" r="1.15"/><circle cx="550.13" cy="283.56" r="1.15"/><circle cx="551.54" cy="308.14" r="1.15"/><circle cx="551.32" cy="322.32" r="1.15"/><circle cx="550.26" cy="355.24" r="1.15"/><circle cx="551.48" cy="274.08" r="1.15"/><circle cx="552.32" cy="298.08" r="1.15"/><circle cx="551.09" cy="309.54" r="1.15"/><circle cx="551.81" cy="345.7" r="1.15"/><circle cx="549.88" cy="336.74" r="1.15"/><circle cx="550.79" cy="370.59" r="1.15"/><circle cx="550.22" cy="264.24" r="1.15"/></g>
<line x1="552.72" y1="393" x2="552.72" y2="245" stroke="#000" stroke-width="2.3" stroke-dasharray="2.8,8.9,11.2,8.9"/>
<line x1="568.88" y1="393" x2="568.88" y2="245" stroke="#000" stroke-width="2.3" stroke-dasharray="2.8,8.9,11.2,8.9"/>
<line x1="471.9" y1="377.53" x2="649.7" y2="377.53" stroke="#000" stroke-width="2.3" stroke-dasharray="2.8,8.9,11.2,8.9"/>
<text x="498.9" y="288.06" font-size="7.8" text-anchor="middle">Down: 51</text>
<text x="627.5" y="288.06" font-size="7.8" text-anchor="middle">Up: 100</text>
<text x="560.8" y="388.37" font-size="7.8" text-anchor="middle">Not significant: 3623</text>
<rect x="471.9" y="245" width="177.8" height="148" fill="none" stroke="#222" stroke-width="1.4"/>
<line x1="468.9" y1="386.27" x2="471.9" y2="386.27" stroke="#333" stroke-width="0.8"/>
<text x="468.1" y="389.97" font-size="10.5" text-anchor="end">0</text>
<line x1="468.9" y1="352.64" x2="471.9" y2="352.64" stroke="#333" stroke-width="0.8"/>
<text x="468.1" y="356.34" font-size="10.5" text-anchor="end">5</text>
<line x1="468.9" y1="319" x2="471.9" y2="319" stroke="#333" stroke-width="0.8"/>
<text x="468.1" y="322.7" font-size="10.5" text-anchor="end">10</text>
<line x1="468.9" y1="285.36" x2="471.9" y2="285.36" stroke="#333" stroke-width="0.8"/>
<text x="468.1" y="289.06" font-size="10.5" text-anchor="end">15</text>
<line x1="468.9" y1="251.73" x2="471.9" y2="251.73" stroke="#333" stroke-width="0.8"/>
<text x="468.1" y="255.43" font-size="10.5" text-anchor="end">20</text>
<line x1="479.98" y1="393" x2="479.98" y2="395.5" stroke="#333" stroke-width="0.8"/>
<text x="479.98" y="405.4" font-size="10.5" text-anchor="middle">&#8722;10</text>
<line x1="520.39" y1="393" x2="520.39" y2="395.5" stroke="#333" stroke-width="0.8"/>
<text x="520.39" y="405.4" font-size="10.5" text-anchor="middle">&#8722;5</text>
<line x1="560.8" y1="393" x2="560.8" y2="395.5" stroke="#333" stroke-width="0.8"/>
<text x="560.8" y="405.4" font-size="10.5" text-anchor="middle">0</text>
<line x1="601.21" y1="393" x2="601.21" y2="395.5" stroke="#333" stroke-width="0.8"/>
<text x="601.21" y="405.4" font-size="10.5" text-anchor="middle">5</text>
<line x1="641.62" y1="393" x2="641.62" y2="395.5" stroke="#333" stroke-width="0.8"/>
<text x="641.62" y="405.4" font-size="10.5" text-anchor="middle">10</text>
<path d="M46.4,408 L46.4,243" stroke="#000" stroke-width="2" fill="none"/>
<path d="M42.2,244.2 L46.4,236 L50.6,244.2 Z" fill="#000"/>
<path d="M45.4,408 L648,408" stroke="#000" stroke-width="2" fill="none"/>
<path d="M647,403.8 L655.8,408 L647,412.2 Z" fill="#000"/>
<text x="349.2" y="424.4" font-size="10.5" font-weight="bold" text-anchor="middle">Log<tspan font-size="7" dy="2.5">2</tspan><tspan dy="-2.5">(fold of change)</tspan></text>
<text transform="translate(34.1,324.4) rotate(-90)" font-size="10.5" font-weight="bold" text-anchor="middle">-Log<tspan font-size="7" dy="2.5">10</tspan><tspan dy="-2.5">(P, adj)</tspan></text>
<text x="7.8" y="439.9" font-size="12.5" font-weight="bold" stroke="#000" stroke-width="0.35">E</text>
<path d="M35,443.9 L463,443.9" stroke="#000" stroke-width="2" fill="none"/>
<path d="M462,439.7 L470.9,443.9 L462,448.1 Z" fill="#000"/>
<text x="265.2" y="440.6" font-size="10.5" text-anchor="middle" font-weight="bold">Number of genes</text>
<line x1="47.4" y1="463.4" x2="47.4" y2="675.99" stroke="#ececec" stroke-width="0.8"/>
<line x1="55.07" y1="463.4" x2="55.07" y2="675.99" stroke="#ececec" stroke-width="0.8"/>
<line x1="62.73" y1="463.4" x2="62.73" y2="675.99" stroke="#ececec" stroke-width="0.8"/>
<line x1="70.4" y1="463.4" x2="70.4" y2="675.99" stroke="#ececec" stroke-width="0.8"/>
<line x1="78.07" y1="463.4" x2="78.07" y2="675.99" stroke="#ececec" stroke-width="0.8"/>
<line x1="85.74" y1="463.4" x2="85.74" y2="675.99" stroke="#ececec" stroke-width="0.8"/>
<line x1="93.4" y1="463.4" x2="93.4" y2="675.99" stroke="#ececec" stroke-width="0.8"/>
<line x1="101.07" y1="463.4" x2="101.07" y2="675.99" stroke="#ececec" stroke-width="0.8"/>
<line x1="108.74" y1="463.4" x2="108.74" y2="675.99" stroke="#ececec" stroke-width="0.8"/>
<line x1="116.41" y1="463.4" x2="116.41" y2="675.99" stroke="#ececec" stroke-width="0.8"/>
<line x1="124.07" y1="463.4" x2="124.07" y2="675.99" stroke="#ececec" stroke-width="0.8"/>
<line x1="131.74" y1="463.4" x2="131.74" y2="675.99" stroke="#ececec" stroke-width="0.8"/>
<line x1="139.41" y1="463.4" x2="139.41" y2="675.99" stroke="#ececec" stroke-width="0.8"/>
<line x1="147.08" y1="463.4" x2="147.08" y2="675.99" stroke="#ececec" stroke-width="0.8"/>
<line x1="154.74" y1="463.4" x2="154.74" y2="675.99" stroke="#ececec" stroke-width="0.8"/>
<line x1="162.41" y1="463.4" x2="162.41" y2="675.99" stroke="#ececec" stroke-width="0.8"/>
<line x1="47.4" y1="470.82" x2="164.25" y2="470.82" stroke="#ececec" stroke-width="0.8"/>
<line x1="47.4" y1="477" x2="164.25" y2="477" stroke="#ececec" stroke-width="0.8"/>
<line x1="47.4" y1="483.18" x2="164.25" y2="483.18" stroke="#ececec" stroke-width="0.8"/>
<line x1="47.4" y1="489.36" x2="164.25" y2="489.36" stroke="#ececec" stroke-width="0.8"/>
<line x1="47.4" y1="495.54" x2="164.25" y2="495.54" stroke="#ececec" stroke-width="0.8"/>
<line x1="47.4" y1="501.72" x2="164.25" y2="501.72" stroke="#ececec" stroke-width="0.8"/>
<line x1="47.4" y1="507.9" x2="164.25" y2="507.9" stroke="#ececec" stroke-width="0.8"/>
<line x1="47.4" y1="514.08" x2="164.25" y2="514.08" stroke="#ececec" stroke-width="0.8"/>
<line x1="47.4" y1="520.26" x2="164.25" y2="520.26" stroke="#ececec" stroke-width="0.8"/>
<line x1="47.4" y1="526.44" x2="164.25" y2="526.44" stroke="#ececec" stroke-width="0.8"/>
<line x1="47.4" y1="532.62" x2="164.25" y2="532.62" stroke="#ececec" stroke-width="0.8"/>
<line x1="47.4" y1="538.8" x2="164.25" y2="538.8" stroke="#ececec" stroke-width="0.8"/>
<line x1="47.4" y1="544.98" x2="164.25" y2="544.98" stroke="#ececec" stroke-width="0.8"/>
<line x1="47.4" y1="551.16" x2="164.25" y2="551.16" stroke="#ececec" stroke-width="0.8"/>
<line x1="47.4" y1="557.34" x2="164.25" y2="557.34" stroke="#ececec" stroke-width="0.8"/>
<line x1="47.4" y1="563.52" x2="164.25" y2="563.52" stroke="#ececec" stroke-width="0.8"/>
<line x1="47.4" y1="569.7" x2="164.25" y2="569.7" stroke="#ececec" stroke-width="0.8"/>
<line x1="47.4" y1="575.88" x2="164.25" y2="575.88" stroke="#ececec" stroke-width="0.8"/>
<line x1="47.4" y1="582.06" x2="164.25" y2="582.06" stroke="#ececec" stroke-width="0.8"/>
<line x1="47.4" y1="588.24" x2="164.25" y2="588.24" stroke="#ececec" stroke-width="0.8"/>
<line x1="47.4" y1="594.42" x2="164.25" y2="594.42" stroke="#ececec" stroke-width="0.8"/>
<line x1="47.4" y1="600.6" x2="164.25" y2="600.6" stroke="#ececec" stroke-width="0.8"/>
<line x1="47.4" y1="606.78" x2="164.25" y2="606.78" stroke="#ececec" stroke-width="0.8"/>
<line x1="47.4" y1="612.96" x2="164.25" y2="612.96" stroke="#ececec" stroke-width="0.8"/>
<line x1="47.4" y1="619.14" x2="164.25" y2="619.14" stroke="#ececec" stroke-width="0.8"/>
<line x1="47.4" y1="625.32" x2="164.25" y2="625.32" stroke="#ececec" stroke-width="0.8"/>
<line x1="47.4" y1="631.5" x2="164.25" y2="631.5" stroke="#ececec" stroke-width="0.8"/>
<line x1="47.4" y1="637.68" x2="164.25" y2="637.68" stroke="#ececec" stroke-width="0.8"/>
<line x1="47.4" y1="643.86" x2="164.25" y2="643.86" stroke="#ececec" stroke-width="0.8"/>
<line x1="47.4" y1="650.04" x2="164.25" y2="650.04" stroke="#ececec" stroke-width="0.8"/>
<line x1="47.4" y1="656.22" x2="164.25" y2="656.22" stroke="#ececec" stroke-width="0.8"/>
<line x1="47.4" y1="662.4" x2="164.25" y2="662.4" stroke="#ececec" stroke-width="0.8"/>
<line x1="47.4" y1="668.58" x2="164.25" y2="668.58" stroke="#ececec" stroke-width="0.8"/>
<line x1="47.4" y1="464.64" x2="164.25" y2="464.64" stroke="#ececec" stroke-width="0.8"/>
<line x1="47.4" y1="674.76" x2="164.25" y2="674.76" stroke="#ececec" stroke-width="0.8"/>
<rect x="61.2" y="465.32" width="9.2" height="11" fill="#73B1D7"/>
<rect x="70.4" y="465.32" width="9.2" height="11" fill="#E6952A"/>
<text x="44.2" y="474.42" font-size="10" text-anchor="end">J</text>
<rect x="61.2" y="477.68" width="9.2" height="11" fill="#73B1D7"/>
<rect x="70.4" y="477.68" width="3.07" height="11" fill="#E6952A"/>
<text x="44.2" y="486.78" font-size="10" text-anchor="end">K</text>
<rect x="67.33" y="490.04" width="3.07" height="11" fill="#73B1D7"/>
<text x="44.2" y="499.14" font-size="10" text-anchor="end">D</text>
<rect x="70.4" y="502.4" width="3.07" height="11" fill="#E6952A"/>
<text x="44.2" y="511.5" font-size="10" text-anchor="end">V</text>
<rect x="70.4" y="514.76" width="6.13" height="11" fill="#E6952A"/>
<text x="44.2" y="523.86" font-size="10" text-anchor="end">T</text>
<rect x="64.27" y="527.12" width="6.13" height="11" fill="#73B1D7"/>
<rect x="70.4" y="527.12" width="21.47" height="11" fill="#E6952A"/>
<text x="44.2" y="536.22" font-size="10" text-anchor="end">M</text>
<rect x="70.4" y="539.48" width="12.27" height="11" fill="#E6952A"/>
<text x="44.2" y="548.58" font-size="10" text-anchor="end">U</text>
<rect x="70.4" y="551.84" width="6.13" height="11" fill="#E6952A"/>
<text x="44.2" y="560.94" font-size="10" text-anchor="end">O</text>
<rect x="61.2" y="564.2" width="9.2" height="11" fill="#73B1D7"/>
<rect x="70.4" y="564.2" width="49.07" height="11" fill="#E6952A"/>
<text x="44.2" y="573.3" font-size="10" text-anchor="end">C</text>
<rect x="67.33" y="576.56" width="3.07" height="11" fill="#73B1D7"/>
<rect x="70.4" y="576.56" width="46" height="11" fill="#E6952A"/>
<text x="44.2" y="585.66" font-size="10" text-anchor="end">G</text>
<rect x="52" y="588.92" width="18.4" height="11" fill="#73B1D7"/>
<rect x="70.4" y="588.92" width="73.61" height="11" fill="#E6952A"/>
<text x="44.2" y="598.02" font-size="10" text-anchor="end">E</text>
<rect x="67.33" y="601.28" width="3.07" height="11" fill="#73B1D7"/>
<rect x="70.4" y="601.28" width="15.34" height="11" fill="#E6952A"/>
<text x="44.2" y="610.38" font-size="10" text-anchor="end">H</text>
<rect x="67.33" y="613.64" width="3.07" height="11" fill="#73B1D7"/>
<rect x="70.4" y="613.64" width="70.54" height="11" fill="#E6952A"/>
<text x="44.2" y="622.74" font-size="10" text-anchor="end">I</text>
<rect x="55.07" y="626" width="15.34" height="11" fill="#73B1D7"/>
<rect x="70.4" y="626" width="76.68" height="11" fill="#E6952A"/>
<text x="44.2" y="635.1" font-size="10" text-anchor="end">P</text>
<rect x="70.4" y="638.36" width="46" height="11" fill="#E6952A"/>
<text x="44.2" y="647.46" font-size="10" text-anchor="end">Q</text>
<rect x="52" y="650.72" width="18.4" height="11" fill="#73B1D7"/>
<rect x="70.4" y="650.72" width="73.61" height="11" fill="#E6952A"/>
<text x="44.2" y="659.82" font-size="10" text-anchor="end">S</text>
<rect x="58.13" y="663.08" width="12.27" height="11" fill="#73B1D7"/>
<rect x="70.4" y="663.08" width="88.94" height="11" fill="#E6952A"/>
<text x="44.2" y="672.18" font-size="10" text-anchor="end">NA</text>
<line x1="70.4" y1="463.4" x2="70.4" y2="675.99" stroke="#111" stroke-width="1.3"/>
<line x1="47.4" y1="463.4" x2="164.25" y2="463.4" stroke="#111" stroke-width="1.3"/>
<line x1="55.07" y1="461.1" x2="55.07" y2="463.4" stroke="#333" stroke-width="0.8"/>
<line x1="70.4" y1="461.1" x2="70.4" y2="463.4" stroke="#333" stroke-width="0.8"/>
<line x1="85.74" y1="461.1" x2="85.74" y2="463.4" stroke="#333" stroke-width="0.8"/>
<line x1="101.07" y1="461.1" x2="101.07" y2="463.4" stroke="#333" stroke-width="0.8"/>
<line x1="116.41" y1="461.1" x2="116.41" y2="463.4" stroke="#333" stroke-width="0.8"/>
<line x1="131.74" y1="461.1" x2="131.74" y2="463.4" stroke="#333" stroke-width="0.8"/>
<line x1="147.08" y1="461.1" x2="147.08" y2="463.4" stroke="#333" stroke-width="0.8"/>
<line x1="162.41" y1="461.1" x2="162.41" y2="463.4" stroke="#333" stroke-width="0.8"/>
<text x="70.4" y="459.8" font-size="10.5" text-anchor="middle">0</text>
<text x="101.07" y="459.8" font-size="10.5" text-anchor="middle">10</text>
<text x="131.74" y="459.8" font-size="10.5" text-anchor="middle">20</text>
<text x="162.41" y="459.8" font-size="10.5" text-anchor="middle">30</text>
<text x="101.6" y="704.4" font-size="10.5" text-anchor="middle" font-weight="bold">WT + HNP1 vs WT</text>
<line x1="195.68" y1="463.4" x2="195.68" y2="675.99" stroke="#ececec" stroke-width="0.8"/>
<line x1="203.05" y1="463.4" x2="203.05" y2="675.99" stroke="#ececec" stroke-width="0.8"/>
<line x1="210.43" y1="463.4" x2="210.43" y2="675.99" stroke="#ececec" stroke-width="0.8"/>
<line x1="217.8" y1="463.4" x2="217.8" y2="675.99" stroke="#ececec" stroke-width="0.8"/>
<line x1="225.18" y1="463.4" x2="225.18" y2="675.99" stroke="#ececec" stroke-width="0.8"/>
<line x1="232.55" y1="463.4" x2="232.55" y2="675.99" stroke="#ececec" stroke-width="0.8"/>
<line x1="239.93" y1="463.4" x2="239.93" y2="675.99" stroke="#ececec" stroke-width="0.8"/>
<line x1="247.3" y1="463.4" x2="247.3" y2="675.99" stroke="#ececec" stroke-width="0.8"/>
<line x1="254.68" y1="463.4" x2="254.68" y2="675.99" stroke="#ececec" stroke-width="0.8"/>
<line x1="262.05" y1="463.4" x2="262.05" y2="675.99" stroke="#ececec" stroke-width="0.8"/>
<line x1="269.43" y1="463.4" x2="269.43" y2="675.99" stroke="#ececec" stroke-width="0.8"/>
<line x1="276.8" y1="463.4" x2="276.8" y2="675.99" stroke="#ececec" stroke-width="0.8"/>
<line x1="284.18" y1="463.4" x2="284.18" y2="675.99" stroke="#ececec" stroke-width="0.8"/>
<line x1="291.55" y1="463.4" x2="291.55" y2="675.99" stroke="#ececec" stroke-width="0.8"/>
<line x1="298.93" y1="463.4" x2="298.93" y2="675.99" stroke="#ececec" stroke-width="0.8"/>
<line x1="306.3" y1="463.4" x2="306.3" y2="675.99" stroke="#ececec" stroke-width="0.8"/>
<line x1="313.68" y1="463.4" x2="313.68" y2="675.99" stroke="#ececec" stroke-width="0.8"/>
<line x1="195.09" y1="470.82" x2="317.22" y2="470.82" stroke="#ececec" stroke-width="0.8"/>
<line x1="195.09" y1="477" x2="317.22" y2="477" stroke="#ececec" stroke-width="0.8"/>
<line x1="195.09" y1="483.18" x2="317.22" y2="483.18" stroke="#ececec" stroke-width="0.8"/>
<line x1="195.09" y1="489.36" x2="317.22" y2="489.36" stroke="#ececec" stroke-width="0.8"/>
<line x1="195.09" y1="495.54" x2="317.22" y2="495.54" stroke="#ececec" stroke-width="0.8"/>
<line x1="195.09" y1="501.72" x2="317.22" y2="501.72" stroke="#ececec" stroke-width="0.8"/>
<line x1="195.09" y1="507.9" x2="317.22" y2="507.9" stroke="#ececec" stroke-width="0.8"/>
<line x1="195.09" y1="514.08" x2="317.22" y2="514.08" stroke="#ececec" stroke-width="0.8"/>
<line x1="195.09" y1="520.26" x2="317.22" y2="520.26" stroke="#ececec" stroke-width="0.8"/>
<line x1="195.09" y1="526.44" x2="317.22" y2="526.44" stroke="#ececec" stroke-width="0.8"/>
<line x1="195.09" y1="532.62" x2="317.22" y2="532.62" stroke="#ececec" stroke-width="0.8"/>
<line x1="195.09" y1="538.8" x2="317.22" y2="538.8" stroke="#ececec" stroke-width="0.8"/>
<line x1="195.09" y1="544.98" x2="317.22" y2="544.98" stroke="#ececec" stroke-width="0.8"/>
<line x1="195.09" y1="551.16" x2="317.22" y2="551.16" stroke="#ececec" stroke-width="0.8"/>
<line x1="195.09" y1="557.34" x2="317.22" y2="557.34" stroke="#ececec" stroke-width="0.8"/>
<line x1="195.09" y1="563.52" x2="317.22" y2="563.52" stroke="#ececec" stroke-width="0.8"/>
<line x1="195.09" y1="569.7" x2="317.22" y2="569.7" stroke="#ececec" stroke-width="0.8"/>
<line x1="195.09" y1="575.88" x2="317.22" y2="575.88" stroke="#ececec" stroke-width="0.8"/>
<line x1="195.09" y1="582.06" x2="317.22" y2="582.06" stroke="#ececec" stroke-width="0.8"/>
<line x1="195.09" y1="588.24" x2="317.22" y2="588.24" stroke="#ececec" stroke-width="0.8"/>
<line x1="195.09" y1="594.42" x2="317.22" y2="594.42" stroke="#ececec" stroke-width="0.8"/>
<line x1="195.09" y1="600.6" x2="317.22" y2="600.6" stroke="#ececec" stroke-width="0.8"/>
<line x1="195.09" y1="606.78" x2="317.22" y2="606.78" stroke="#ececec" stroke-width="0.8"/>
<line x1="195.09" y1="612.96" x2="317.22" y2="612.96" stroke="#ececec" stroke-width="0.8"/>
<line x1="195.09" y1="619.14" x2="317.22" y2="619.14" stroke="#ececec" stroke-width="0.8"/>
<line x1="195.09" y1="625.32" x2="317.22" y2="625.32" stroke="#ececec" stroke-width="0.8"/>
<line x1="195.09" y1="631.5" x2="317.22" y2="631.5" stroke="#ececec" stroke-width="0.8"/>
<line x1="195.09" y1="637.68" x2="317.22" y2="637.68" stroke="#ececec" stroke-width="0.8"/>
<line x1="195.09" y1="643.86" x2="317.22" y2="643.86" stroke="#ececec" stroke-width="0.8"/>
<line x1="195.09" y1="650.04" x2="317.22" y2="650.04" stroke="#ececec" stroke-width="0.8"/>
<line x1="195.09" y1="656.22" x2="317.22" y2="656.22" stroke="#ececec" stroke-width="0.8"/>
<line x1="195.09" y1="662.4" x2="317.22" y2="662.4" stroke="#ececec" stroke-width="0.8"/>
<line x1="195.09" y1="668.58" x2="317.22" y2="668.58" stroke="#ececec" stroke-width="0.8"/>
<line x1="195.09" y1="464.64" x2="317.22" y2="464.64" stroke="#ececec" stroke-width="0.8"/>
<line x1="195.09" y1="674.76" x2="317.22" y2="674.76" stroke="#ececec" stroke-width="0.8"/>
<rect x="256.15" y="465.32" width="5.9" height="11" fill="#73B1D7"/>
<rect x="262.05" y="465.32" width="8.85" height="11" fill="#E6952A"/>
<text x="191.89" y="474.42" font-size="10" text-anchor="end">J</text>
<rect x="244.35" y="477.68" width="17.7" height="11" fill="#73B1D7"/>
<rect x="262.05" y="477.68" width="8.85" height="11" fill="#E6952A"/>
<text x="191.89" y="486.78" font-size="10" text-anchor="end">K</text>
<rect x="256.15" y="490.04" width="5.9" height="11" fill="#73B1D7"/>
<text x="191.89" y="499.14" font-size="10" text-anchor="end">L</text>
<rect x="259.1" y="502.4" width="2.95" height="11" fill="#73B1D7"/>
<text x="191.89" y="511.5" font-size="10" text-anchor="end">D</text>
<rect x="262.05" y="514.76" width="5.9" height="11" fill="#E6952A"/>
<text x="191.89" y="523.86" font-size="10" text-anchor="end">V</text>
<rect x="244.35" y="527.12" width="17.7" height="11" fill="#73B1D7"/>
<rect x="262.05" y="527.12" width="17.7" height="11" fill="#E6952A"/>
<text x="191.89" y="536.22" font-size="10" text-anchor="end">M</text>
<rect x="262.05" y="539.48" width="5.9" height="11" fill="#E6952A"/>
<text x="191.89" y="548.58" font-size="10" text-anchor="end">U</text>
<rect x="262.05" y="551.84" width="8.85" height="11" fill="#E6952A"/>
<text x="191.89" y="560.94" font-size="10" text-anchor="end">O</text>
<rect x="238.45" y="564.2" width="23.6" height="11" fill="#73B1D7"/>
<rect x="262.05" y="564.2" width="32.45" height="11" fill="#E6952A"/>
<text x="191.89" y="573.3" font-size="10" text-anchor="end">C</text>
<rect x="244.35" y="576.56" width="17.7" height="11" fill="#73B1D7"/>
<rect x="262.05" y="576.56" width="20.65" height="11" fill="#E6952A"/>
<text x="191.89" y="585.66" font-size="10" text-anchor="end">G</text>
<rect x="241.4" y="588.92" width="20.65" height="11" fill="#73B1D7"/>
<rect x="262.05" y="588.92" width="50.15" height="11" fill="#E6952A"/>
<text x="191.89" y="598.02" font-size="10" text-anchor="end">E</text>
<rect x="256.15" y="601.28" width="5.9" height="11" fill="#73B1D7"/>
<rect x="262.05" y="601.28" width="5.9" height="11" fill="#E6952A"/>
<text x="191.89" y="610.38" font-size="10" text-anchor="end">H</text>
<rect x="238.45" y="613.64" width="23.6" height="11" fill="#73B1D7"/>
<rect x="262.05" y="613.64" width="26.55" height="11" fill="#E6952A"/>
<text x="191.89" y="622.74" font-size="10" text-anchor="end">I</text>
<rect x="244.35" y="626" width="17.7" height="11" fill="#73B1D7"/>
<rect x="262.05" y="626" width="50.15" height="11" fill="#E6952A"/>
<text x="191.89" y="635.1" font-size="10" text-anchor="end">P</text>
<rect x="253.2" y="638.36" width="8.85" height="11" fill="#73B1D7"/>
<rect x="262.05" y="638.36" width="17.7" height="11" fill="#E6952A"/>
<text x="191.89" y="647.46" font-size="10" text-anchor="end">Q</text>
<rect x="200.1" y="650.72" width="61.95" height="11" fill="#73B1D7"/>
<rect x="262.05" y="650.72" width="41.3" height="11" fill="#E6952A"/>
<text x="191.89" y="659.82" font-size="10" text-anchor="end">S</text>
<rect x="206" y="663.08" width="56.05" height="11" fill="#73B1D7"/>
<rect x="262.05" y="663.08" width="29.5" height="11" fill="#E6952A"/>
<text x="191.89" y="672.18" font-size="10" text-anchor="end">NA</text>
<line x1="262.05" y1="463.4" x2="262.05" y2="675.99" stroke="#111" stroke-width="1.3"/>
<line x1="195.09" y1="463.4" x2="317.22" y2="463.4" stroke="#111" stroke-width="1.3"/>
<line x1="203.05" y1="461.1" x2="203.05" y2="463.4" stroke="#333" stroke-width="0.8"/>
<line x1="217.8" y1="461.1" x2="217.8" y2="463.4" stroke="#333" stroke-width="0.8"/>
<line x1="232.55" y1="461.1" x2="232.55" y2="463.4" stroke="#333" stroke-width="0.8"/>
<line x1="247.3" y1="461.1" x2="247.3" y2="463.4" stroke="#333" stroke-width="0.8"/>
<line x1="262.05" y1="461.1" x2="262.05" y2="463.4" stroke="#333" stroke-width="0.8"/>
<line x1="276.8" y1="461.1" x2="276.8" y2="463.4" stroke="#333" stroke-width="0.8"/>
<line x1="291.55" y1="461.1" x2="291.55" y2="463.4" stroke="#333" stroke-width="0.8"/>
<line x1="306.3" y1="461.1" x2="306.3" y2="463.4" stroke="#333" stroke-width="0.8"/>
<text x="203.05" y="459.8" font-size="10.5" text-anchor="middle">&#8722;20</text>
<text x="232.55" y="459.8" font-size="10.5" text-anchor="middle">&#8722;10</text>
<text x="262.05" y="459.8" font-size="10.5" text-anchor="middle">0</text>
<text x="291.55" y="459.8" font-size="10.5" text-anchor="middle">10</text>
<text x="254" y="704.4" font-size="10.5" text-anchor="middle" font-weight="bold">&#916;OmpA vs WT</text>
<line x1="351.73" y1="463.4" x2="351.73" y2="688.35" stroke="#ececec" stroke-width="0.8"/>
<line x1="361.35" y1="463.4" x2="361.35" y2="688.35" stroke="#ececec" stroke-width="0.8"/>
<line x1="370.98" y1="463.4" x2="370.98" y2="688.35" stroke="#ececec" stroke-width="0.8"/>
<line x1="380.6" y1="463.4" x2="380.6" y2="688.35" stroke="#ececec" stroke-width="0.8"/>
<line x1="390.23" y1="463.4" x2="390.23" y2="688.35" stroke="#ececec" stroke-width="0.8"/>
<line x1="399.85" y1="463.4" x2="399.85" y2="688.35" stroke="#ececec" stroke-width="0.8"/>
<line x1="409.48" y1="463.4" x2="409.48" y2="688.35" stroke="#ececec" stroke-width="0.8"/>
<line x1="419.1" y1="463.4" x2="419.1" y2="688.35" stroke="#ececec" stroke-width="0.8"/>
<line x1="428.73" y1="463.4" x2="428.73" y2="688.35" stroke="#ececec" stroke-width="0.8"/>
<line x1="438.35" y1="463.4" x2="438.35" y2="688.35" stroke="#ececec" stroke-width="0.8"/>
<line x1="447.98" y1="463.4" x2="447.98" y2="688.35" stroke="#ececec" stroke-width="0.8"/>
<line x1="457.6" y1="463.4" x2="457.6" y2="688.35" stroke="#ececec" stroke-width="0.8"/>
<line x1="344.41" y1="470.82" x2="466.46" y2="470.82" stroke="#ececec" stroke-width="0.8"/>
<line x1="344.41" y1="477" x2="466.46" y2="477" stroke="#ececec" stroke-width="0.8"/>
<line x1="344.41" y1="483.18" x2="466.46" y2="483.18" stroke="#ececec" stroke-width="0.8"/>
<line x1="344.41" y1="489.36" x2="466.46" y2="489.36" stroke="#ececec" stroke-width="0.8"/>
<line x1="344.41" y1="495.54" x2="466.46" y2="495.54" stroke="#ececec" stroke-width="0.8"/>
<line x1="344.41" y1="501.72" x2="466.46" y2="501.72" stroke="#ececec" stroke-width="0.8"/>
<line x1="344.41" y1="507.9" x2="466.46" y2="507.9" stroke="#ececec" stroke-width="0.8"/>
<line x1="344.41" y1="514.08" x2="466.46" y2="514.08" stroke="#ececec" stroke-width="0.8"/>
<line x1="344.41" y1="520.26" x2="466.46" y2="520.26" stroke="#ececec" stroke-width="0.8"/>
<line x1="344.41" y1="526.44" x2="466.46" y2="526.44" stroke="#ececec" stroke-width="0.8"/>
<line x1="344.41" y1="532.62" x2="466.46" y2="532.62" stroke="#ececec" stroke-width="0.8"/>
<line x1="344.41" y1="538.8" x2="466.46" y2="538.8" stroke="#ececec" stroke-width="0.8"/>
<line x1="344.41" y1="544.98" x2="466.46" y2="544.98" stroke="#ececec" stroke-width="0.8"/>
<line x1="344.41" y1="551.16" x2="466.46" y2="551.16" stroke="#ececec" stroke-width="0.8"/>
<line x1="344.41" y1="557.34" x2="466.46" y2="557.34" stroke="#ececec" stroke-width="0.8"/>
<line x1="344.41" y1="563.52" x2="466.46" y2="563.52" stroke="#ececec" stroke-width="0.8"/>
<line x1="344.41" y1="569.7" x2="466.46" y2="569.7" stroke="#ececec" stroke-width="0.8"/>
<line x1="344.41" y1="575.88" x2="466.46" y2="575.88" stroke="#ececec" stroke-width="0.8"/>
<line x1="344.41" y1="582.06" x2="466.46" y2="582.06" stroke="#ececec" stroke-width="0.8"/>
<line x1="344.41" y1="588.24" x2="466.46" y2="588.24" stroke="#ececec" stroke-width="0.8"/>
<line x1="344.41" y1="594.42" x2="466.46" y2="594.42" stroke="#ececec" stroke-width="0.8"/>
<line x1="344.41" y1="600.6" x2="466.46" y2="600.6" stroke="#ececec" stroke-width="0.8"/>
<line x1="344.41" y1="606.78" x2="466.46" y2="606.78" stroke="#ececec" stroke-width="0.8"/>
<line x1="344.41" y1="612.96" x2="466.46" y2="612.96" stroke="#ececec" stroke-width="0.8"/>
<line x1="344.41" y1="619.14" x2="466.46" y2="619.14" stroke="#ececec" stroke-width="0.8"/>
<line x1="344.41" y1="625.32" x2="466.46" y2="625.32" stroke="#ececec" stroke-width="0.8"/>
<line x1="344.41" y1="631.5" x2="466.46" y2="631.5" stroke="#ececec" stroke-width="0.8"/>
<line x1="344.41" y1="637.68" x2="466.46" y2="637.68" stroke="#ececec" stroke-width="0.8"/>
<line x1="344.41" y1="643.86" x2="466.46" y2="643.86" stroke="#ececec" stroke-width="0.8"/>
<line x1="344.41" y1="650.04" x2="466.46" y2="650.04" stroke="#ececec" stroke-width="0.8"/>
<line x1="344.41" y1="656.22" x2="466.46" y2="656.22" stroke="#ececec" stroke-width="0.8"/>
<line x1="344.41" y1="662.4" x2="466.46" y2="662.4" stroke="#ececec" stroke-width="0.8"/>
<line x1="344.41" y1="668.58" x2="466.46" y2="668.58" stroke="#ececec" stroke-width="0.8"/>
<line x1="344.41" y1="674.76" x2="466.46" y2="674.76" stroke="#ececec" stroke-width="0.8"/>
<line x1="344.41" y1="680.94" x2="466.46" y2="680.94" stroke="#ececec" stroke-width="0.8"/>
<line x1="344.41" y1="464.64" x2="466.46" y2="464.64" stroke="#ececec" stroke-width="0.8"/>
<line x1="344.41" y1="687.12" x2="466.46" y2="687.12" stroke="#ececec" stroke-width="0.8"/>
<rect x="369.05" y="465.32" width="11.55" height="11" fill="#73B1D7"/>
<text x="341.21" y="474.42" font-size="10" text-anchor="end">J</text>
<rect x="376.75" y="477.68" width="3.85" height="11" fill="#73B1D7"/>
<rect x="380.6" y="477.68" width="15.4" height="11" fill="#E6952A"/>
<text x="341.21" y="486.78" font-size="10" text-anchor="end">K</text>
<rect x="380.6" y="490.04" width="11.55" height="11" fill="#E6952A"/>
<text x="341.21" y="499.14" font-size="10" text-anchor="end">L</text>
<rect x="376.75" y="502.4" width="3.85" height="11" fill="#73B1D7"/>
<text x="341.21" y="511.5" font-size="10" text-anchor="end">V</text>
<rect x="380.6" y="514.76" width="3.85" height="11" fill="#E6952A"/>
<text x="341.21" y="523.86" font-size="10" text-anchor="end">T</text>
<rect x="372.9" y="527.12" width="7.7" height="11" fill="#73B1D7"/>
<rect x="380.6" y="527.12" width="11.55" height="11" fill="#E6952A"/>
<text x="341.21" y="536.22" font-size="10" text-anchor="end">M</text>
<rect x="380.6" y="539.48" width="3.85" height="11" fill="#E6952A"/>
<text x="341.21" y="548.58" font-size="10" text-anchor="end">W</text>
<rect x="365.2" y="551.84" width="15.4" height="11" fill="#73B1D7"/>
<rect x="380.6" y="551.84" width="11.55" height="11" fill="#E6952A"/>
<text x="341.21" y="560.94" font-size="10" text-anchor="end">U</text>
<rect x="380.6" y="564.2" width="7.7" height="11" fill="#E6952A"/>
<text x="341.21" y="573.3" font-size="10" text-anchor="end">O</text>
<rect x="372.9" y="576.56" width="7.7" height="11" fill="#73B1D7"/>
<rect x="380.6" y="576.56" width="7.7" height="11" fill="#E6952A"/>
<text x="341.21" y="585.66" font-size="10" text-anchor="end">C</text>
<rect x="361.35" y="588.92" width="19.25" height="11" fill="#73B1D7"/>
<rect x="380.6" y="588.92" width="7.7" height="11" fill="#E6952A"/>
<text x="341.21" y="598.02" font-size="10" text-anchor="end">G</text>
<rect x="349.8" y="601.28" width="30.8" height="11" fill="#73B1D7"/>
<rect x="380.6" y="601.28" width="30.8" height="11" fill="#E6952A"/>
<text x="341.21" y="610.38" font-size="10" text-anchor="end">E</text>
<rect x="372.9" y="613.64" width="7.7" height="11" fill="#73B1D7"/>
<rect x="380.6" y="613.64" width="3.85" height="11" fill="#E6952A"/>
<text x="341.21" y="622.74" font-size="10" text-anchor="end">H</text>
<rect x="369.05" y="626" width="11.55" height="11" fill="#73B1D7"/>
<rect x="380.6" y="626" width="30.8" height="11" fill="#E6952A"/>
<text x="341.21" y="635.1" font-size="10" text-anchor="end">I</text>
<rect x="361.35" y="638.36" width="19.25" height="11" fill="#73B1D7"/>
<rect x="380.6" y="638.36" width="42.35" height="11" fill="#E6952A"/>
<text x="341.21" y="647.46" font-size="10" text-anchor="end">P</text>
<rect x="365.2" y="650.72" width="15.4" height="11" fill="#73B1D7"/>
<rect x="380.6" y="650.72" width="11.55" height="11" fill="#E6952A"/>
<text x="341.21" y="659.82" font-size="10" text-anchor="end">Q</text>
<rect x="357.5" y="663.08" width="23.1" height="11" fill="#73B1D7"/>
<rect x="380.6" y="663.08" width="80.85" height="11" fill="#E6952A"/>
<text x="341.21" y="672.18" font-size="10" text-anchor="end">S</text>
<rect x="376.75" y="675.44" width="3.85" height="11" fill="#73B1D7"/>
<rect x="380.6" y="675.44" width="73.15" height="11" fill="#E6952A"/>
<text x="341.21" y="684.54" font-size="10" text-anchor="end">NA</text>
<line x1="380.6" y1="463.4" x2="380.6" y2="688.35" stroke="#111" stroke-width="1.3"/>
<line x1="344.41" y1="463.4" x2="466.46" y2="463.4" stroke="#111" stroke-width="1.3"/>
<line x1="361.35" y1="461.1" x2="361.35" y2="463.4" stroke="#333" stroke-width="0.8"/>
<line x1="380.6" y1="461.1" x2="380.6" y2="463.4" stroke="#333" stroke-width="0.8"/>
<line x1="399.85" y1="461.1" x2="399.85" y2="463.4" stroke="#333" stroke-width="0.8"/>
<line x1="419.1" y1="461.1" x2="419.1" y2="463.4" stroke="#333" stroke-width="0.8"/>
<line x1="438.35" y1="461.1" x2="438.35" y2="463.4" stroke="#333" stroke-width="0.8"/>
<line x1="457.6" y1="461.1" x2="457.6" y2="463.4" stroke="#333" stroke-width="0.8"/>
<text x="380.6" y="459.8" font-size="10.5" text-anchor="middle">0</text>
<text x="419.1" y="459.8" font-size="10.5" text-anchor="middle">10</text>
<text x="457.6" y="459.8" font-size="10.5" text-anchor="middle">20</text>
<text x="400.5" y="704.4" font-size="10.5" text-anchor="middle" font-weight="bold">&#916;OmpA + HNP1 vs &#916;OmpA</text>
<text transform="translate(22.9,570.2) rotate(-90)" font-size="10.7" font-weight="bold" text-anchor="middle">COG category</text>
<rect x="87.8" y="481.6" width="67" height="21.8" fill="#fff" stroke="#444" stroke-width="0.8"/>
<rect x="90.3" y="483.8" width="11.9" height="7.8" fill="#73B1D7"/>
<rect x="90.3" y="493.7" width="11.9" height="7.6" fill="#E6952A"/>
<text x="104" y="490.7" font-size="7">Downregulated</text>
<text x="104" y="499.6" font-size="7">Upregulated</text>
<text x="481.5" y="431.8" font-size="8">&#8226;</text>
<text x="491.9" y="432.1" font-size="8" font-weight="bold">INFORMATION STORAGE AND PROCESSING</text>
<text x="484.2" y="440.7" font-size="6.6" font-weight="bold">J</text>
<text x="491.86" y="440.7" font-size="6.6">Translation, ribosomal structure and biogenesis</text>
<text x="484.2" y="448.5" font-size="6.6" font-weight="bold">A</text>
<text x="492.78" y="448.5" font-size="6.6">RNA processing and modification</text>
<text x="484.2" y="456.3" font-size="6.6" font-weight="bold">K</text>
<text x="492.78" y="456.3" font-size="6.6">Transcription</text>
<text x="484.2" y="464.1" font-size="6.6" font-weight="bold">L</text>
<text x="491.86" y="464.1" font-size="6.6">Replication, recombination and repair</text>
<text x="484.2" y="471.9" font-size="6.6" font-weight="bold">B</text>
<text x="492.78" y="471.9" font-size="6.6">Chromatin structure and dynamics</text>
<text x="481.5" y="489.1" font-size="8">&#8226;</text>
<text x="491.9" y="489.4" font-size="8" font-weight="bold">CELLULAR PROCESSES AND SIGNALING</text>
<text x="484.2" y="497.4" font-size="6.6" font-weight="bold">D</text>
<text x="492.78" y="497.4" font-size="6.6">Cell cycle control, cell division, chromosome partitioning</text>
<text x="484.2" y="505.41" font-size="6.6" font-weight="bold">Y</text>
<text x="491.86" y="505.41" font-size="6.6">Nuclear structure</text>
<text x="484.2" y="513.42" font-size="6.6" font-weight="bold">V</text>
<text x="492.47" y="513.42" font-size="6.6">Defense mechanisms</text>
<text x="484.2" y="521.43" font-size="6.6" font-weight="bold">T</text>
<text x="491.86" y="521.43" font-size="6.6">Signal transduction mechanisms</text>
<text x="484.2" y="529.44" font-size="6.6" font-weight="bold">M</text>
<text x="494.01" y="529.44" font-size="6.6">Cell wall/membrane/envelope biogenesis</text>
<text x="484.2" y="537.45" font-size="6.6" font-weight="bold">N</text>
<text x="492.78" y="537.45" font-size="6.6">Cell motility</text>
<text x="484.2" y="545.46" font-size="6.6" font-weight="bold">Z</text>
<text x="491.86" y="545.46" font-size="6.6">Cytoskeleton</text>
<text x="484.2" y="553.47" font-size="6.6" font-weight="bold">W</text>
<text x="494.62" y="553.47" font-size="6.6">Extracellular structures</text>
<text x="484.2" y="561.48" font-size="6.6" font-weight="bold">U</text>
<text x="492.78" y="561.48" font-size="6.6">Intracellular trafficking, secretion, and vesicular transport</text>
<text x="484.2" y="569.49" font-size="6.6" font-weight="bold">O</text>
<text x="493.39" y="569.49" font-size="6.6">Posttranslational modification, protein turnover, chaperones</text>
<text x="484.2" y="577.5" font-size="6.6" font-weight="bold">X</text>
<text x="492.17" y="577.5" font-size="6.6">Mobilome: prophages, transposons</text>
<text x="481.5" y="594" font-size="8">&#8226;</text>
<text x="491.9" y="594.3" font-size="8" font-weight="bold">METABOLISM</text>
<text x="484.2" y="602.6" font-size="6.6" font-weight="bold">C</text>
<text x="492.78" y="602.6" font-size="6.6">Energy production and conversion</text>
<text x="484.2" y="610.53" font-size="6.6" font-weight="bold">G</text>
<text x="492.78" y="610.53" font-size="6.6">Carbohydrate transport and metabolism</text>
<text x="484.2" y="618.46" font-size="6.6" font-weight="bold">E</text>
<text x="491.86" y="618.46" font-size="6.6">Amino acid transport and metabolism</text>
<text x="484.2" y="626.39" font-size="6.6" font-weight="bold">F</text>
<text x="491.86" y="626.39" font-size="6.6">Nucleotide transport and metabolism</text>
<text x="484.2" y="634.32" font-size="6.6" font-weight="bold">H</text>
<text x="492.78" y="634.32" font-size="6.6">Coenzyme transport and metabolism</text>
<text x="484.2" y="642.25" font-size="6.6" font-weight="bold">I</text>
<text x="491.86" y="642.25" font-size="6.6">Lipid transport and metabolism</text>
<text x="484.2" y="650.18" font-size="6.6" font-weight="bold">P</text>
<text x="492.78" y="650.18" font-size="6.6">Inorganic ion transport and metabolism</text>
<text x="484.2" y="658.11" font-size="6.6" font-weight="bold">Q</text>
<text x="493.39" y="658.11" font-size="6.6">Secondary metabolites biosynthesis, transport and catabolism</text>
<text x="481.5" y="675.2" font-size="8">&#8226;</text>
<text x="491.9" y="675.5" font-size="8" font-weight="bold">POORLY CHARACTERIZED</text>
<text x="483.4" y="683.5" font-size="6.6" font-weight="bold">R</text>
<text x="490.94" y="683.5" font-size="6.6">General function prediction only</text>
<text x="483.4" y="691.5" font-size="6.6" font-weight="bold">S</text>
<text x="490.94" y="691.5" font-size="6.6">Function unknown</text>
<text x="482.7" y="707.7" font-size="6.6" font-weight="bold">NA</text>
<text x="494.3" y="707.7" font-size="6.6">Not available for annotation</text>
<text x="8" y="735.1" font-size="12.5" font-weight="bold" stroke="#000" stroke-width="0.35">F</text>
<rect x="80.7" y="721.3" width="8.8" height="9.35" fill="#F4908A" stroke="#a0a0a0" stroke-width="0.5"/>
<text x="92" y="728.3" font-size="6.55">Bap family</text>
<rect x="80.7" y="730.65" width="8.8" height="9.35" fill="#EBA820" stroke="#a0a0a0" stroke-width="0.5"/>
<text x="92" y="737.65" font-size="6.55">OmpA family</text>
<rect x="80.7" y="740" width="8.8" height="9.35" fill="#E07FC0" stroke="#a0a0a0" stroke-width="0.5"/>
<text x="92" y="747" font-size="6.55">Csu system</text>
<rect x="225.8" y="721.3" width="8.8" height="9.35" fill="#D38FCE" stroke="#a0a0a0" stroke-width="0.5"/>
<text x="237.1" y="728.3" font-size="6.55">fimbriae</text>
<rect x="225.8" y="730.65" width="8.8" height="9.35" fill="#A8C23A" stroke="#a0a0a0" stroke-width="0.5"/>
<text x="237.1" y="737.65" font-size="6.55">EPS secretion</text>
<rect x="225.8" y="740" width="8.8" height="9.35" fill="#4DBDA6" stroke="#a0a0a0" stroke-width="0.5"/>
<text x="237.1" y="747" font-size="6.55">two-component system</text>
<rect x="364" y="721.3" width="8.8" height="9.35" fill="#4CB050" stroke="#a0a0a0" stroke-width="0.5"/>
<text x="375.3" y="728.3" font-size="6.55">quorum sensing</text>
<rect x="364" y="730.65" width="8.8" height="9.35" fill="#40C4EC" stroke="#a0a0a0" stroke-width="0.5"/>
<text x="375.3" y="737.65" font-size="6.55">surface polysaccharide</text>
<rect x="364" y="740" width="8.8" height="9.35" fill="#8EAEDC" stroke="#a0a0a0" stroke-width="0.5"/>
<text x="375.3" y="747" font-size="6.55">multidrug efflux protein</text>
<text x="47.3" y="761.4" font-size="6.7" text-anchor="end" font-weight="bold">Type</text>
<rect x="49.9" y="755.4" width="12.14" height="6.5" fill="#F4908A" stroke="#a0a0a0" stroke-width="0.5"/>
<rect x="62.05" y="755.4" width="12.14" height="6.5" fill="#EBA820" stroke="#a0a0a0" stroke-width="0.5"/>
<rect x="74.19" y="755.4" width="12.14" height="6.5" fill="#EBA820" stroke="#a0a0a0" stroke-width="0.5"/>
<rect x="86.34" y="755.4" width="12.14" height="6.5" fill="#EBA820" stroke="#a0a0a0" stroke-width="0.5"/>
<rect x="98.48" y="755.4" width="12.14" height="6.5" fill="#EBA820" stroke="#a0a0a0" stroke-width="0.5"/>
<rect x="110.62" y="755.4" width="12.14" height="6.5" fill="#EBA820" stroke="#a0a0a0" stroke-width="0.5"/>
<rect x="122.77" y="755.4" width="12.14" height="6.5" fill="#EBA820" stroke="#a0a0a0" stroke-width="0.5"/>
<rect x="134.91" y="755.4" width="12.14" height="6.5" fill="#E07FC0" stroke="#a0a0a0" stroke-width="0.5"/>
<rect x="147.06" y="755.4" width="12.14" height="6.5" fill="#E07FC0" stroke="#a0a0a0" stroke-width="0.5"/>
<rect x="159.2" y="755.4" width="12.14" height="6.5" fill="#E07FC0" stroke="#a0a0a0" stroke-width="0.5"/>
<rect x="171.35" y="755.4" width="12.14" height="6.5" fill="#E07FC0" stroke="#a0a0a0" stroke-width="0.5"/>
<rect x="183.5" y="755.4" width="12.14" height="6.5" fill="#E07FC0" stroke="#a0a0a0" stroke-width="0.5"/>
<rect x="195.64" y="755.4" width="12.14" height="6.5" fill="#E07FC0" stroke="#a0a0a0" stroke-width="0.5"/>
<rect x="207.78" y="755.4" width="12.14" height="6.5" fill="#D38FCE" stroke="#a0a0a0" stroke-width="0.5"/>
<rect x="219.93" y="755.4" width="12.14" height="6.5" fill="#D38FCE" stroke="#a0a0a0" stroke-width="0.5"/>
<rect x="232.07" y="755.4" width="12.14" height="6.5" fill="#D38FCE" stroke="#a0a0a0" stroke-width="0.5"/>
<rect x="244.22" y="755.4" width="12.14" height="6.5" fill="#D38FCE" stroke="#a0a0a0" stroke-width="0.5"/>
<rect x="256.37" y="755.4" width="12.14" height="6.5" fill="#D38FCE" stroke="#a0a0a0" stroke-width="0.5"/>
<rect x="268.51" y="755.4" width="12.14" height="6.5" fill="#D38FCE" stroke="#a0a0a0" stroke-width="0.5"/>
<rect x="280.65" y="755.4" width="12.14" height="6.5" fill="#D38FCE" stroke="#a0a0a0" stroke-width="0.5"/>
<rect x="292.8" y="755.4" width="12.14" height="6.5" fill="#A8C23A" stroke="#a0a0a0" stroke-width="0.5"/>
<rect x="304.94" y="755.4" width="12.14" height="6.5" fill="#A8C23A" stroke="#a0a0a0" stroke-width="0.5"/>
<rect x="317.09" y="755.4" width="12.14" height="6.5" fill="#4DBDA6" stroke="#a0a0a0" stroke-width="0.5"/>
<rect x="329.23" y="755.4" width="12.14" height="6.5" fill="#4DBDA6" stroke="#a0a0a0" stroke-width="0.5"/>
<rect x="341.38" y="755.4" width="12.14" height="6.5" fill="#4CB050" stroke="#a0a0a0" stroke-width="0.5"/>
<rect x="353.52" y="755.4" width="12.14" height="6.5" fill="#4CB050" stroke="#a0a0a0" stroke-width="0.5"/>
<rect x="365.67" y="755.4" width="12.14" height="6.5" fill="#4CB050" stroke="#a0a0a0" stroke-width="0.5"/>
<rect x="377.81" y="755.4" width="12.14" height="6.5" fill="#4CB050" stroke="#a0a0a0" stroke-width="0.5"/>
<rect x="389.96" y="755.4" width="12.14" height="6.5" fill="#40C4EC" stroke="#a0a0a0" stroke-width="0.5"/>
<rect x="402.1" y="755.4" width="12.14" height="6.5" fill="#40C4EC" stroke="#a0a0a0" stroke-width="0.5"/>
<rect x="414.25" y="755.4" width="12.14" height="6.5" fill="#40C4EC" stroke="#a0a0a0" stroke-width="0.5"/>
<rect x="426.39" y="755.4" width="12.14" height="6.5" fill="#40C4EC" stroke="#a0a0a0" stroke-width="0.5"/>
<rect x="438.54" y="755.4" width="12.14" height="6.5" fill="#40C4EC" stroke="#a0a0a0" stroke-width="0.5"/>
<rect x="450.68" y="755.4" width="12.14" height="6.5" fill="#40C4EC" stroke="#a0a0a0" stroke-width="0.5"/>
<rect x="462.83" y="755.4" width="12.14" height="6.5" fill="#40C4EC" stroke="#a0a0a0" stroke-width="0.5"/>
<rect x="474.97" y="755.4" width="12.14" height="6.5" fill="#8EAEDC" stroke="#a0a0a0" stroke-width="0.5"/>
<rect x="487.12" y="755.4" width="12.14" height="6.5" fill="#8EAEDC" stroke="#a0a0a0" stroke-width="0.5"/>
<rect x="499.26" y="755.4" width="12.14" height="6.5" fill="#8EAEDC" stroke="#a0a0a0" stroke-width="0.5"/>
<rect x="511.41" y="755.4" width="12.14" height="6.5" fill="#8EAEDC" stroke="#a0a0a0" stroke-width="0.5"/>
<rect x="523.55" y="755.4" width="12.14" height="6.5" fill="#8EAEDC" stroke="#a0a0a0" stroke-width="0.5"/>
<rect x="535.7" y="755.4" width="12.14" height="6.5" fill="#8EAEDC" stroke="#a0a0a0" stroke-width="0.5"/>
<rect x="547.85" y="755.4" width="12.14" height="6.5" fill="#8EAEDC" stroke="#a0a0a0" stroke-width="0.5"/>
<rect x="559.99" y="755.4" width="12.14" height="6.5" fill="#8EAEDC" stroke="#a0a0a0" stroke-width="0.5"/>
<rect x="572.13" y="755.4" width="12.14" height="6.5" fill="#8EAEDC" stroke="#a0a0a0" stroke-width="0.5"/>
<rect x="584.28" y="755.4" width="12.14" height="6.5" fill="#8EAEDC" stroke="#a0a0a0" stroke-width="0.5"/>
<rect x="596.42" y="755.4" width="12.14" height="6.5" fill="#8EAEDC" stroke="#a0a0a0" stroke-width="0.5"/>
<rect x="608.57" y="755.4" width="12.14" height="6.5" fill="#8EAEDC" stroke="#a0a0a0" stroke-width="0.5"/>
<rect x="620.71" y="755.4" width="12.14" height="6.5" fill="#8EAEDC" stroke="#a0a0a0" stroke-width="0.5"/>
<rect x="632.86" y="755.4" width="12.14" height="6.5" fill="#8EAEDC" stroke="#a0a0a0" stroke-width="0.5"/>
<rect x="49.9" y="768.2" width="12.14" height="15.27" fill="#edf3df" stroke="#9a9a9a" stroke-width="0.8"/>
<rect x="49.9" y="834.7" width="12.14" height="15.98" fill="#fdd58a" stroke="#9a9a9a" stroke-width="0.8"/>
<rect x="62.05" y="768.2" width="12.14" height="15.27" fill="#eff4dc" stroke="#9a9a9a" stroke-width="0.8"/>
<rect x="62.05" y="834.7" width="12.14" height="15.98" fill="#5484c2" stroke="#9a9a9a" stroke-width="0.8"/>
<rect x="74.19" y="768.2" width="12.14" height="15.27" fill="#eff4dc" stroke="#9a9a9a" stroke-width="0.8"/>
<rect x="74.19" y="834.7" width="12.14" height="15.98" fill="#4672b7" stroke="#9a9a9a" stroke-width="0.8"/>
<rect x="86.34" y="768.2" width="12.14" height="15.27" fill="#eff4dc" stroke="#9a9a9a" stroke-width="0.8"/>
<rect x="86.34" y="834.7" width="12.14" height="15.98" fill="#4b78ba" stroke="#9a9a9a" stroke-width="0.8"/>
<rect x="98.48" y="768.2" width="12.14" height="15.27" fill="#eff4dc" stroke="#9a9a9a" stroke-width="0.8"/>
<rect x="98.48" y="834.7" width="12.14" height="15.98" fill="#4672b7" stroke="#9a9a9a" stroke-width="0.8"/>
<rect x="110.62" y="768.2" width="12.14" height="15.27" fill="#eff4dc" stroke="#9a9a9a" stroke-width="0.8"/>
<rect x="110.62" y="834.7" width="12.14" height="15.98" fill="#fdc07a" stroke="#9a9a9a" stroke-width="0.8"/>
<rect x="122.77" y="768.2" width="12.14" height="15.27" fill="#eff4dc" stroke="#9a9a9a" stroke-width="0.8"/>
<rect x="122.77" y="834.7" width="12.14" height="15.98" fill="#4672b7" stroke="#9a9a9a" stroke-width="0.8"/>
<rect x="134.91" y="768.2" width="12.14" height="15.27" fill="#eff4dc" stroke="#9a9a9a" stroke-width="0.8"/>
<rect x="134.91" y="834.7" width="12.14" height="15.98" fill="#4874b8" stroke="#9a9a9a" stroke-width="0.8"/>
<rect x="147.06" y="768.2" width="12.14" height="15.27" fill="#eff4dc" stroke="#9a9a9a" stroke-width="0.8"/>
<rect x="147.06" y="834.7" width="12.14" height="15.98" fill="#5687c4" stroke="#9a9a9a" stroke-width="0.8"/>
<rect x="159.2" y="768.2" width="12.14" height="15.27" fill="#eff4dc" stroke="#9a9a9a" stroke-width="0.8"/>
<rect x="159.2" y="834.7" width="12.14" height="15.98" fill="#4e7cbc" stroke="#9a9a9a" stroke-width="0.8"/>
<rect x="171.35" y="768.2" width="12.14" height="15.27" fill="#eff4dc" stroke="#9a9a9a" stroke-width="0.8"/>
<rect x="171.35" y="834.7" width="12.14" height="15.98" fill="#4672b7" stroke="#9a9a9a" stroke-width="0.8"/>
<rect x="183.5" y="768.2" width="12.14" height="15.27" fill="#eff4dc" stroke="#9a9a9a" stroke-width="0.8"/>
<rect x="183.5" y="834.7" width="12.14" height="15.98" fill="#4c7abb" stroke="#9a9a9a" stroke-width="0.8"/>
<rect x="195.64" y="768.2" width="12.14" height="15.27" fill="#eff4dc" stroke="#9a9a9a" stroke-width="0.8"/>
<rect x="195.64" y="834.7" width="12.14" height="15.98" fill="#b5d8ee" stroke="#9a9a9a" stroke-width="0.8"/>
<rect x="207.78" y="768.2" width="12.14" height="15.27" fill="#eff4dc" stroke="#9a9a9a" stroke-width="0.8"/>
<rect x="207.78" y="834.7" width="12.14" height="15.98" fill="#4874b8" stroke="#9a9a9a" stroke-width="0.8"/>
<rect x="219.93" y="768.2" width="12.14" height="15.27" fill="#eff4dc" stroke="#9a9a9a" stroke-width="0.8"/>
<rect x="219.93" y="834.7" width="12.14" height="15.98" fill="#4b78ba" stroke="#9a9a9a" stroke-width="0.8"/>
<rect x="232.07" y="768.2" width="12.14" height="15.27" fill="#eff4dc" stroke="#9a9a9a" stroke-width="0.8"/>
<rect x="232.07" y="834.7" width="12.14" height="15.98" fill="#4874b8" stroke="#9a9a9a" stroke-width="0.8"/>
<rect x="244.22" y="768.2" width="12.14" height="15.27" fill="#eff4dc" stroke="#9a9a9a" stroke-width="0.8"/>
<rect x="244.22" y="834.7" width="12.14" height="15.98" fill="#4b78ba" stroke="#9a9a9a" stroke-width="0.8"/>
<rect x="256.37" y="768.2" width="12.14" height="15.27" fill="#eff4dc" stroke="#9a9a9a" stroke-width="0.8"/>
<rect x="256.37" y="834.7" width="12.14" height="15.98" fill="#4874b8" stroke="#9a9a9a" stroke-width="0.8"/>
<rect x="268.51" y="768.2" width="12.14" height="15.27" fill="#eff4dc" stroke="#9a9a9a" stroke-width="0.8"/>
<rect x="268.51" y="834.7" width="12.14" height="15.98" fill="#4b78ba" stroke="#9a9a9a" stroke-width="0.8"/>
<rect x="280.65" y="768.2" width="12.14" height="15.27" fill="#eff4dc" stroke="#9a9a9a" stroke-width="0.8"/>
<rect x="280.65" y="834.7" width="12.14" height="15.98" fill="#4874b8" stroke="#9a9a9a" stroke-width="0.8"/>
<rect x="292.8" y="768.2" width="12.14" height="15.27" fill="#eaf2e6" stroke="#9a9a9a" stroke-width="0.8"/>
<rect x="292.8" y="834.7" width="12.14" height="15.98" fill="#4b78ba" stroke="#9a9a9a" stroke-width="0.8"/>
<rect x="304.94" y="768.2" width="12.14" height="15.27" fill="#eff4dc" stroke="#9a9a9a" stroke-width="0.8"/>
<rect x="304.94" y="834.7" width="12.14" height="15.98" fill="#4874b8" stroke="#9a9a9a" stroke-width="0.8"/>
<rect x="317.09" y="768.2" width="12.14" height="15.27" fill="#eff4dc" stroke="#9a9a9a" stroke-width="0.8"/>
<rect x="317.09" y="834.7" width="12.14" height="15.98" fill="#4f7ebd" stroke="#9a9a9a" stroke-width="0.8"/>
<rect x="329.23" y="768.2" width="12.14" height="15.27" fill="#eff4dc" stroke="#9a9a9a" stroke-width="0.8"/>
<rect x="329.23" y="834.7" width="12.14" height="15.98" fill="#4874b8" stroke="#9a9a9a" stroke-width="0.8"/>
<rect x="341.38" y="768.2" width="12.14" height="15.27" fill="#eff4dc" stroke="#9a9a9a" stroke-width="0.8"/>
<rect x="341.38" y="834.7" width="12.14" height="15.98" fill="#4874b8" stroke="#9a9a9a" stroke-width="0.8"/>
<rect x="353.52" y="768.2" width="12.14" height="15.27" fill="#eff4dc" stroke="#9a9a9a" stroke-width="0.8"/>
<rect x="353.52" y="834.7" width="12.14" height="15.98" fill="#4874b8" stroke="#9a9a9a" stroke-width="0.8"/>
<rect x="365.67" y="768.2" width="12.14" height="15.27" fill="#eff4dc" stroke="#9a9a9a" stroke-width="0.8"/>
<rect x="365.67" y="834.7" width="12.14" height="15.98" fill="#4874b8" stroke="#9a9a9a" stroke-width="0.8"/>
<rect x="377.81" y="768.2" width="12.14" height="15.27" fill="#eff4dc" stroke="#9a9a9a" stroke-width="0.8"/>
<rect x="377.81" y="834.7" width="12.14" height="15.98" fill="#4874b8" stroke="#9a9a9a" stroke-width="0.8"/>
<rect x="389.96" y="768.2" width="12.14" height="15.27" fill="#eff4dc" stroke="#9a9a9a" stroke-width="0.8"/>
<rect x="389.96" y="834.7" width="12.14" height="15.98" fill="#4874b8" stroke="#9a9a9a" stroke-width="0.8"/>
<rect x="402.1" y="768.2" width="12.14" height="15.27" fill="#eff4dc" stroke="#9a9a9a" stroke-width="0.8"/>
<rect x="402.1" y="834.7" width="12.14" height="15.98" fill="#4874b8" stroke="#9a9a9a" stroke-width="0.8"/>
<rect x="414.25" y="768.2" width="12.14" height="15.27" fill="#eff4dc" stroke="#9a9a9a" stroke-width="0.8"/>
<rect x="414.25" y="834.7" width="12.14" height="15.98" fill="#4874b8" stroke="#9a9a9a" stroke-width="0.8"/>
<rect x="426.39" y="768.2" width="12.14" height="15.27" fill="#eff4dc" stroke="#9a9a9a" stroke-width="0.8"/>
<rect x="426.39" y="834.7" width="12.14" height="15.98" fill="#4874b8" stroke="#9a9a9a" stroke-width="0.8"/>
<rect x="438.54" y="768.2" width="12.14" height="15.27" fill="#eff4dc" stroke="#9a9a9a" stroke-width="0.8"/>
<rect x="438.54" y="834.7" width="12.14" height="15.98" fill="#4874b8" stroke="#9a9a9a" stroke-width="0.8"/>
<rect x="450.68" y="768.2" width="12.14" height="15.27" fill="#eff4dc" stroke="#9a9a9a" stroke-width="0.8"/>
<rect x="450.68" y="834.7" width="12.14" height="15.98" fill="#4874b8" stroke="#9a9a9a" stroke-width="0.8"/>
<rect x="462.83" y="768.2" width="12.14" height="15.27" fill="#eff4dc" stroke="#9a9a9a" stroke-width="0.8"/>
<rect x="462.83" y="834.7" width="12.14" height="15.98" fill="#4874b8" stroke="#9a9a9a" stroke-width="0.8"/>
<rect x="474.97" y="768.2" width="12.14" height="15.27" fill="#eff4dc" stroke="#9a9a9a" stroke-width="0.8"/>
<rect x="474.97" y="834.7" width="12.14" height="15.98" fill="#4874b8" stroke="#9a9a9a" stroke-width="0.8"/>
<rect x="487.12" y="768.2" width="12.14" height="15.27" fill="#eff4dc" stroke="#9a9a9a" stroke-width="0.8"/>
<rect x="487.12" y="834.7" width="12.14" height="15.98" fill="#4c7abb" stroke="#9a9a9a" stroke-width="0.8"/>
<rect x="499.26" y="768.2" width="12.14" height="15.27" fill="#eff4dc" stroke="#9a9a9a" stroke-width="0.8"/>
<rect x="499.26" y="834.7" width="12.14" height="15.98" fill="#4874b8" stroke="#9a9a9a" stroke-width="0.8"/>
<rect x="511.41" y="768.2" width="12.14" height="15.27" fill="#eff4dc" stroke="#9a9a9a" stroke-width="0.8"/>
<rect x="511.41" y="834.7" width="12.14" height="15.98" fill="#4874b8" stroke="#9a9a9a" stroke-width="0.8"/>
<rect x="523.55" y="768.2" width="12.14" height="15.27" fill="#eff4dc" stroke="#9a9a9a" stroke-width="0.8"/>
<rect x="523.55" y="834.7" width="12.14" height="15.98" fill="#4874b8" stroke="#9a9a9a" stroke-width="0.8"/>
<rect x="535.7" y="768.2" width="12.14" height="15.27" fill="#eff4dc" stroke="#9a9a9a" stroke-width="0.8"/>
<rect x="535.7" y="834.7" width="12.14" height="15.98" fill="#4874b8" stroke="#9a9a9a" stroke-width="0.8"/>
<rect x="547.85" y="768.2" width="12.14" height="15.27" fill="#eff4dc" stroke="#9a9a9a" stroke-width="0.8"/>
<rect x="547.85" y="834.7" width="12.14" height="15.98" fill="#4874b8" stroke="#9a9a9a" stroke-width="0.8"/>
<rect x="559.99" y="768.2" width="12.14" height="15.27" fill="#eff4dc" stroke="#9a9a9a" stroke-width="0.8"/>
<rect x="559.99" y="834.7" width="12.14" height="15.98" fill="#4874b8" stroke="#9a9a9a" stroke-width="0.8"/>
<rect x="572.13" y="768.2" width="12.14" height="15.27" fill="#eff4dc" stroke="#9a9a9a" stroke-width="0.8"/>
<rect x="572.13" y="834.7" width="12.14" height="15.98" fill="#4874b8" stroke="#9a9a9a" stroke-width="0.8"/>
<rect x="584.28" y="768.2" width="12.14" height="15.27" fill="#eff4dc" stroke="#9a9a9a" stroke-width="0.8"/>
<rect x="584.28" y="834.7" width="12.14" height="15.98" fill="#4874b8" stroke="#9a9a9a" stroke-width="0.8"/>
<rect x="596.42" y="768.2" width="12.14" height="15.27" fill="#eff4dc" stroke="#9a9a9a" stroke-width="0.8"/>
<rect x="596.42" y="834.7" width="12.14" height="15.98" fill="#5687c4" stroke="#9a9a9a" stroke-width="0.8"/>
<rect x="608.57" y="768.2" width="12.14" height="15.27" fill="#eaf2e6" stroke="#9a9a9a" stroke-width="0.8"/>
<rect x="608.57" y="834.7" width="12.14" height="15.98" fill="#6b9cce" stroke="#9a9a9a" stroke-width="0.8"/>
<rect x="620.71" y="768.2" width="12.14" height="15.27" fill="#eff4dc" stroke="#9a9a9a" stroke-width="0.8"/>
<rect x="620.71" y="834.7" width="12.14" height="15.98" fill="#4d7bbc" stroke="#9a9a9a" stroke-width="0.8"/>
<rect x="632.86" y="768.2" width="12.14" height="15.27" fill="#eff4dc" stroke="#9a9a9a" stroke-width="0.8"/>
<rect x="632.86" y="834.7" width="12.14" height="15.98" fill="#4874b8" stroke="#9a9a9a" stroke-width="0.8"/>
<text x="46.8" y="778.24" font-size="6.7" text-anchor="end" font-weight="bold">WT</text>
<text x="46.8" y="845.09" font-size="6.7" text-anchor="end" font-weight="bold">WT</text>
<rect x="49.9" y="783.47" width="12.14" height="15.27" fill="#f8f4c2" stroke="#9a9a9a" stroke-width="0.8"/>
<rect x="49.9" y="850.68" width="12.14" height="15.98" fill="#f88b5c" stroke="#9a9a9a" stroke-width="0.8"/>
<rect x="62.05" y="783.47" width="12.14" height="15.27" fill="#fce498" stroke="#9a9a9a" stroke-width="0.8"/>
<rect x="62.05" y="850.68" width="12.14" height="15.98" fill="#6b9cce" stroke="#9a9a9a" stroke-width="0.8"/>
<rect x="74.19" y="783.47" width="12.14" height="15.27" fill="#daedf5" stroke="#9a9a9a" stroke-width="0.8"/>
<rect x="74.19" y="850.68" width="12.14" height="15.98" fill="#4672b7" stroke="#9a9a9a" stroke-width="0.8"/>
<rect x="86.34" y="783.47" width="12.14" height="15.27" fill="#fce79c" stroke="#9a9a9a" stroke-width="0.8"/>
<rect x="86.34" y="850.68" width="12.14" height="15.98" fill="#4f7ebd" stroke="#9a9a9a" stroke-width="0.8"/>
<rect x="98.48" y="783.47" width="12.14" height="15.27" fill="#f3f4d2" stroke="#9a9a9a" stroke-width="0.8"/>
<rect x="98.48" y="850.68" width="12.14" height="15.98" fill="#4672b7" stroke="#9a9a9a" stroke-width="0.8"/>
<rect x="110.62" y="783.47" width="12.14" height="15.27" fill="#f9f5be" stroke="#9a9a9a" stroke-width="0.8"/>
<rect x="110.62" y="850.68" width="12.14" height="15.98" fill="#d73127" stroke="#9a9a9a" stroke-width="0.8"/>
<rect x="122.77" y="783.47" width="12.14" height="15.27" fill="#e3f1ef" stroke="#9a9a9a" stroke-width="0.8"/>
<rect x="122.77" y="850.68" width="12.14" height="15.98" fill="#4773b8" stroke="#9a9a9a" stroke-width="0.8"/>
<rect x="134.91" y="783.47" width="12.14" height="15.27" fill="#e6f2ec" stroke="#9a9a9a" stroke-width="0.8"/>
<rect x="134.91" y="850.68" width="12.14" height="15.98" fill="#4874b8" stroke="#9a9a9a" stroke-width="0.8"/>
<rect x="147.06" y="783.47" width="12.14" height="15.27" fill="#a9d0e8" stroke="#9a9a9a" stroke-width="0.8"/>
<rect x="147.06" y="850.68" width="12.14" height="15.98" fill="#4c7abb" stroke="#9a9a9a" stroke-width="0.8"/>
<rect x="159.2" y="783.47" width="12.14" height="15.27" fill="#bedef0" stroke="#9a9a9a" stroke-width="0.8"/>
<rect x="159.2" y="850.68" width="12.14" height="15.98" fill="#4b78ba" stroke="#9a9a9a" stroke-width="0.8"/>
<rect x="171.35" y="783.47" width="12.14" height="15.27" fill="#92c0df" stroke="#9a9a9a" stroke-width="0.8"/>
<rect x="171.35" y="850.68" width="12.14" height="15.98" fill="#4672b7" stroke="#9a9a9a" stroke-width="0.8"/>
<rect x="183.5" y="783.47" width="12.14" height="15.27" fill="#d3e9f4" stroke="#9a9a9a" stroke-width="0.8"/>
<rect x="183.5" y="850.68" width="12.14" height="15.98" fill="#4b78ba" stroke="#9a9a9a" stroke-width="0.8"/>
<rect x="195.64" y="783.47" width="12.14" height="15.27" fill="#eff4dc" stroke="#9a9a9a" stroke-width="0.8"/>
<rect x="195.64" y="850.68" width="12.14" height="15.98" fill="#b5d8ee" stroke="#9a9a9a" stroke-width="0.8"/>
<rect x="207.78" y="783.47" width="12.14" height="15.27" fill="#daedf5" stroke="#9a9a9a" stroke-width="0.8"/>
<rect x="207.78" y="850.68" width="12.14" height="15.98" fill="#4874b8" stroke="#9a9a9a" stroke-width="0.8"/>
<rect x="219.93" y="783.47" width="12.14" height="15.27" fill="#e3f1ef" stroke="#9a9a9a" stroke-width="0.8"/>
<rect x="219.93" y="850.68" width="12.14" height="15.98" fill="#4b78ba" stroke="#9a9a9a" stroke-width="0.8"/>
<rect x="232.07" y="783.47" width="12.14" height="15.27" fill="#eaf2e6" stroke="#9a9a9a" stroke-width="0.8"/>
<rect x="232.07" y="850.68" width="12.14" height="15.98" fill="#4874b8" stroke="#9a9a9a" stroke-width="0.8"/>
<rect x="244.22" y="783.47" width="12.14" height="15.27" fill="#c8e4f2" stroke="#9a9a9a" stroke-width="0.8"/>
<rect x="244.22" y="850.68" width="12.14" height="15.98" fill="#4b78ba" stroke="#9a9a9a" stroke-width="0.8"/>
<rect x="256.37" y="783.47" width="12.14" height="15.27" fill="#b4d7ec" stroke="#9a9a9a" stroke-width="0.8"/>
<rect x="256.37" y="850.68" width="12.14" height="15.98" fill="#4874b8" stroke="#9a9a9a" stroke-width="0.8"/>
<rect x="268.51" y="783.47" width="12.14" height="15.27" fill="#f1f4d8" stroke="#9a9a9a" stroke-width="0.8"/>
<rect x="268.51" y="850.68" width="12.14" height="15.98" fill="#4b78ba" stroke="#9a9a9a" stroke-width="0.8"/>
<rect x="280.65" y="783.47" width="12.14" height="15.27" fill="#faf4ba" stroke="#9a9a9a" stroke-width="0.8"/>
<rect x="280.65" y="850.68" width="12.14" height="15.98" fill="#4874b8" stroke="#9a9a9a" stroke-width="0.8"/>
<rect x="292.8" y="783.47" width="12.14" height="15.27" fill="#98c4e1" stroke="#9a9a9a" stroke-width="0.8"/>
<rect x="292.8" y="850.68" width="12.14" height="15.98" fill="#4b78ba" stroke="#9a9a9a" stroke-width="0.8"/>
<rect x="304.94" y="783.47" width="12.14" height="15.27" fill="#d7ebf4" stroke="#9a9a9a" stroke-width="0.8"/>
<rect x="304.94" y="850.68" width="12.14" height="15.98" fill="#4874b8" stroke="#9a9a9a" stroke-width="0.8"/>
<rect x="317.09" y="783.47" width="12.14" height="15.27" fill="#eaf2e6" stroke="#9a9a9a" stroke-width="0.8"/>
<rect x="317.09" y="850.68" width="12.14" height="15.98" fill="#4e7cbc" stroke="#9a9a9a" stroke-width="0.8"/>
<rect x="329.23" y="783.47" width="12.14" height="15.27" fill="#f9f5be" stroke="#9a9a9a" stroke-width="0.8"/>
<rect x="329.23" y="850.68" width="12.14" height="15.98" fill="#4874b8" stroke="#9a9a9a" stroke-width="0.8"/>
<rect x="341.38" y="783.47" width="12.14" height="15.27" fill="#fdd48a" stroke="#9a9a9a" stroke-width="0.8"/>
<rect x="341.38" y="850.68" width="12.14" height="15.98" fill="#4874b8" stroke="#9a9a9a" stroke-width="0.8"/>
<rect x="353.52" y="783.47" width="12.14" height="15.27" fill="#f3f4d2" stroke="#9a9a9a" stroke-width="0.8"/>
<rect x="353.52" y="850.68" width="12.14" height="15.98" fill="#4874b8" stroke="#9a9a9a" stroke-width="0.8"/>
<rect x="365.67" y="783.47" width="12.14" height="15.27" fill="#f2f4d5" stroke="#9a9a9a" stroke-width="0.8"/>
<rect x="365.67" y="850.68" width="12.14" height="15.98" fill="#4874b8" stroke="#9a9a9a" stroke-width="0.8"/>
<rect x="377.81" y="783.47" width="12.14" height="15.27" fill="#deeff5" stroke="#9a9a9a" stroke-width="0.8"/>
<rect x="377.81" y="850.68" width="12.14" height="15.98" fill="#4874b8" stroke="#9a9a9a" stroke-width="0.8"/>
<rect x="389.96" y="783.47" width="12.14" height="15.27" fill="#f3f4d2" stroke="#9a9a9a" stroke-width="0.8"/>
<rect x="389.96" y="850.68" width="12.14" height="15.98" fill="#4874b8" stroke="#9a9a9a" stroke-width="0.8"/>
<rect x="402.1" y="783.47" width="12.14" height="15.27" fill="#e6f2ec" stroke="#9a9a9a" stroke-width="0.8"/>
<rect x="402.1" y="850.68" width="12.14" height="15.98" fill="#4874b8" stroke="#9a9a9a" stroke-width="0.8"/>
<rect x="414.25" y="783.47" width="12.14" height="15.27" fill="#eff4dc" stroke="#9a9a9a" stroke-width="0.8"/>
<rect x="414.25" y="850.68" width="12.14" height="15.98" fill="#4874b8" stroke="#9a9a9a" stroke-width="0.8"/>
<rect x="426.39" y="783.47" width="12.14" height="15.27" fill="#faf2b6" stroke="#9a9a9a" stroke-width="0.8"/>
<rect x="426.39" y="850.68" width="12.14" height="15.98" fill="#4874b8" stroke="#9a9a9a" stroke-width="0.8"/>
<rect x="438.54" y="783.47" width="12.14" height="15.27" fill="#fce498" stroke="#9a9a9a" stroke-width="0.8"/>
<rect x="438.54" y="850.68" width="12.14" height="15.98" fill="#4874b8" stroke="#9a9a9a" stroke-width="0.8"/>
<rect x="450.68" y="783.47" width="12.14" height="15.27" fill="#fceaa0" stroke="#9a9a9a" stroke-width="0.8"/>
<rect x="450.68" y="850.68" width="12.14" height="15.98" fill="#4874b8" stroke="#9a9a9a" stroke-width="0.8"/>
<rect x="462.83" y="783.47" width="12.14" height="15.27" fill="#f9f5be" stroke="#9a9a9a" stroke-width="0.8"/>
<rect x="462.83" y="850.68" width="12.14" height="15.98" fill="#4874b8" stroke="#9a9a9a" stroke-width="0.8"/>
<rect x="474.97" y="783.47" width="12.14" height="15.27" fill="#da3a2b" stroke="#9a9a9a" stroke-width="0.8"/>
<rect x="474.97" y="850.68" width="12.14" height="15.98" fill="#5a8bc6" stroke="#9a9a9a" stroke-width="0.8"/>
<rect x="487.12" y="783.47" width="12.14" height="15.27" fill="#d73027" stroke="#9a9a9a" stroke-width="0.8"/>
<rect x="487.12" y="850.68" width="12.14" height="15.98" fill="#4c7abb" stroke="#9a9a9a" stroke-width="0.8"/>
<rect x="499.26" y="783.47" width="12.14" height="15.27" fill="#f1f4d8" stroke="#9a9a9a" stroke-width="0.8"/>
<rect x="499.26" y="850.68" width="12.14" height="15.98" fill="#4874b8" stroke="#9a9a9a" stroke-width="0.8"/>
<rect x="511.41" y="783.47" width="12.14" height="15.27" fill="#edf3df" stroke="#9a9a9a" stroke-width="0.8"/>
<rect x="511.41" y="850.68" width="12.14" height="15.98" fill="#4874b8" stroke="#9a9a9a" stroke-width="0.8"/>
<rect x="523.55" y="783.47" width="12.14" height="15.27" fill="#f1f4d8" stroke="#9a9a9a" stroke-width="0.8"/>
<rect x="523.55" y="850.68" width="12.14" height="15.98" fill="#4874b8" stroke="#9a9a9a" stroke-width="0.8"/>
<rect x="535.7" y="783.47" width="12.14" height="15.27" fill="#f2f4d5" stroke="#9a9a9a" stroke-width="0.8"/>
<rect x="535.7" y="850.68" width="12.14" height="15.98" fill="#4874b8" stroke="#9a9a9a" stroke-width="0.8"/>
<rect x="547.85" y="783.47" width="12.14" height="15.27" fill="#f2f4d5" stroke="#9a9a9a" stroke-width="0.8"/>
<rect x="547.85" y="850.68" width="12.14" height="15.98" fill="#4874b8" stroke="#9a9a9a" stroke-width="0.8"/>
<rect x="559.99" y="783.47" width="12.14" height="15.27" fill="#e6f2ec" stroke="#9a9a9a" stroke-width="0.8"/>
<rect x="559.99" y="850.68" width="12.14" height="15.98" fill="#4874b8" stroke="#9a9a9a" stroke-width="0.8"/>
<rect x="572.13" y="783.47" width="12.14" height="15.27" fill="#eff4dc" stroke="#9a9a9a" stroke-width="0.8"/>
<rect x="572.13" y="850.68" width="12.14" height="15.98" fill="#4874b8" stroke="#9a9a9a" stroke-width="0.8"/>
<rect x="584.28" y="783.47" width="12.14" height="15.27" fill="#f3f4d2" stroke="#9a9a9a" stroke-width="0.8"/>
<rect x="584.28" y="850.68" width="12.14" height="15.98" fill="#4874b8" stroke="#9a9a9a" stroke-width="0.8"/>
<rect x="596.42" y="783.47" width="12.14" height="15.27" fill="#f7f4c6" stroke="#9a9a9a" stroke-width="0.8"/>
<rect x="596.42" y="850.68" width="12.14" height="15.98" fill="#5687c4" stroke="#9a9a9a" stroke-width="0.8"/>
<rect x="608.57" y="783.47" width="12.14" height="15.27" fill="#f9f5be" stroke="#9a9a9a" stroke-width="0.8"/>
<rect x="608.57" y="850.68" width="12.14" height="15.98" fill="#6b9cce" stroke="#9a9a9a" stroke-width="0.8"/>
<rect x="620.71" y="783.47" width="12.14" height="15.27" fill="#faf2b6" stroke="#9a9a9a" stroke-width="0.8"/>
<rect x="620.71" y="850.68" width="12.14" height="15.98" fill="#4d7bbc" stroke="#9a9a9a" stroke-width="0.8"/>
<rect x="632.86" y="783.47" width="12.14" height="15.27" fill="#f1f4d8" stroke="#9a9a9a" stroke-width="0.8"/>
<rect x="632.86" y="850.68" width="12.14" height="15.98" fill="#4874b8" stroke="#9a9a9a" stroke-width="0.8"/>
<text x="46.8" y="793.5" font-size="6.7" text-anchor="end" font-weight="bold">WT+HNP1</text>
<text x="46.8" y="861.07" font-size="6.7" text-anchor="end" font-weight="bold">WT+HNP1</text>
<rect x="49.9" y="798.74" width="12.14" height="15.27" fill="#b4d7ec" stroke="#9a9a9a" stroke-width="0.8"/>
<rect x="49.9" y="866.66" width="12.14" height="15.98" fill="#f1f5da" stroke="#9a9a9a" stroke-width="0.8"/>
<rect x="62.05" y="798.74" width="12.14" height="15.27" fill="#faf4ba" stroke="#9a9a9a" stroke-width="0.8"/>
<rect x="62.05" y="866.66" width="12.14" height="15.98" fill="#5889c5" stroke="#9a9a9a" stroke-width="0.8"/>
<rect x="74.19" y="798.74" width="12.14" height="15.27" fill="#e6f2ec" stroke="#9a9a9a" stroke-width="0.8"/>
<rect x="74.19" y="866.66" width="12.14" height="15.98" fill="#4672b7" stroke="#9a9a9a" stroke-width="0.8"/>
<rect x="86.34" y="798.74" width="12.14" height="15.27" fill="#eff4dc" stroke="#9a9a9a" stroke-width="0.8"/>
<rect x="86.34" y="866.66" width="12.14" height="15.98" fill="#4874b8" stroke="#9a9a9a" stroke-width="0.8"/>
<rect x="98.48" y="798.74" width="12.14" height="15.27" fill="#faf4ba" stroke="#9a9a9a" stroke-width="0.8"/>
<rect x="98.48" y="866.66" width="12.14" height="15.98" fill="#4672b7" stroke="#9a9a9a" stroke-width="0.8"/>
<rect x="110.62" y="798.74" width="12.14" height="15.27" fill="#3c6cb2" stroke="#9a9a9a" stroke-width="0.8"/>
<rect x="110.62" y="866.66" width="12.14" height="15.98" fill="#98c4e0" stroke="#9a9a9a" stroke-width="0.8"/>
<rect x="122.77" y="798.74" width="12.14" height="15.27" fill="#c8e4f2" stroke="#9a9a9a" stroke-width="0.8"/>
<rect x="122.77" y="866.66" width="12.14" height="15.98" fill="#4672b7" stroke="#9a9a9a" stroke-width="0.8"/>
<rect x="134.91" y="798.74" width="12.14" height="15.27" fill="#faf4ba" stroke="#9a9a9a" stroke-width="0.8"/>
<rect x="134.91" y="866.66" width="12.14" height="15.98" fill="#4773b8" stroke="#9a9a9a" stroke-width="0.8"/>
<rect x="147.06" y="798.74" width="12.14" height="15.27" fill="#f2f4d5" stroke="#9a9a9a" stroke-width="0.8"/>
<rect x="147.06" y="866.66" width="12.14" height="15.98" fill="#5586c3" stroke="#9a9a9a" stroke-width="0.8"/>
<rect x="159.2" y="798.74" width="12.14" height="15.27" fill="#f6f4ca" stroke="#9a9a9a" stroke-width="0.8"/>
<rect x="159.2" y="866.66" width="12.14" height="15.98" fill="#4e7cbc" stroke="#9a9a9a" stroke-width="0.8"/>
<rect x="171.35" y="798.74" width="12.14" height="15.27" fill="#e1f0f2" stroke="#9a9a9a" stroke-width="0.8"/>
<rect x="171.35" y="866.66" width="12.14" height="15.98" fill="#4672b7" stroke="#9a9a9a" stroke-width="0.8"/>
<rect x="183.5" y="798.74" width="12.14" height="15.27" fill="#faf4ba" stroke="#9a9a9a" stroke-width="0.8"/>
<rect x="183.5" y="866.66" width="12.14" height="15.98" fill="#4e7cbc" stroke="#9a9a9a" stroke-width="0.8"/>
<rect x="195.64" y="798.74" width="12.14" height="15.27" fill="#f9f5be" stroke="#9a9a9a" stroke-width="0.8"/>
<rect x="195.64" y="866.66" width="12.14" height="15.98" fill="#f1f5da" stroke="#9a9a9a" stroke-width="0.8"/>
<rect x="207.78" y="798.74" width="12.14" height="15.27" fill="#eff4dc" stroke="#9a9a9a" stroke-width="0.8"/>
<rect x="207.78" y="866.66" width="12.14" height="15.98" fill="#4874b8" stroke="#9a9a9a" stroke-width="0.8"/>
<rect x="219.93" y="798.74" width="12.14" height="15.27" fill="#faf4ba" stroke="#9a9a9a" stroke-width="0.8"/>
<rect x="219.93" y="866.66" width="12.14" height="15.98" fill="#4b78ba" stroke="#9a9a9a" stroke-width="0.8"/>
<rect x="232.07" y="798.74" width="12.14" height="15.27" fill="#eff4dc" stroke="#9a9a9a" stroke-width="0.8"/>
<rect x="232.07" y="866.66" width="12.14" height="15.98" fill="#4874b8" stroke="#9a9a9a" stroke-width="0.8"/>
<rect x="244.22" y="798.74" width="12.14" height="15.27" fill="#eff4dc" stroke="#9a9a9a" stroke-width="0.8"/>
<rect x="244.22" y="866.66" width="12.14" height="15.98" fill="#4b78ba" stroke="#9a9a9a" stroke-width="0.8"/>
<rect x="256.37" y="798.74" width="12.14" height="15.27" fill="#eff4dc" stroke="#9a9a9a" stroke-width="0.8"/>
<rect x="256.37" y="866.66" width="12.14" height="15.98" fill="#4874b8" stroke="#9a9a9a" stroke-width="0.8"/>
<rect x="268.51" y="798.74" width="12.14" height="15.27" fill="#e6f2ec" stroke="#9a9a9a" stroke-width="0.8"/>
<rect x="268.51" y="866.66" width="12.14" height="15.98" fill="#4b78ba" stroke="#9a9a9a" stroke-width="0.8"/>
<rect x="280.65" y="798.74" width="12.14" height="15.27" fill="#deeff5" stroke="#9a9a9a" stroke-width="0.8"/>
<rect x="280.65" y="866.66" width="12.14" height="15.98" fill="#4874b8" stroke="#9a9a9a" stroke-width="0.8"/>
<rect x="292.8" y="798.74" width="12.14" height="15.27" fill="#fdd88d" stroke="#9a9a9a" stroke-width="0.8"/>
<rect x="292.8" y="866.66" width="12.14" height="15.98" fill="#4b78ba" stroke="#9a9a9a" stroke-width="0.8"/>
<rect x="304.94" y="798.74" width="12.14" height="15.27" fill="#eff4dc" stroke="#9a9a9a" stroke-width="0.8"/>
<rect x="304.94" y="866.66" width="12.14" height="15.98" fill="#4874b8" stroke="#9a9a9a" stroke-width="0.8"/>
<rect x="317.09" y="798.74" width="12.14" height="15.27" fill="#f2f4d5" stroke="#9a9a9a" stroke-width="0.8"/>
<rect x="317.09" y="866.66" width="12.14" height="15.98" fill="#4f7ebd" stroke="#9a9a9a" stroke-width="0.8"/>
<rect x="329.23" y="798.74" width="12.14" height="15.27" fill="#f9f5be" stroke="#9a9a9a" stroke-width="0.8"/>
<rect x="329.23" y="866.66" width="12.14" height="15.98" fill="#4874b8" stroke="#9a9a9a" stroke-width="0.8"/>
<rect x="341.38" y="798.74" width="12.14" height="15.27" fill="#f9f5be" stroke="#9a9a9a" stroke-width="0.8"/>
<rect x="341.38" y="866.66" width="12.14" height="15.98" fill="#4874b8" stroke="#9a9a9a" stroke-width="0.8"/>
<rect x="353.52" y="798.74" width="12.14" height="15.27" fill="#eaf2e6" stroke="#9a9a9a" stroke-width="0.8"/>
<rect x="353.52" y="866.66" width="12.14" height="15.98" fill="#4874b8" stroke="#9a9a9a" stroke-width="0.8"/>
<rect x="365.67" y="798.74" width="12.14" height="15.27" fill="#eff4dc" stroke="#9a9a9a" stroke-width="0.8"/>
<rect x="365.67" y="866.66" width="12.14" height="15.98" fill="#4874b8" stroke="#9a9a9a" stroke-width="0.8"/>
<rect x="377.81" y="798.74" width="12.14" height="15.27" fill="#b4d7ec" stroke="#9a9a9a" stroke-width="0.8"/>
<rect x="377.81" y="866.66" width="12.14" height="15.98" fill="#4874b8" stroke="#9a9a9a" stroke-width="0.8"/>
<rect x="389.96" y="798.74" width="12.14" height="15.27" fill="#eff4dc" stroke="#9a9a9a" stroke-width="0.8"/>
<rect x="389.96" y="866.66" width="12.14" height="15.98" fill="#4874b8" stroke="#9a9a9a" stroke-width="0.8"/>
<rect x="402.1" y="798.74" width="12.14" height="15.27" fill="#f2f4d5" stroke="#9a9a9a" stroke-width="0.8"/>
<rect x="402.1" y="866.66" width="12.14" height="15.98" fill="#4874b8" stroke="#9a9a9a" stroke-width="0.8"/>
<rect x="414.25" y="798.74" width="12.14" height="15.27" fill="#f1f4d8" stroke="#9a9a9a" stroke-width="0.8"/>
<rect x="414.25" y="866.66" width="12.14" height="15.98" fill="#4874b8" stroke="#9a9a9a" stroke-width="0.8"/>
<rect x="426.39" y="798.74" width="12.14" height="15.27" fill="#f3f4d2" stroke="#9a9a9a" stroke-width="0.8"/>
<rect x="426.39" y="866.66" width="12.14" height="15.98" fill="#4874b8" stroke="#9a9a9a" stroke-width="0.8"/>
<rect x="438.54" y="798.74" width="12.14" height="15.27" fill="#f7f4c6" stroke="#9a9a9a" stroke-width="0.8"/>
<rect x="438.54" y="866.66" width="12.14" height="15.98" fill="#4874b8" stroke="#9a9a9a" stroke-width="0.8"/>
<rect x="450.68" y="798.74" width="12.14" height="15.27" fill="#e3f1ef" stroke="#9a9a9a" stroke-width="0.8"/>
<rect x="450.68" y="866.66" width="12.14" height="15.98" fill="#4874b8" stroke="#9a9a9a" stroke-width="0.8"/>
<rect x="462.83" y="798.74" width="12.14" height="15.27" fill="#a3cce6" stroke="#9a9a9a" stroke-width="0.8"/>
<rect x="462.83" y="866.66" width="12.14" height="15.98" fill="#4874b8" stroke="#9a9a9a" stroke-width="0.8"/>
<rect x="474.97" y="798.74" width="12.14" height="15.27" fill="#e04e33" stroke="#9a9a9a" stroke-width="0.8"/>
<rect x="474.97" y="866.66" width="12.14" height="15.98" fill="#5a8bc6" stroke="#9a9a9a" stroke-width="0.8"/>
<rect x="487.12" y="798.74" width="12.14" height="15.27" fill="#de4931" stroke="#9a9a9a" stroke-width="0.8"/>
<rect x="487.12" y="866.66" width="12.14" height="15.98" fill="#4c7abb" stroke="#9a9a9a" stroke-width="0.8"/>
<rect x="499.26" y="798.74" width="12.14" height="15.27" fill="#f8f4c2" stroke="#9a9a9a" stroke-width="0.8"/>
<rect x="499.26" y="866.66" width="12.14" height="15.98" fill="#4874b8" stroke="#9a9a9a" stroke-width="0.8"/>
<rect x="511.41" y="798.74" width="12.14" height="15.27" fill="#f1f4d8" stroke="#9a9a9a" stroke-width="0.8"/>
<rect x="511.41" y="866.66" width="12.14" height="15.98" fill="#4874b8" stroke="#9a9a9a" stroke-width="0.8"/>
<rect x="523.55" y="798.74" width="12.14" height="15.27" fill="#f6f4ca" stroke="#9a9a9a" stroke-width="0.8"/>
<rect x="523.55" y="866.66" width="12.14" height="15.98" fill="#4874b8" stroke="#9a9a9a" stroke-width="0.8"/>
<rect x="535.7" y="798.74" width="12.14" height="15.27" fill="#e6f2ec" stroke="#9a9a9a" stroke-width="0.8"/>
<rect x="535.7" y="866.66" width="12.14" height="15.98" fill="#4874b8" stroke="#9a9a9a" stroke-width="0.8"/>
<rect x="547.85" y="798.74" width="12.14" height="15.27" fill="#f1f4d8" stroke="#9a9a9a" stroke-width="0.8"/>
<rect x="547.85" y="866.66" width="12.14" height="15.98" fill="#4874b8" stroke="#9a9a9a" stroke-width="0.8"/>
<rect x="559.99" y="798.74" width="12.14" height="15.27" fill="#e1f0f2" stroke="#9a9a9a" stroke-width="0.8"/>
<rect x="559.99" y="866.66" width="12.14" height="15.98" fill="#4874b8" stroke="#9a9a9a" stroke-width="0.8"/>
<rect x="572.13" y="798.74" width="12.14" height="15.27" fill="#e6f2ec" stroke="#9a9a9a" stroke-width="0.8"/>
<rect x="572.13" y="866.66" width="12.14" height="15.98" fill="#4874b8" stroke="#9a9a9a" stroke-width="0.8"/>
<rect x="584.28" y="798.74" width="12.14" height="15.27" fill="#f1f4d8" stroke="#9a9a9a" stroke-width="0.8"/>
<rect x="584.28" y="866.66" width="12.14" height="15.98" fill="#4874b8" stroke="#9a9a9a" stroke-width="0.8"/>
<rect x="596.42" y="798.74" width="12.14" height="15.27" fill="#f9f5be" stroke="#9a9a9a" stroke-width="0.8"/>
<rect x="596.42" y="866.66" width="12.14" height="15.98" fill="#5687c4" stroke="#9a9a9a" stroke-width="0.8"/>
<rect x="608.57" y="798.74" width="12.14" height="15.27" fill="#f7f4c6" stroke="#9a9a9a" stroke-width="0.8"/>
<rect x="608.57" y="866.66" width="12.14" height="15.98" fill="#6b9cce" stroke="#9a9a9a" stroke-width="0.8"/>
<rect x="620.71" y="798.74" width="12.14" height="15.27" fill="#f7f4c6" stroke="#9a9a9a" stroke-width="0.8"/>
<rect x="620.71" y="866.66" width="12.14" height="15.98" fill="#4d7bbc" stroke="#9a9a9a" stroke-width="0.8"/>
<rect x="632.86" y="798.74" width="12.14" height="15.27" fill="#f1f4d8" stroke="#9a9a9a" stroke-width="0.8"/>
<rect x="632.86" y="866.66" width="12.14" height="15.98" fill="#4874b8" stroke="#9a9a9a" stroke-width="0.8"/>
<text x="46.8" y="808.77" font-size="6.7" text-anchor="end" font-weight="bold">&#916;OmpA</text>
<text x="46.8" y="877.05" font-size="6.7" text-anchor="end" font-weight="bold">&#916;OmpA</text>
<rect x="49.9" y="814.01" width="12.14" height="15.27" fill="#f2f4d5" stroke="#9a9a9a" stroke-width="0.8"/>
<rect x="49.9" y="882.64" width="12.14" height="15.98" fill="#fdd58a" stroke="#9a9a9a" stroke-width="0.8"/>
<rect x="62.05" y="814.01" width="12.14" height="15.27" fill="#faf2b6" stroke="#9a9a9a" stroke-width="0.8"/>
<rect x="62.05" y="882.64" width="12.14" height="15.98" fill="#5e8fc8" stroke="#9a9a9a" stroke-width="0.8"/>
<rect x="74.19" y="814.01" width="12.14" height="15.27" fill="#f8f4c2" stroke="#9a9a9a" stroke-width="0.8"/>
<rect x="74.19" y="882.64" width="12.14" height="15.98" fill="#4672b7" stroke="#9a9a9a" stroke-width="0.8"/>
<rect x="86.34" y="814.01" width="12.14" height="15.27" fill="#fbf1b2" stroke="#9a9a9a" stroke-width="0.8"/>
<rect x="86.34" y="882.64" width="12.14" height="15.98" fill="#4d7bbc" stroke="#9a9a9a" stroke-width="0.8"/>
<rect x="98.48" y="814.01" width="12.14" height="15.27" fill="#fceea9" stroke="#9a9a9a" stroke-width="0.8"/>
<rect x="98.48" y="882.64" width="12.14" height="15.98" fill="#4672b7" stroke="#9a9a9a" stroke-width="0.8"/>
<rect x="110.62" y="814.01" width="12.14" height="15.27" fill="#4a7aba" stroke="#9a9a9a" stroke-width="0.8"/>
<rect x="110.62" y="882.64" width="12.14" height="15.98" fill="#a2cce4" stroke="#9a9a9a" stroke-width="0.8"/>
<rect x="122.77" y="814.01" width="12.14" height="15.27" fill="#d7ebf4" stroke="#9a9a9a" stroke-width="0.8"/>
<rect x="122.77" y="882.64" width="12.14" height="15.98" fill="#4672b7" stroke="#9a9a9a" stroke-width="0.8"/>
<rect x="134.91" y="814.01" width="12.14" height="15.27" fill="#fbefae" stroke="#9a9a9a" stroke-width="0.8"/>
<rect x="134.91" y="882.64" width="12.14" height="15.98" fill="#4f7ebd" stroke="#9a9a9a" stroke-width="0.8"/>
<rect x="147.06" y="814.01" width="12.14" height="15.27" fill="#f2f4d5" stroke="#9a9a9a" stroke-width="0.8"/>
<rect x="147.06" y="882.64" width="12.14" height="15.98" fill="#5586c3" stroke="#9a9a9a" stroke-width="0.8"/>
<rect x="159.2" y="814.01" width="12.14" height="15.27" fill="#f1f4d8" stroke="#9a9a9a" stroke-width="0.8"/>
<rect x="159.2" y="882.64" width="12.14" height="15.98" fill="#507fbe" stroke="#9a9a9a" stroke-width="0.8"/>
<rect x="171.35" y="814.01" width="12.14" height="15.27" fill="#f2f4d5" stroke="#9a9a9a" stroke-width="0.8"/>
<rect x="171.35" y="882.64" width="12.14" height="15.98" fill="#4672b7" stroke="#9a9a9a" stroke-width="0.8"/>
<rect x="183.5" y="814.01" width="12.14" height="15.27" fill="#f8f4c2" stroke="#9a9a9a" stroke-width="0.8"/>
<rect x="183.5" y="882.64" width="12.14" height="15.98" fill="#507fbe" stroke="#9a9a9a" stroke-width="0.8"/>
<rect x="195.64" y="814.01" width="12.14" height="15.27" fill="#f8f4c2" stroke="#9a9a9a" stroke-width="0.8"/>
<rect x="195.64" y="882.64" width="12.14" height="15.98" fill="#d6ecf5" stroke="#9a9a9a" stroke-width="0.8"/>
<rect x="207.78" y="814.01" width="12.14" height="15.27" fill="#f8f4c2" stroke="#9a9a9a" stroke-width="0.8"/>
<rect x="207.78" y="882.64" width="12.14" height="15.98" fill="#4874b8" stroke="#9a9a9a" stroke-width="0.8"/>
<rect x="219.93" y="814.01" width="12.14" height="15.27" fill="#f9f5be" stroke="#9a9a9a" stroke-width="0.8"/>
<rect x="219.93" y="882.64" width="12.14" height="15.98" fill="#4b78ba" stroke="#9a9a9a" stroke-width="0.8"/>
<rect x="232.07" y="814.01" width="12.14" height="15.27" fill="#f7f4c6" stroke="#9a9a9a" stroke-width="0.8"/>
<rect x="232.07" y="882.64" width="12.14" height="15.98" fill="#4874b8" stroke="#9a9a9a" stroke-width="0.8"/>
<rect x="244.22" y="814.01" width="12.14" height="15.27" fill="#eaf2e6" stroke="#9a9a9a" stroke-width="0.8"/>
<rect x="244.22" y="882.64" width="12.14" height="15.98" fill="#4b78ba" stroke="#9a9a9a" stroke-width="0.8"/>
<rect x="256.37" y="814.01" width="12.14" height="15.27" fill="#e6f2ec" stroke="#9a9a9a" stroke-width="0.8"/>
<rect x="256.37" y="882.64" width="12.14" height="15.98" fill="#4874b8" stroke="#9a9a9a" stroke-width="0.8"/>
<rect x="268.51" y="814.01" width="12.14" height="15.27" fill="#edf3df" stroke="#9a9a9a" stroke-width="0.8"/>
<rect x="268.51" y="882.64" width="12.14" height="15.98" fill="#4b78ba" stroke="#9a9a9a" stroke-width="0.8"/>
<rect x="280.65" y="814.01" width="12.14" height="15.27" fill="#eaf2e6" stroke="#9a9a9a" stroke-width="0.8"/>
<rect x="280.65" y="882.64" width="12.14" height="15.98" fill="#4874b8" stroke="#9a9a9a" stroke-width="0.8"/>
<rect x="292.8" y="814.01" width="12.14" height="15.27" fill="#fbf1b2" stroke="#9a9a9a" stroke-width="0.8"/>
<rect x="292.8" y="882.64" width="12.14" height="15.98" fill="#4b78ba" stroke="#9a9a9a" stroke-width="0.8"/>
<rect x="304.94" y="814.01" width="12.14" height="15.27" fill="#faf4ba" stroke="#9a9a9a" stroke-width="0.8"/>
<rect x="304.94" y="882.64" width="12.14" height="15.98" fill="#4874b8" stroke="#9a9a9a" stroke-width="0.8"/>
<rect x="317.09" y="814.01" width="12.14" height="15.27" fill="#f3f4d2" stroke="#9a9a9a" stroke-width="0.8"/>
<rect x="317.09" y="882.64" width="12.14" height="15.98" fill="#4f7ebd" stroke="#9a9a9a" stroke-width="0.8"/>
<rect x="329.23" y="814.01" width="12.14" height="15.27" fill="#f6f4ca" stroke="#9a9a9a" stroke-width="0.8"/>
<rect x="329.23" y="882.64" width="12.14" height="15.98" fill="#4874b8" stroke="#9a9a9a" stroke-width="0.8"/>
<rect x="341.38" y="814.01" width="12.14" height="15.27" fill="#fdb56e" stroke="#9a9a9a" stroke-width="0.8"/>
<rect x="341.38" y="882.64" width="12.14" height="15.98" fill="#4874b8" stroke="#9a9a9a" stroke-width="0.8"/>
<rect x="353.52" y="814.01" width="12.14" height="15.27" fill="#f9f5be" stroke="#9a9a9a" stroke-width="0.8"/>
<rect x="353.52" y="882.64" width="12.14" height="15.98" fill="#4874b8" stroke="#9a9a9a" stroke-width="0.8"/>
<rect x="365.67" y="814.01" width="12.14" height="15.27" fill="#f2f4d5" stroke="#9a9a9a" stroke-width="0.8"/>
<rect x="365.67" y="882.64" width="12.14" height="15.98" fill="#4874b8" stroke="#9a9a9a" stroke-width="0.8"/>
<rect x="377.81" y="814.01" width="12.14" height="15.27" fill="#8ebcdd" stroke="#9a9a9a" stroke-width="0.8"/>
<rect x="377.81" y="882.64" width="12.14" height="15.98" fill="#4874b8" stroke="#9a9a9a" stroke-width="0.8"/>
<rect x="389.96" y="814.01" width="12.14" height="15.27" fill="#eaf2e6" stroke="#9a9a9a" stroke-width="0.8"/>
<rect x="389.96" y="882.64" width="12.14" height="15.98" fill="#4874b8" stroke="#9a9a9a" stroke-width="0.8"/>
<rect x="402.1" y="814.01" width="12.14" height="15.27" fill="#eaf2e6" stroke="#9a9a9a" stroke-width="0.8"/>
<rect x="402.1" y="882.64" width="12.14" height="15.98" fill="#4874b8" stroke="#9a9a9a" stroke-width="0.8"/>
<rect x="414.25" y="814.01" width="12.14" height="15.27" fill="#eaf2e6" stroke="#9a9a9a" stroke-width="0.8"/>
<rect x="414.25" y="882.64" width="12.14" height="15.98" fill="#4874b8" stroke="#9a9a9a" stroke-width="0.8"/>
<rect x="426.39" y="814.01" width="12.14" height="15.27" fill="#edf3df" stroke="#9a9a9a" stroke-width="0.8"/>
<rect x="426.39" y="882.64" width="12.14" height="15.98" fill="#4874b8" stroke="#9a9a9a" stroke-width="0.8"/>
<rect x="438.54" y="814.01" width="12.14" height="15.27" fill="#eff4dc" stroke="#9a9a9a" stroke-width="0.8"/>
<rect x="438.54" y="882.64" width="12.14" height="15.98" fill="#4874b8" stroke="#9a9a9a" stroke-width="0.8"/>
<rect x="450.68" y="814.01" width="12.14" height="15.27" fill="#e6f2ec" stroke="#9a9a9a" stroke-width="0.8"/>
<rect x="450.68" y="882.64" width="12.14" height="15.98" fill="#4874b8" stroke="#9a9a9a" stroke-width="0.8"/>
<rect x="462.83" y="814.01" width="12.14" height="15.27" fill="#c8e4f2" stroke="#9a9a9a" stroke-width="0.8"/>
<rect x="462.83" y="882.64" width="12.14" height="15.98" fill="#4874b8" stroke="#9a9a9a" stroke-width="0.8"/>
<rect x="474.97" y="814.01" width="12.14" height="15.27" fill="#faf4ba" stroke="#9a9a9a" stroke-width="0.8"/>
<rect x="474.97" y="882.64" width="12.14" height="15.98" fill="#4976b9" stroke="#9a9a9a" stroke-width="0.8"/>
<rect x="487.12" y="814.01" width="12.14" height="15.27" fill="#faf4ba" stroke="#9a9a9a" stroke-width="0.8"/>
<rect x="487.12" y="882.64" width="12.14" height="15.98" fill="#4c7abb" stroke="#9a9a9a" stroke-width="0.8"/>
<rect x="499.26" y="814.01" width="12.14" height="15.27" fill="#eff4dc" stroke="#9a9a9a" stroke-width="0.8"/>
<rect x="499.26" y="882.64" width="12.14" height="15.98" fill="#4874b8" stroke="#9a9a9a" stroke-width="0.8"/>
<rect x="511.41" y="814.01" width="12.14" height="15.27" fill="#edf3df" stroke="#9a9a9a" stroke-width="0.8"/>
<rect x="511.41" y="882.64" width="12.14" height="15.98" fill="#4874b8" stroke="#9a9a9a" stroke-width="0.8"/>
<rect x="523.55" y="814.01" width="12.14" height="15.27" fill="#f2f4d5" stroke="#9a9a9a" stroke-width="0.8"/>
<rect x="523.55" y="882.64" width="12.14" height="15.98" fill="#4874b8" stroke="#9a9a9a" stroke-width="0.8"/>
<rect x="535.7" y="814.01" width="12.14" height="15.27" fill="#c8e4f2" stroke="#9a9a9a" stroke-width="0.8"/>
<rect x="535.7" y="882.64" width="12.14" height="15.98" fill="#4874b8" stroke="#9a9a9a" stroke-width="0.8"/>
<rect x="547.85" y="814.01" width="12.14" height="15.27" fill="#f7f4c6" stroke="#9a9a9a" stroke-width="0.8"/>
<rect x="547.85" y="882.64" width="12.14" height="15.98" fill="#4874b8" stroke="#9a9a9a" stroke-width="0.8"/>
<rect x="559.99" y="814.01" width="12.14" height="15.27" fill="#f3f4d2" stroke="#9a9a9a" stroke-width="0.8"/>
<rect x="559.99" y="882.64" width="12.14" height="15.98" fill="#4874b8" stroke="#9a9a9a" stroke-width="0.8"/>
<rect x="572.13" y="814.01" width="12.14" height="15.27" fill="#f3f4d2" stroke="#9a9a9a" stroke-width="0.8"/>
<rect x="572.13" y="882.64" width="12.14" height="15.98" fill="#4874b8" stroke="#9a9a9a" stroke-width="0.8"/>
<rect x="584.28" y="814.01" width="12.14" height="15.27" fill="#f7f4c6" stroke="#9a9a9a" stroke-width="0.8"/>
<rect x="584.28" y="882.64" width="12.14" height="15.98" fill="#4874b8" stroke="#9a9a9a" stroke-width="0.8"/>
<rect x="596.42" y="814.01" width="12.14" height="15.27" fill="#f7f4c6" stroke="#9a9a9a" stroke-width="0.8"/>
<rect x="596.42" y="882.64" width="12.14" height="15.98" fill="#5687c4" stroke="#9a9a9a" stroke-width="0.8"/>
<rect x="608.57" y="814.01" width="12.14" height="15.27" fill="#f9f5be" stroke="#9a9a9a" stroke-width="0.8"/>
<rect x="608.57" y="882.64" width="12.14" height="15.98" fill="#6b9cce" stroke="#9a9a9a" stroke-width="0.8"/>
<rect x="620.71" y="814.01" width="12.14" height="15.27" fill="#fce194" stroke="#9a9a9a" stroke-width="0.8"/>
<rect x="620.71" y="882.64" width="12.14" height="15.98" fill="#4d7bbc" stroke="#9a9a9a" stroke-width="0.8"/>
<rect x="632.86" y="814.01" width="12.14" height="15.27" fill="#eff4dc" stroke="#9a9a9a" stroke-width="0.8"/>
<rect x="632.86" y="882.64" width="12.14" height="15.98" fill="#4874b8" stroke="#9a9a9a" stroke-width="0.8"/>
<text x="46.8" y="824.05" font-size="6.7" text-anchor="end" font-weight="bold">&#916;OmpA+HNP1</text>
<text x="46.8" y="893.03" font-size="6.7" text-anchor="end" font-weight="bold">&#916;OmpA+HNP1</text>
<text transform="translate(56.37,904.1) rotate(-45)" font-size="7" text-anchor="end">bap</text>
<text transform="translate(68.52,904.1) rotate(-45)" font-size="7" text-anchor="end">KIH05_RS04920</text>
<text transform="translate(80.66,904.1) rotate(-45)" font-size="7" text-anchor="end">KIH05_RS05840</text>
<text transform="translate(92.81,904.1) rotate(-45)" font-size="7" text-anchor="end">KIH05_RS07320</text>
<text transform="translate(104.95,904.1) rotate(-45)" font-size="7" text-anchor="end">KIH05_RS08250</text>
<text transform="translate(117.1,904.1) rotate(-45)" font-size="7" text-anchor="end" fill="#EE2430" font-weight="bold">ompA</text>
<text transform="translate(129.24,904.1) rotate(-45)" font-size="7" text-anchor="end">KIH05_RS17060</text>
<text transform="translate(141.39,904.1) rotate(-45)" font-size="7" text-anchor="end">csuE</text>
<text transform="translate(153.53,904.1) rotate(-45)" font-size="7" text-anchor="end">csuD</text>
<text transform="translate(165.68,904.1) rotate(-45)" font-size="7" text-anchor="end">csuC</text>
<text transform="translate(177.82,904.1) rotate(-45)" font-size="7" text-anchor="end">csuB</text>
<text transform="translate(189.97,904.1) rotate(-45)" font-size="7" text-anchor="end">csuA</text>
<text transform="translate(202.11,904.1) rotate(-45)" font-size="7" text-anchor="end">csuAB</text>
<text transform="translate(214.26,904.1) rotate(-45)" font-size="7" text-anchor="end">KIH05_RS09560</text>
<text transform="translate(226.4,904.1) rotate(-45)" font-size="7" text-anchor="end">KIH05_RS09565</text>
<text transform="translate(238.55,904.1) rotate(-45)" font-size="7" text-anchor="end">KIH05_RS09570</text>
<text transform="translate(250.69,904.1) rotate(-45)" font-size="7" text-anchor="end">KIH05_RS10840</text>
<text transform="translate(262.84,904.1) rotate(-45)" font-size="7" text-anchor="end">KIH05_RS10845</text>
<text transform="translate(274.98,904.1) rotate(-45)" font-size="7" text-anchor="end">KIH05_RS12585</text>
<text transform="translate(287.13,904.1) rotate(-45)" font-size="7" text-anchor="end">KIH05_RS12590</text>
<text transform="translate(299.27,904.1) rotate(-45)" font-size="7" text-anchor="end">KIH05_RS01185</text>
<text transform="translate(311.42,904.1) rotate(-45)" font-size="7" text-anchor="end">epsC</text>
<text transform="translate(323.56,904.1) rotate(-45)" font-size="7" text-anchor="end">bfmS</text>
<text transform="translate(335.71,904.1) rotate(-45)" font-size="7" text-anchor="end">bfmR</text>
<text transform="translate(347.85,904.1) rotate(-45)" font-size="7" text-anchor="end">abaI</text>
<text transform="translate(360,904.1) rotate(-45)" font-size="7" text-anchor="end">abaR</text>
<text transform="translate(372.14,904.1) rotate(-45)" font-size="7" text-anchor="end">abaF</text>
<text transform="translate(384.29,904.1) rotate(-45)" font-size="7" text-anchor="end">abaQ</text>
<text transform="translate(396.43,904.1) rotate(-45)" font-size="7" text-anchor="end">pgaB_RS05365</text>
<text transform="translate(408.58,904.1) rotate(-45)" font-size="7" text-anchor="end">pgaC_RS05370</text>
<text transform="translate(420.72,904.1) rotate(-45)" font-size="7" text-anchor="end">pgaD_RS05375</text>
<text transform="translate(432.87,904.1) rotate(-45)" font-size="7" text-anchor="end">pgaD_RS12930</text>
<text transform="translate(445.01,904.1) rotate(-45)" font-size="7" text-anchor="end">pgaC_RS12935</text>
<text transform="translate(457.16,904.1) rotate(-45)" font-size="7" text-anchor="end">pgaB_RS12940</text>
<text transform="translate(469.3,904.1) rotate(-45)" font-size="7" text-anchor="end">pgaA</text>
<text transform="translate(481.45,904.1) rotate(-45)" font-size="7" text-anchor="end" fill="#EE2430" font-weight="bold">adeB</text>
<text transform="translate(493.59,904.1) rotate(-45)" font-size="7" text-anchor="end" fill="#EE2430" font-weight="bold">adeA</text>
<text transform="translate(505.74,904.1) rotate(-45)" font-size="7" text-anchor="end">adeR</text>
<text transform="translate(517.88,904.1) rotate(-45)" font-size="7" text-anchor="end">adeS</text>
<text transform="translate(530.03,904.1) rotate(-45)" font-size="7" text-anchor="end">adeT1</text>
<text transform="translate(542.17,904.1) rotate(-45)" font-size="7" text-anchor="end">adeN</text>
<text transform="translate(554.32,904.1) rotate(-45)" font-size="7" text-anchor="end">adeL</text>
<text transform="translate(566.46,904.1) rotate(-45)" font-size="7" text-anchor="end">adeF</text>
<text transform="translate(578.61,904.1) rotate(-45)" font-size="7" text-anchor="end">adeG</text>
<text transform="translate(590.75,904.1) rotate(-45)" font-size="7" text-anchor="end">adeH</text>
<text transform="translate(602.9,904.1) rotate(-45)" font-size="7" text-anchor="end">adeI</text>
<text transform="translate(615.04,904.1) rotate(-45)" font-size="7" text-anchor="end">adeJ</text>
<text transform="translate(627.19,904.1) rotate(-45)" font-size="7" text-anchor="end">adeK</text>
<text transform="translate(639.33,904.1) rotate(-45)" font-size="7" text-anchor="end">adeT2</text>
<text x="646.7" y="774.3" font-size="6.6" font-weight="bold">Log<tspan font-size="4.5" dy="1.5">2</tspan><tspan dy="-1.5">(Fold</tspan></text>
<text x="648.3" y="782.4" font-size="6.6" font-weight="bold">of Change)</text>
<rect x="650.7" y="789" width="8.3" height="1.59" fill="#db392c"/>
<rect x="650.7" y="790.29" width="8.3" height="1.59" fill="#e24c36"/>
<rect x="650.7" y="791.57" width="8.3" height="1.59" fill="#ea5e40"/>
<rect x="650.7" y="792.86" width="8.3" height="1.59" fill="#f1714a"/>
<rect x="650.7" y="794.15" width="8.3" height="1.59" fill="#f88454"/>
<rect x="650.7" y="795.43" width="8.3" height="1.59" fill="#fc955e"/>
<rect x="650.7" y="796.72" width="8.3" height="1.59" fill="#fda66a"/>
<rect x="650.7" y="798.01" width="8.3" height="1.59" fill="#fdb674"/>
<rect x="650.7" y="799.29" width="8.3" height="1.59" fill="#fdc780"/>
<rect x="650.7" y="800.58" width="8.3" height="1.59" fill="#fed88b"/>
<rect x="650.7" y="801.87" width="8.3" height="1.59" fill="#fee395"/>
<rect x="650.7" y="803.15" width="8.3" height="1.59" fill="#fee99e"/>
<rect x="650.7" y="804.44" width="8.3" height="1.59" fill="#fef0a8"/>
<rect x="650.7" y="805.73" width="8.3" height="1.59" fill="#fff6b1"/>
<rect x="650.7" y="807.01" width="8.3" height="1.59" fill="#fffcba"/>
<rect x="650.7" y="808.3" width="8.3" height="1.59" fill="#fcfec5"/>
<rect x="650.7" y="809.59" width="8.3" height="1.59" fill="#f6fbd0"/>
<rect x="650.7" y="810.87" width="8.3" height="1.59" fill="#f0f9dc"/>
<rect x="650.7" y="812.16" width="8.3" height="1.59" fill="#e9f7e7"/>
<rect x="650.7" y="813.45" width="8.3" height="1.59" fill="#e3f4f2"/>
<rect x="650.7" y="814.73" width="8.3" height="1.59" fill="#d8eef5"/>
<rect x="650.7" y="816.02" width="8.3" height="1.59" fill="#c8e3ef"/>
<rect x="650.7" y="817.31" width="8.3" height="1.59" fill="#b9d9ea"/>
<rect x="650.7" y="818.59" width="8.3" height="1.59" fill="#a9cfe4"/>
<rect x="650.7" y="819.88" width="8.3" height="1.59" fill="#99c4de"/>
<rect x="650.7" y="821.17" width="8.3" height="1.59" fill="#89b8d7"/>
<rect x="650.7" y="822.45" width="8.3" height="1.59" fill="#7aa9cf"/>
<rect x="650.7" y="823.74" width="8.3" height="1.59" fill="#6b9ac8"/>
<rect x="650.7" y="825.03" width="8.3" height="1.59" fill="#5c8bc0"/>
<rect x="650.7" y="826.31" width="8.3" height="1.59" fill="#4d7cb8"/>
<line x1="657.2" y1="794.5" x2="659" y2="794.5" stroke="#fff" stroke-width="0.6"/>
<text x="660.4" y="796.6" font-size="6">2</text>
<line x1="657.2" y1="802.6" x2="659" y2="802.6" stroke="#fff" stroke-width="0.6"/>
<text x="660.4" y="804.7" font-size="6">1</text>
<line x1="657.2" y1="810.5" x2="659" y2="810.5" stroke="#fff" stroke-width="0.6"/>
<text x="660.4" y="812.6" font-size="6">0</text>
<line x1="657.2" y1="818.7" x2="659" y2="818.7" stroke="#fff" stroke-width="0.6"/>
<text x="660.4" y="820.8" font-size="6">&#8722;1</text>
<text x="646.7" y="842.6" font-size="6.7" font-weight="bold">Count</text>
<text x="646.7" y="850.8" font-size="6.7" font-weight="bold">per million</text>
<rect x="650.7" y="856.5" width="8.3" height="1.71" fill="#db392c"/>
<rect x="650.7" y="857.91" width="8.3" height="1.71" fill="#e24c36"/>
<rect x="650.7" y="859.33" width="8.3" height="1.71" fill="#ea5e40"/>
<rect x="650.7" y="860.74" width="8.3" height="1.71" fill="#f1714a"/>
<rect x="650.7" y="862.15" width="8.3" height="1.71" fill="#f88454"/>
<rect x="650.7" y="863.57" width="8.3" height="1.71" fill="#fc955e"/>
<rect x="650.7" y="864.98" width="8.3" height="1.71" fill="#fda66a"/>
<rect x="650.7" y="866.39" width="8.3" height="1.71" fill="#fdb674"/>
<rect x="650.7" y="867.81" width="8.3" height="1.71" fill="#fdc780"/>
<rect x="650.7" y="869.22" width="8.3" height="1.71" fill="#fed88b"/>
<rect x="650.7" y="870.63" width="8.3" height="1.71" fill="#fee395"/>
<rect x="650.7" y="872.05" width="8.3" height="1.71" fill="#fee99e"/>
<rect x="650.7" y="873.46" width="8.3" height="1.71" fill="#fef0a8"/>
<rect x="650.7" y="874.87" width="8.3" height="1.71" fill="#fff6b1"/>
<rect x="650.7" y="876.29" width="8.3" height="1.71" fill="#fffcba"/>
<rect x="650.7" y="877.7" width="8.3" height="1.71" fill="#fcfec5"/>
<rect x="650.7" y="879.11" width="8.3" height="1.71" fill="#f6fbd0"/>
<rect x="650.7" y="880.53" width="8.3" height="1.71" fill="#f0f9dc"/>
<rect x="650.7" y="881.94" width="8.3" height="1.71" fill="#e9f7e7"/>
<rect x="650.7" y="883.35" width="8.3" height="1.71" fill="#e3f4f2"/>
<rect x="650.7" y="884.77" width="8.3" height="1.71" fill="#d8eef5"/>
<rect x="650.7" y="886.18" width="8.3" height="1.71" fill="#c8e3ef"/>
<rect x="650.7" y="887.59" width="8.3" height="1.71" fill="#b8d9ea"/>
<rect x="650.7" y="889.01" width="8.3" height="1.71" fill="#a9cfe4"/>
<rect x="650.7" y="890.42" width="8.3" height="1.71" fill="#99c4de"/>
<rect x="650.7" y="891.83" width="8.3" height="1.71" fill="#89b8d7"/>
<rect x="650.7" y="893.25" width="8.3" height="1.71" fill="#7aa9cf"/>
<rect x="650.7" y="894.66" width="8.3" height="1.71" fill="#6b9ac8"/>
<rect x="650.7" y="896.07" width="8.3" height="1.71" fill="#5c8bc0"/>
<rect x="650.7" y="897.49" width="8.3" height="1.71" fill="#4d7cb8"/>
<text x="660.2" y="864.4" font-size="5.3">20000</text>
<text x="660.2" y="873.3" font-size="5.3">15000</text>
<text x="660.2" y="882.2" font-size="5.3">10000</text>
<text x="661.6" y="891.4" font-size="5.3">5000</text>
</svg></body></html>
